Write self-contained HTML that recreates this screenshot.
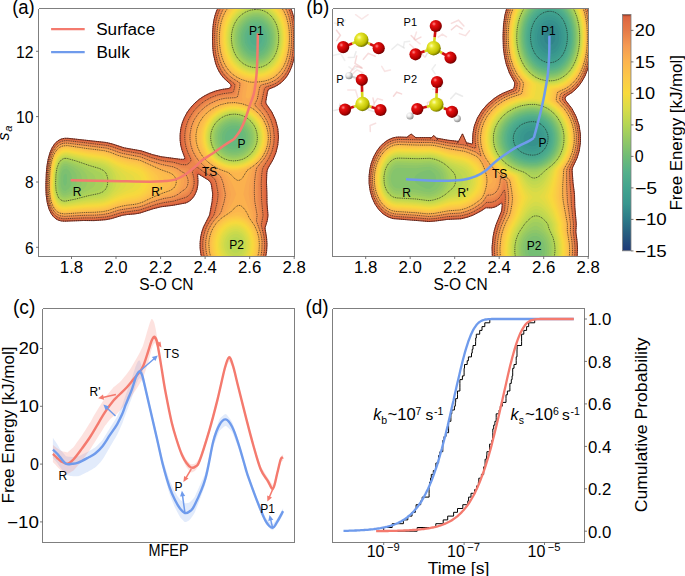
<!DOCTYPE html>
<html><head><meta charset="utf-8"><title>Free energy figure</title>
<style>html,body{margin:0;padding:0;background:#fff;width:685px;height:576px;overflow:hidden}svg{display:block}</style>
</head><body>
<svg width="685" height="576" viewBox="0 0 685 576"><rect width="100%" height="100%" fill="#fff"/><defs>
<clipPath id="clipA"><rect x="39" y="9" width="255" height="247"/></clipPath>
<clipPath id="clipB"><rect x="333" y="9" width="255" height="247"/></clipPath>
<clipPath id="clipC"><rect x="43" y="309" width="251" height="233"/></clipPath>
<clipPath id="clipD"><rect x="333" y="309" width="251" height="233"/></clipPath>
<filter id="blur1" x="-5%" y="-5%" width="110%" height="110%"><feGaussianBlur stdDeviation="0.7"/></filter>
</defs><g clip-path="url(#clipA)"><g><path d="M218.4,7 218.7,6.5 290,6.5 292.4,12.5 294.2,19.5 295.4,30.5 295.3,46.5 294.2,57 291.9,66 290.1,70.5 288,74.5 285.6,78 283,80.9 280.1,83.5 277.1,85.5 268.5,89.5 267.6,91.5 265.9,101 265.8,102.5 266.3,104 272,112.3 274,116.2 275.7,120.5 277.8,128.5 278.5,137 277.8,145 276,152.5 273.1,159.5 268.1,168 267.2,170.5 266.8,173 266.5,182 266.9,193.5 267,203 268,215.5 267.3,220.5 265,228 266.6,238 267,244.5 266.6,251.5 265.4,258.5 201.9,258.5 200.7,253.5 200.1,248 200.1,242.5 200.7,237 201.8,232 203.5,227 209.6,215 212.1,201.5 212.7,196.5 212.7,193.5 211.5,185.5 210.8,183 209.9,181.5 208,179.8 198.5,174.1 198,174.1 197.6,175 198,181.5 197.6,186.5 196.8,190 195.5,193.5 193.5,197 191.4,199.5 188.5,201.7 185.5,203 173,205.3 161,206.8 153,208.8 140.1,213 135,213.9 127.5,214.5 122.5,215.3 110.5,218.8 104.5,219.9 94,220.6 83.5,220.5 64,221.2 59.4,220.5 55.4,218.5 52.8,216 50.5,212.4 48.6,208 47.3,203 46.4,197.5 45.9,191 46.2,174.5 46.8,167.5 47.7,161.5 48.9,156 50.5,151.2 52.5,147 54.5,144 57,141.4 60,139.5 63.5,138.4 67.5,138.3 105.5,142.4 112,143.8 124.5,147.9 141,150.7 152.5,154.6 161,156.7 180.5,159.3 183.5,159.3 184.6,159 184.7,157.5 182.1,150.5 180.7,145 180.1,140 180.1,134.5 180.8,128.5 182.2,123 184.4,117.5 187.4,112 191,107.2 194.9,103 199.5,99.1 204.2,96 209.5,93.3 215.5,91 221.5,89.5 229,88.4 230,87.9 230.8,86.5 231,85.5 230.5,84.3 223.5,77.8 221,74.6 218.8,71 215.6,63.5 213.5,54.5 212.8,48.5 212.5,42 212.6,33 213,26 213.8,20.5 215,15.5 216.5,11 218.4,7Z" fill="#dc6440" fill-rule="evenodd"/><path d="M219.3,6.5 289.4,6.5 292,12.8 293.8,20 294.9,31 294.9,46.5 293.7,57 291.4,66 289.6,70.5 287.5,74.3 285,77.8 282.5,80.6 279.7,83 276.7,85 273.5,86.6 268.5,88.5 267.5,89.3 266.7,91.5 264.8,102 264.9,103.5 265.4,104.5 271,112.5 274.5,120.1 276.8,128.5 277.5,137 276.9,144.5 275.1,152 272.2,159 266.9,168 265.7,173 265.3,182.5 265.7,202.5 266.8,215.5 266.2,220 264.2,227.5 265.9,237.5 266.4,244 266.1,251.5 264.8,258.5 202.6,258.5 201.4,253.5 200.7,248 200.7,242.5 201.3,237 202.6,231.5 204.4,226.5 210.6,215 213.3,201.5 213.9,196.5 213.9,193 212.6,185 211.9,182.5 211,180.9 209,179.1 197,171.7 196.3,172 196,173 197,179 197,184 196.4,188 195.3,191.5 193.6,195 191.3,198 188.5,200.3 185.5,201.8 173,204.3 161,205.9 152.5,208.1 140,212.3 135,213.1 127.5,213.8 122.5,214.6 110.5,218.1 104.5,219.3 94,219.9 83.5,219.9 64,220.6 59.5,219.9 57.5,219.1 55.5,217.9 53,215.5 50.7,212 48.8,207.5 47.5,202.5 46.6,197 46.2,190.5 46.6,173.5 47.1,167 48.1,161 49.4,155.5 51,151 53,147 55.1,144 57.5,141.7 60.5,139.9 63.5,139 67.5,138.9 105.5,143 112,144.5 124,148.5 141,151.5 152.5,155.4 161,157.6 173,159.1 181.5,160.6 185.5,160.9 186.5,160.5 186.8,160 186.8,159 183.8,152 182.2,146.5 181.4,141.5 181.1,136 181.7,130 182.9,124.5 184.9,119 187.8,113.5 191,108.9 194.9,104.5 199.5,100.5 204,97.4 210,94.2 216,92 221.9,90.5 230,89.3 231,88.5 231.8,86.5 231.8,85 231.3,84 224.5,78 221.7,74.5 219.5,71 217.5,67 216.1,63 214,54.1 213.4,48.5 213,41 213.1,32.5 213.6,25.5 214.4,20.5 215.6,15.5 217.2,11 219.3,6.5Z" fill="#e06a42" fill-rule="evenodd"/><path d="M219.7,7 220,6.5 288.8,6.5 291.5,13 293.4,20.5 294.5,31.5 294.4,46.5 293.2,57 290.9,66 289,70.4 287,74.1 284.5,77.5 281.7,80.5 279,82.8 276,84.7 272.5,86.3 267.8,88 266.6,89 265.9,91 263.7,102.5 264.1,104.5 269.7,112.5 271.9,116.5 273.5,120.5 275.7,128.5 276.5,137 275.9,144.5 274,152 271,159 265.8,167.5 264.8,170.5 264.5,173 264,182.5 264.5,202 265.7,215.5 265.1,219.5 263.5,225 263.3,227 265.4,237.5 265.9,245 265.4,252 264.2,258.5 203.3,258.5 202,253 201.4,247.5 201.4,242 202.1,236.5 203.3,231.5 205.1,226.5 211.8,214.5 214.6,201.5 215.2,196 215.2,193 213.7,184 212.8,181.5 211.9,180 210.2,178.5 204,174.9 198,170.6 197,170.2 195.5,170.7 194.8,172 195.9,178 196.2,182 195.7,186.5 194.5,190.8 193,194 190.7,197 188.4,199 185.5,200.4 173,203.3 164.5,204.4 159.5,205.4 152.5,207.3 143.5,210.5 139.5,211.6 122.5,213.8 118.5,214.8 110.5,217.4 104.5,218.6 94,219.3 84,219.2 64,220 59.5,219.3 57.5,218.5 55.5,217.2 53,214.7 50.7,211 49,206.9 47.6,201.5 46.8,196 46.4,189.5 46.9,173.5 47.4,167 48.4,161 49.6,156 51.2,151.5 53,147.7 55.3,144.5 57.9,142 60.5,140.5 63.5,139.6 67.5,139.5 105,143.6 111.5,145.1 124,149.2 141,152.3 152.5,156.2 162,158.7 172.5,160.1 181.5,161.9 185,162.3 186.5,162.1 187.9,161 188.3,160 188.2,159 185.2,152.5 183.4,146.5 182.5,141.5 182.3,136.5 182.8,130.5 184,125 186,119.5 188.5,114.5 191.6,110 195.5,105.5 199.5,101.9 204.3,98.5 210,95.4 216.3,93 222.5,91.5 230.5,90.4 231.7,89.5 232.7,87 232.8,85 232.4,84 227.5,80.1 225,77.6 222.4,74.5 219.9,70.5 216.6,63 214.5,54 213.9,48 213.6,41 213.6,32.5 214.1,25.5 214.9,20.5 216.2,15.5 217.8,11 219.7,7Z" fill="#e27144" fill-rule="evenodd"/><path d="M220.4,7 220.7,6.5 288.2,6.5 291,13 292.8,20.5 294,32 293.9,46.5 292.5,58 290.3,66 288.5,70.2 286.4,74 283.8,77.5 281,80.4 278.5,82.4 275.5,84.3 271.6,86 267,87.5 265.7,88.5 265.1,90.5 262.6,103 263,105 268.8,113 272.4,120.5 274.6,128.5 275.4,136.5 274.9,144 273.1,151.5 270,158.6 264.5,167.5 263.6,170.5 263.1,173.5 262.7,183 263.1,201.5 264.4,215.5 264,219 262.5,224.3 262.3,226 264.6,236.5 265.3,244.5 264.9,251.5 263.5,258.5 204,258.5 202.7,253 202.1,247.5 202.1,242 202.8,236.5 204,231.5 206,226.3 208.3,222 212.3,216 213.1,214 215.9,201.5 216.6,196 216.6,193 215,184 214.3,181.5 213.2,179.5 211.5,178 204.7,174 198.5,169.5 197,168.8 196,169 194.7,170 193.9,171 193.7,172 194.9,178 195.2,182 194.7,186.5 193.5,190.5 192,193.5 190,196.1 187.5,198.1 185,199.2 173,202.3 164,203.6 158.5,204.8 152,206.6 143.5,209.7 139.5,210.8 122,213.2 110.5,216.7 104.5,217.9 94.5,218.6 84,218.6 64.5,219.4 59.5,218.7 57.5,217.9 55.5,216.5 53,213.9 50.9,210.5 49.1,206 47.9,201 47.1,195.5 46.7,189.5 47.2,173 48.7,161 49.9,156 51.5,151.6 53.5,147.7 55.5,144.9 58,142.6 60.8,141 64,140.2 67.5,140 86,142.4 95.5,143.1 105,144.3 111.5,145.8 123.5,149.8 141,153 152.5,157.1 162.5,159.7 172.5,161 181.5,163.2 184.5,163.5 187,163.1 189,161.5 189.6,160.5 189.5,159 186.3,152 184.5,146 183.7,141.5 183.5,136.5 183.9,131 185.1,125.5 187,120 189.6,115 192.7,110.5 196.2,106.5 200.5,102.6 205,99.4 211,96.2 217,94 223,92.5 231.5,91.3 232.8,90 233.5,87.5 233.8,85.5 233.5,84 225.7,77.5 223,74.3 220.5,70.4 217.2,63 215.3,55 214.5,48.7 214.1,42 214.2,33.5 214.6,26.5 215.5,20.5 216.6,16 218.2,11.5 220.4,7Z" fill="#e47747" fill-rule="evenodd"/><path d="M221.4,6.5 287.6,6.5 290.6,13.5 292.5,21.5 293.5,32.5 293.4,46.5 292,57.5 291,62.1 289.7,66 288,70 285.7,74 283.4,77 280.5,80 277.5,82.3 274.6,84 266,87 264.8,88 264.2,90 261.3,103.5 261.9,105.5 267.5,113 271,120 273.4,128 274.3,136.5 273.8,144 272,151.3 268.8,158.5 263.1,167.5 262.3,170.5 261.8,174 261.2,183.5 261.7,201.5 263.1,215.5 261.3,225 263.9,236 264.7,244.5 264.3,251.5 262.9,258.5 204.7,258.5 203.4,253 202.7,247.5 202.8,241.5 203.6,236 205,230.7 207,225.8 209,222.2 213.3,216 214.3,214 217.2,202 218,196 218,193 216.3,183.5 215.4,180.5 214.5,178.9 212.5,177.1 205,172.9 197.5,167.5 196,167.6 194.7,168.5 193.2,170 192.5,171.5 192.6,173 193.9,178 194.2,181.5 193.8,186 192.6,190 191.3,192.5 189.5,194.8 187.5,196.5 185,197.8 173.5,201.2 163.5,202.7 157,204.3 151.5,205.9 139.8,210 135.5,210.8 127.5,211.6 121.5,212.6 110.5,216 105,217.1 94.5,217.9 84,217.9 64.5,218.9 59.5,218.1 55.7,216 53,213.2 51,209.8 49.3,205.5 48.1,200.5 47.4,195 47,189 47.5,172.5 49,161 50.3,156 51.9,151.5 53.8,148 56,145 58.5,142.8 61,141.5 64,140.7 67.5,140.6 106.5,145.3 111.5,146.5 123.5,150.6 141,153.8 151.5,157.6 159.5,159.9 164.5,161 173,162.1 181.5,164.5 185,164.8 186.5,164.6 188.5,163.5 190.1,162 190.9,160.5 191,159.5 187.8,152.5 186.1,147.5 185,142 184.7,136.5 185.1,131 186.3,125.5 188.1,120.5 190.7,115.5 193.5,111.4 197,107.3 201,103.7 205.5,100.5 211,97.5 217.5,95 223.5,93.6 232.1,92.5 233.5,91.3 234.5,88 234.9,85 234.5,83.9 229,79.6 226.1,77 223.2,73.5 220.7,69.5 217.5,62 215.7,54 215,47.9 214.7,41 214.7,33 215.3,26 216.1,20.5 217.5,15 219.3,10.5 221.4,6.5Z" fill="#e77e49" fill-rule="evenodd"/><path d="M221.8,7 222.2,6.5 286.9,6.5 288.5,9.6 290,13.5 292,22.1 293,33 292.8,47 291.5,57.5 288.9,66.5 287.1,70.5 285,74 282.5,77.1 279.5,80 274,83.4 270.5,84.8 265.5,86.3 264,87.3 263.3,89 261.4,99 260,103.5 260.4,105.5 266.2,113 268.2,116.5 270,120.5 272.4,128.5 273.3,136.5 272.7,144 271,151 267.6,158.5 261.7,167.5 260.8,171 260.3,175 259.7,184 260.2,201 261.8,215 260.3,224 263.1,235 264.1,243.5 263.7,251 262.3,258.5 205.5,258.5 204.1,253 203.4,247 203.6,241 204.4,235.5 205.8,230.5 208,225.5 210.5,221.2 214.8,215.5 215.8,213.5 217.1,209 218.7,202 219.6,196 219.6,193 217.7,183 216.7,180 215.6,178 213.5,176.3 205.1,171.5 199,166.8 197.5,166 196,166 194.5,166.7 192.5,168.5 191.3,170.5 191.2,172.5 192.8,178.5 193,182.5 192.2,187.5 190.4,191.5 188.5,193.9 186,195.8 176.5,199.2 172,200.5 164.5,201.6 159,202.9 152,204.9 143.5,208.1 139.5,209.3 121.5,211.8 110,215.4 104.5,216.5 94.5,217.2 84,217.3 64.5,218.3 60,217.6 58,216.8 56,215.6 53.5,213.1 51.5,209.9 49.7,205.5 48.4,200.5 47.7,195 47.3,189 47.8,173 49.2,161.5 50.5,156.5 52,152.3 54,148.5 56,145.7 58.5,143.5 61,142.1 64,141.3 67.5,141.2 106.5,146 111.5,147.3 122,151 128,152.3 140,154.3 156,159.8 163.5,161.7 173.5,163.3 182,166.1 185.5,166.3 187.5,165.9 189.5,164.6 191.5,162.7 192.4,161 192.4,159.5 189.1,152.5 187.5,148 186.3,142.5 185.9,137 186.3,131.5 187.3,126.5 189,121.5 191.5,116.5 194.5,112.1 198,108 201.9,104.5 206,101.5 212,98.3 218.3,96 224,94.7 233,93.6 233.9,93 234.5,92.1 235.6,88 236,85 235.5,83.5 230,79.6 227,77 224,73.5 221.5,69.7 218.4,62.5 216.4,54 215.5,47.5 215.2,41 215.3,33 215.8,26.5 216.7,21 218,15.7 219.7,11 221.8,7Z" fill="#eb864c" fill-rule="evenodd"/><path d="M222.7,7 223,6.5 286.2,6.5 288,10.1 289.5,14.1 291.7,23.5 292.6,34.5 292.2,48 290.7,58.5 288,67 286,71 284,74.2 281.6,77 278.9,79.5 276,81.5 273,83.1 264.5,85.8 263,86.7 262.2,88.5 260.1,99.5 258.5,104 258.6,105 259.1,106 263,110.5 265.5,114.1 268.9,120.5 270.3,124.5 271.4,128.5 272.3,136.5 271.8,143.5 270.2,150 268.7,154 266.6,158 260.1,167.5 259.1,172 258.5,178 258.1,185 258.5,201 260.3,215 259.1,223 262.4,234.5 263.4,243 263.1,251 261.6,258.5 206.3,258.5 204.8,253 204.2,247.5 204.2,241.5 205,236 206.6,230.5 208.8,225.5 211.6,221 216.3,215 218.1,211 220.1,203 221.3,196 221.3,193 220.8,189.5 218.7,181 217.7,178.5 216.7,177 214.7,175.5 206.5,171 198.5,164.8 195,163 193.8,159 189.5,150 187.7,143 187.3,138.5 187.3,134 188,129.5 189.1,125 190.6,121 192.7,117 195.4,113 198.3,109.5 204.5,104 211.5,99.9 216.5,97.8 221.5,96.4 226,95.6 234,94.8 235.3,93.5 236,91.6 237.2,85.5 236.9,83.5 236,82.5 231.5,79.7 228.5,77.3 225.8,74.5 223.5,71.5 221.2,67.5 219.3,63 217.8,58 216.7,52.5 216,46.5 215.8,39.5 215.9,32.5 216.5,26 217.4,20.5 218.8,15.5 220.6,11 222.7,7ZM63.7,142 67.5,141.8 86.5,144.4 101.5,145.9 107,146.8 111.5,148 122.5,151.8 140.5,155.3 151.5,159.3 161,162.1 173.5,164.4 182,167.7 188,168.4 189,169.4 191.6,179 191.7,183.5 190.8,187.5 189,191 186.5,193.6 176.5,198 172,199.4 164,200.7 158,202.2 151,204.3 142.5,207.6 138.5,208.7 121.5,211.1 117.5,212.1 109,214.9 102.5,216 94.5,216.5 83.5,216.6 64.5,217.7 59.5,216.9 56.1,215 53.5,212.3 51.3,208.5 49.5,203.6 48.3,198 47.7,191.5 47.6,184.5 47.9,175 48.5,168 49.5,161.5 51,156 52.8,151.5 55,147.7 57.5,144.9 60.5,143 63.7,142Z" fill="#ef8e4e" fill-rule="evenodd"/><path d="M224,6.5 285.3,6.5 287.4,10.5 289,14.5 290.3,19.5 291.2,24.5 292.1,35.5 291.7,48 290.2,58 287.5,66.5 285.5,70.5 283.5,73.6 281,76.5 278,79.2 272.4,82.5 269,83.8 263,85.4 261.6,86.5 260.9,88.5 258.9,99 256.8,104 256.9,105 257.4,106 263.5,113.1 265.7,116.5 267.8,120.5 270.3,128 271.1,132 271.4,136 270.9,143.5 269.3,150 267.7,154 265.8,157.5 263.1,161.5 259.5,166 258.4,168 257.4,173 256.5,180.5 256.3,186 256.7,201 258.8,215 257.8,222 261.5,233.5 262.8,242 262.5,250.5 260.9,258.5 207.1,258.5 205.6,253 204.9,247 205,241 205.9,235.5 207.6,230 210,225 212.9,220.5 218,214.5 219.7,211 221.7,204 222.8,198.5 223.2,194.5 222.8,190.5 220.8,182 219.8,179 218.7,177 216.5,175 209.5,171.3 205.5,168.8 197.1,161.5 193.4,155.5 191.5,151.5 189.9,147 189,142.5 188.6,138 188.7,133.5 189.4,129 190.5,125 192.1,121 194.2,117 196.6,113.5 199.6,110 202.8,107 206,104.5 213,100.6 218,98.6 223,97.4 235,96.1 236.3,95 237,93 238.4,86 238.3,83.5 237,82.1 232,79 229,76.6 226.4,74 224,70.8 221.6,66.5 219.7,62 218.3,57 217.2,51.5 216.6,45.5 216.3,38.5 216.5,31.5 217.1,25.5 218.2,20 219.7,15 221.6,10.5 224,6.5ZM64.5,142.5 67.5,142.4 87,145.1 101.5,146.6 106.9,147.5 111.5,148.8 122.5,152.6 140.5,156.1 151.5,160.3 161,163.1 171.5,165.1 174.6,166 181.5,169.3 185.5,170.3 187,171.6 189,175.4 190.1,179 190.2,183 189.5,186.5 188,189.5 186,191.6 175.8,197 171.5,198.4 164,199.6 158.5,201.1 151.5,203.2 143,206.6 138.5,207.9 121.5,210.3 117.5,211.3 109,214.2 102.5,215.3 94.5,215.9 83.5,216 64.5,217.1 62,216.8 59.5,216.2 56.4,214.5 53.5,211.5 51.3,207.5 49.6,202.5 48.5,197 47.9,190.5 47.9,183.5 48.3,173.5 49,166.5 50.1,160.5 51.5,155.5 53.5,151 55.7,147.5 58.5,144.8 61.5,143.2 64.5,142.5Z" fill="#f39651" fill-rule="evenodd"/><path d="M224.9,6.5 284.5,6.5 286.7,10.5 288.5,15 289.8,20 290.8,25.5 291.6,36.5 291.1,49 289.4,58.5 288.1,63 286.5,67 284.6,70.5 282.5,73.6 279.9,76.5 276.9,79 274,80.8 271,82.3 262,84.8 260.5,85.7 259.6,87.5 257.4,99 254.9,104 255,105 255.6,106 260,110.5 263.3,114.5 266.8,120.5 268.3,124 269.7,128.5 270.7,136 270.3,143 268.7,149.5 266.9,154 264.6,158 256.7,168 255.6,173 254.5,182 254.3,192.5 254.7,201 257.1,215 256.5,221 260.5,232.5 261.5,237 262.1,241.5 261.9,250 261.2,254.5 260.2,258.5 207.9,258.5 206.3,252.5 205.6,246.5 205.8,240.5 206.9,234.5 208.8,229 211.5,224 214.4,220 219.4,214.5 221.2,211.5 224.2,201.5 225.3,195.5 225.2,193 223.4,184 221.7,179 220.5,176.5 218,174.2 210.5,170.4 206,167.6 202.3,164.5 198.8,161 195.9,157 193.2,152 191.3,147 190.3,142 189.9,138 190.1,133.5 190.8,129 192,124.8 193.6,121 195.8,117 198.5,113.2 201.5,109.9 204.5,107.3 208,104.8 215.2,101 219.5,99.5 224.5,98.4 229,97.8 236,97.6 237.2,97 238,95.2 239.8,86 239.9,83.5 238.6,82 233.5,79 230.1,76.5 227.1,73.5 224.8,70.5 222.4,66.5 220.5,62 219,57 217.8,51 217.1,44.5 216.9,37.5 217.1,31 217.8,25 219,19.6 220.5,14.9 222.5,10.4 224.9,6.5ZM62.4,143.5 64.5,143.1 67.5,143.1 106.5,148.1 111,149.4 118.5,152.2 122.5,153.4 140.5,156.9 151.5,161.2 161.5,164.4 173.5,166.9 178,169 182,171.9 184.4,173 185.8,174.5 187.2,177 188,179.6 188.1,182.5 187.5,185.5 186.5,187.5 184.7,189.5 182,191.2 178.6,194 175,196 171,197.3 164.5,198.4 159.5,199.7 151.5,202.3 143,205.8 138.5,207.1 121.5,209.6 117.5,210.5 109,213.4 102.5,214.6 94.5,215.2 84,215.3 64.5,216.4 60,215.8 57,214.3 54.5,212 52.2,208.5 50.5,204.5 49.3,199.5 48.5,194.1 48.2,188 48.2,181 48.7,172.5 49.4,166 50.5,160.2 52,155.2 54,150.9 56.5,147.3 59.1,145 62.4,143.5Z" fill="#f69d52" fill-rule="evenodd"/><path d="M225.9,6.5 283.6,6.5 286,10.7 287.9,15.5 289.5,21 290.4,26.5 291.1,37.5 290.5,49.2 288.7,59 285.7,67 283.5,70.9 281.2,74 278.5,76.7 275.5,79 269.5,82 260.5,84.3 259,85.1 258,87 255.8,98.5 255,100.2 252.5,104 253.2,105.5 258,109.8 261,113 263.3,116 265.5,119.5 267.4,123.5 268.7,127.5 269.7,132 270.1,136 269.6,143.5 267.7,150.5 265.6,155 263.1,159 260.2,162.5 255.8,167 254.7,168.5 253.4,174.5 252.1,183.5 251.9,194.5 252.8,203.5 255.2,214.5 254.9,220 259.5,231.5 260.7,236 261.3,240.5 261.5,245 261.3,249.5 260.7,254 259.5,258.5 208.7,258.5 207.1,252.5 206.4,246 206.7,239.5 208,233.6 210,228.4 212.8,223.5 215.9,219.5 221,214.5 223.3,211 226.5,201.5 227.7,195.5 227.8,193.5 225.8,184.5 223.9,179 222.4,176 221.1,174.5 219.5,173.3 212,169.7 207.5,167 203.7,164 200.5,160.8 197.2,156.5 194.5,151.6 192.6,146.5 191.6,141.5 191.3,137.5 191.5,133 192.4,128.5 193.6,124.5 195.4,120.5 197.8,116.5 200.5,113 203.5,109.9 206.5,107.4 210.1,105 214,103 218,101.4 222.5,100.1 227,99.3 238,99.1 239,98.6 239.5,97.6 241.6,85.5 241.7,84 241.4,83 240.5,82 235,79 231.5,76.6 228.5,73.8 225.7,70.5 223.3,66.5 221.1,61.5 219.5,56.4 218.3,50.5 217.7,44 217.5,37 217.8,30.5 218.5,25 219.7,19.5 221.4,14.5 223.5,10.2 225.9,6.5ZM62.9,144 67.5,143.7 106.5,148.9 111,150.1 122,154.1 140,157.6 151.5,162.2 159.5,164.9 164,166.2 172.5,168 175,169 177.5,170.5 179.3,172 181,174 182.9,177 183.8,179 184.1,182 183.7,184.5 182.8,186.5 180.2,190.5 178,192.6 174.9,194.5 171,196 164,197.3 159,198.8 151.5,201.3 143,204.9 139,206.1 121,208.9 117,209.9 109,212.7 102.5,213.9 94.5,214.5 84,214.6 64.5,215.8 60,215.1 57,213.6 54.5,211.2 52.4,208 50.6,203.5 49.4,198.5 48.7,193 48.5,186.5 48.6,178.5 49.1,171 49.9,164.5 51.2,159 52.7,154.5 54.7,150.5 57,147.5 60,145.1 62.9,144Z" fill="#f8a450" fill-rule="evenodd"/><path d="M226.9,6.5 282.7,6.5 285.1,10.5 287.3,15.5 288.8,21 289.9,27 290.5,38.5 289.8,50 287.9,59.5 286.3,64 284.5,67.8 282.5,71.1 280,74.2 277,77 274.1,79 268,81.8 259,83.7 257,84.5 256,86.5 253.5,98.5 252,100.6 249,103 249,103.5 249.8,104.5 255.5,108.7 259,111.9 261.7,115 263.8,118 266,122 267.6,126 268.8,130.5 269.4,135 269.5,139 269.1,143 268.2,147 266.9,151 264.6,155.5 261.5,160 259,162.8 253.9,167.5 252.6,169 250.8,176 249.1,185.5 248.7,194.5 250,203 253.1,214.5 253.2,219 258.3,230 259.6,234.5 260.5,239 260.8,244 260.7,249 260,254 258.8,258.5 209.6,258.5 207.9,252.5 207.1,246 207.5,239.5 209,233 211.1,228 214.1,223 217.5,219.1 223.2,214 225.5,211 229.3,201.5 230.9,195 230.9,193.5 228.6,184.5 226,178 224.3,175 221.3,172.5 214,169.2 209.2,166.5 205.5,163.7 202.2,160.5 198.6,156 196.1,151.5 194.2,146.5 193,141 192.8,137 193.1,132.5 194,128 195.3,124 197.3,120 199.9,116 202.9,112.5 206,109.6 209.5,107 213,105 217,103.2 221.5,101.7 226,100.8 230.5,100.4 241,100.9 242,100.7 242.4,100 241.9,96 243.8,85.5 243.9,84 243.6,83 241.7,81.5 236.5,78.9 233,76.7 229.8,74 227,70.8 224.2,66.5 222,62 220.4,57 219,51 218.3,44.5 218.1,37.5 218.4,31 219.1,25 220.4,19.5 222,15 224.2,10.5 226.9,6.5ZM63.4,144.5 67.5,144.3 106.5,149.6 110.5,150.7 118,153.7 122,154.9 140,158.5 151.5,163.3 160,166.3 172,169.4 174.5,170.5 176.7,172 178.6,174 179.9,176 180.8,178.5 181.1,181 181,183.5 180.5,186 179.3,188.5 177.7,190.5 176,192 173.5,193.5 170.5,194.6 164.5,195.9 160,197.2 151,200.4 142.5,204.1 138.1,205.5 133,206.4 127,207 121,208.1 117,209.1 108.5,212 102.5,213.2 94.5,213.8 84,213.9 64.5,215.2 60,214.5 57,212.9 54.5,210.4 52.4,207 50.7,202.5 49.6,197.5 48.9,191.5 48.8,185 49,176.5 49.6,169.5 50.4,163.5 51.7,158.5 53.3,154 55.5,150.1 57.7,147.5 60.5,145.5 63.4,144.5Z" fill="#f9aa50" fill-rule="evenodd"/><path d="M228,6.5 281.8,6.5 284,9.9 285.8,13.5 287.2,17.5 288.4,22 289.4,27.5 289.9,33.5 290,40.5 289.7,46.5 289,52 287.8,57.5 286.3,62 284.4,66.5 282,70.4 279.5,73.5 276.5,76.3 273,78.7 267,81.3 263,82.2 256,83.2 253.3,84.5 252.3,86.5 250.2,97 249.5,98 248.5,98.5 247.5,98.5 246.5,98 245.6,96.5 247.3,86 247.4,84.5 247,83.5 245.1,82 238.5,79 235,77.1 232,74.8 229,72 226,68 223.7,64 221.9,59.5 220.3,54 219.2,47.5 218.7,41 218.8,33.5 219.5,26.5 220.9,20.5 222.6,15.5 225,10.7 228,6.5ZM226.8,102 234.5,101.6 242,102.7 247.5,104.6 253,107.8 258.5,112.4 262.8,117.5 266.3,124 268.2,130.5 268.9,135.5 268.8,140.5 268,145.5 266.4,150.5 264,155.5 260.5,160.3 257.5,163.5 251.2,168.5 249.9,170 245.3,184.5 243.4,194 246.1,202.5 250.7,214.5 251.2,218 256.5,227.7 258,231.5 259.1,235.5 260,241 260.1,247 259.4,253 258,258.5 210.4,258.5 208.7,252.5 208,246.5 208.2,240.5 209.4,234.5 211.5,229.1 214,224.7 216.9,221 220,218.1 225.3,214 228.1,211 233.2,201.5 236.3,194 232.8,185 228.2,176.5 226.4,174 223.7,172 215,168.3 209.5,165 204.2,160.5 200.1,155.5 197,150 195.2,144.5 194.4,139 194.5,133 195.7,127.5 197.9,122 201,117 204.9,112.5 209.5,108.8 215,105.6 221,103.3 226.8,102ZM64.3,145 67.5,144.9 87,147.8 104.7,150 110,151.4 117.5,154.3 122,155.7 128,157.1 137,158.6 141.5,159.9 153.5,165.2 163,168.7 171,170.9 174.2,172.5 176.8,175 178.4,178 179,182 178.4,185.5 177.5,187.5 176,189.5 172.5,192 170,193 161.5,195.3 151,199.3 142.5,203.2 138,204.6 133,205.5 127,206.1 121,207.2 116.5,208.4 108.5,211.2 102.5,212.4 94.5,213 84.5,213.2 64.5,214.6 60,213.8 57,212.2 54.5,209.6 52.4,206 50.8,201.5 49.7,196 49.2,190 49.4,174.5 50,168 51,162.5 52.4,157.5 54,153.5 56,150.2 58.5,147.5 61,145.9 64.3,145Z" fill="#fbb14e" fill-rule="evenodd"/><path d="M228.6,7 229.1,6.5 280.8,6.5 282.6,9 284.6,12.5 286.2,16.5 287.6,21 288.6,26 289.2,31.5 289.5,37 289.3,43.5 288.8,49 286.8,58.5 285.4,62.5 283.6,66.5 281.5,69.8 279,72.9 276.5,75.3 273.5,77.5 268.5,80 263,81.4 253,82.3 248.5,81.8 240.5,79 235,76.1 230.2,72 226.3,67 223,60.4 220.7,52.5 219.5,44 219.4,34.5 220.2,26.5 222,19 224.9,12.5 228.6,7ZM227.6,103 235,102.6 242,103.7 248,105.8 254,109.4 259.2,114 263.3,119.5 266.4,126 268,132.5 268.4,138.5 267.7,144.5 266,150 263.3,155.5 260.5,159.5 257.1,163 254,165.6 247,170.5 242.5,177.9 241,179.5 239,180.4 237.5,180.3 235.5,179.3 230.3,174 228.2,172.5 220.5,169.7 216,167.6 211.5,164.8 207.3,161.5 203,157 200,152.5 197.5,147 196.2,141.5 195.9,135 197,128.5 199.5,122.3 203.3,116.5 208.3,111.5 214,107.7 220.5,104.7 227.6,103ZM62.5,146 65,145.6 67.5,145.6 87.5,148.6 104,150.6 109.5,152 117.5,155.2 122,156.6 128,158 137,159.6 140.5,160.5 161,169.7 169.5,172.7 172.1,174 174.5,176.3 175.9,179 176.3,182 175.7,185 173.9,188 170.5,190.4 162,193.4 151,198.1 143,202 138,203.7 133,204.6 127,205.2 121,206.4 116.5,207.6 108.3,210.5 102.5,211.7 94.5,212.3 84.5,212.5 64.5,213.9 60,213.2 57.5,211.9 55,209.5 53,206.3 51.5,202.5 50.4,198 49.6,192.5 49.5,180 50.5,167 51.6,161.5 53,156.8 55,152.5 57,149.7 59.5,147.4 62.5,146ZM238.5,205.5 240,205.5 241.5,206.1 244.5,209.1 247.8,214.5 249,217.5 254.5,225.5 257,231 258.8,237.5 259.4,244.5 258.9,251.5 257.2,258.5 211.4,258.5 210.2,255 209.3,251 208.8,243.5 209.9,236 211,232.5 212.5,229 215.6,224 219.5,219.7 222.5,217.4 230.6,212 236,206.7 238.5,205.5Z" fill="#fcb64d" fill-rule="evenodd"/><path d="M229.7,7 230.2,6.5 279.8,6.5 282.4,10 284.5,14 286,17.9 287.3,22.5 288.2,27 288.7,32.5 288.9,38 288.7,44 288.1,49.5 286.1,58.5 283,66 281,69.2 278.5,72.3 276,74.7 273,76.9 267.5,79.5 261.5,80.9 253.5,81.3 247.5,80.5 241,78.4 235.5,75.4 230.5,71.1 226.6,66 223.4,59.5 221.3,52 220.1,43.5 220,34 221,26 223,18.5 226,12.1 229.7,7ZM230.5,103.5 237,103.5 243.5,104.8 249.5,107.3 255.5,111.3 260.2,116 263.8,121.5 266.3,127.5 267.7,134 267.7,140.5 266.6,146.5 264.3,152.5 260.9,158 256.8,162.5 252,166.2 241.5,171.8 238,172.8 236,172.8 233,172.3 226.5,170.8 222,169.4 216,166.6 210.8,163 205.7,158 201.8,152.5 199.1,146.5 197.7,140 197.7,133.5 199,127.5 201.7,121.5 205.7,116 211,111.2 217,107.4 223.5,104.8 230.5,103.5ZM63.1,146.5 67.5,146.2 87,149.3 104.5,151.5 109.5,152.8 117.5,156.1 121.5,157.3 128,158.9 137,160.5 140.5,161.5 144,163 156.8,169.5 167.5,175.2 169.6,177 170.9,179 171.4,182 170.9,184.5 169.3,187 166.3,189 143.9,200.5 138,202.7 133,203.7 126.5,204.4 120.5,205.6 116,206.9 108,209.8 102,211 94.5,211.5 85,211.8 65,213.3 62.5,213.1 60,212.5 57.3,211 55,208.6 53,205.3 51.5,201.2 50.5,196.5 49.9,191 49.7,185 49.9,177 50.4,170.5 51.2,165 52.3,160 53.9,155.5 55.9,152 58,149.4 60.5,147.5 63.1,146.5ZM235.5,212.5 237.5,212.1 239.5,212.2 241.5,212.8 243.5,214 251,221.8 253.5,225.4 255.4,229 257.7,236 258.7,243.5 258.3,251 256.4,258.5 212.3,258.5 210.2,251.5 209.7,244 210,240 210.7,236.5 211.7,233 213.2,229.5 216.8,224 221.5,219.3 227.5,215.7 235.5,212.5Z" fill="#fcbc4c" fill-rule="evenodd"/><path d="M230.8,7 231.3,6.5 278.8,6.5 282.1,11 283.9,14.5 285.5,18.5 286.8,23 287.7,28 288.2,33.5 288.3,39 287.5,49.8 285.4,58.5 283.9,62.5 282,66.3 279.8,69.5 277.5,72.2 274.9,74.5 272,76.5 266.5,79 260.5,80.2 253,80.4 246.5,79.4 240.5,77.2 235,74 230.6,70 226.9,65 223.8,58.5 221.8,51 220.7,42.5 220.7,33 221.9,25 224,18 227,12 230.8,7ZM228.3,104.5 235,104.1 241.5,105 248,107.2 253.5,110.5 258.5,114.9 262.3,120 265,125.5 266.8,132 267.3,138.5 266.4,145 264.4,151 261,157 256.5,162 251.5,165.8 245.5,168.9 239,170.8 233,171.1 225.5,169.8 219,167.4 213.5,164.1 208.4,159.5 204.2,154 201.2,148 199.5,142 199.2,135.5 200.1,129.5 202.4,123.5 205.8,118 210,113.4 215.5,109.3 221.5,106.3 228.3,104.5ZM63.9,147 67.5,146.9 87.5,150.1 104.5,152.3 109.5,153.7 117,156.8 121.5,158.3 128,159.9 136.7,161.5 140.5,162.6 144.6,164.5 155,170.5 158.1,172.5 161,175 163,177.5 163.8,179.5 164,182.5 163.5,185 162.7,186.5 161,188.5 156.6,192 143.6,199.5 137.5,201.8 133,202.7 127,203.4 120.5,204.7 116,205.9 108,208.9 102,210.2 94.5,210.8 85,211 65,212.6 62.5,212.5 60,211.8 57.5,210.4 55,207.8 53,204.2 51.6,200 50.6,195 50.1,189.5 50.3,175 51.7,164 53,159.1 54.5,155.3 56.4,152 58.5,149.7 61,147.9 63.9,147ZM233.7,215 236.5,214.7 239,214.9 241.5,215.6 244.5,217.2 247.5,219.6 250,222.1 252.2,225 254,228 255.5,231.4 256.6,235 257.5,239 257.9,243 257.9,247 257.5,251 256.6,255 255.5,258.5 213.3,258.5 212,255 211.2,251.5 210.5,244.5 211.4,237.5 213.6,231 217,225.2 221.6,220.5 227,217.1 230.5,215.8 233.7,215Z" fill="#fcc04a" fill-rule="evenodd"/><path d="M232,7 232.5,6.5 277.8,6.5 280,9.2 282,12.3 283.8,16 285.3,20 286.5,24.5 287.2,29 287.7,34 287.7,40 287.4,45.5 286.8,50.5 284.5,59.1 282.9,63 281,66.5 278.8,69.5 276.5,72.1 274,74.2 271,76.1 265.5,78.5 259.5,79.6 252,79.5 245.5,78.2 240,76.1 235,72.9 230.5,68.6 227,63.5 224.1,57 222.2,49.5 221.3,41 221.5,32 222.7,24.5 225,17.5 228,11.9 232,7ZM229.4,105 236,104.8 242.5,105.8 248.5,108.1 253.9,111.5 258.5,115.8 262.3,121 265,127 266.4,133 266.7,139.5 265.6,146 263.3,152 260,157.4 255.7,162 250.5,165.8 244.5,168.6 238,170.1 231.5,170.2 225,169 219,166.7 213.5,163.2 208.6,158.5 204.7,153 202.2,147.5 200.7,141.5 200.5,135 201.6,129 203.7,123.5 207.1,118 211.5,113.3 217,109.3 223,106.5 229.4,105ZM62.6,148 65,147.5 67.5,147.6 87.5,150.9 104,153 109.3,154.5 117,157.8 121,159.1 127.5,160.8 136.5,162.5 140.5,163.8 144.1,165.5 148.8,168.5 154.3,172.5 156.8,175 158,177 158.7,179.5 158.8,183.5 158.2,186 157.2,188 155.9,189.5 150.2,194 143.2,198.5 137,200.9 127,202.3 120.5,203.7 116,205 108,208.1 102,209.3 94.5,210 85,210.3 65,212 62.5,211.8 60,211.1 57.5,209.6 55.4,207.5 53.5,204.2 52.1,200.5 51.1,196 50.5,191 50.5,178.5 51.6,166.5 52.5,162 54,157.5 55.5,154.3 57.5,151.4 60,149.2 62.6,148ZM232.8,216.5 236,216.2 238.5,216.3 241.5,217.2 244,218.4 246.5,220.1 249.1,222.5 251.5,225.5 253.3,228.5 254.8,232 255.9,235.5 257.1,243 257.1,247 256.7,251 255.8,255 254.6,258.5 214.4,258.5 212.2,252 211.5,245.5 212.1,238.5 214.1,232 217.5,226.2 219.5,223.8 222,221.5 227,218.4 232.8,216.5Z" fill="#fcc649" fill-rule="evenodd"/><path d="M233.2,7 233.8,6.5 276.6,6.5 279.5,9.8 281.8,13.5 283.5,17 284.9,21 286,25.4 286.7,30 287.1,40.5 286.1,50.5 284,58.5 282.5,62.1 280.5,65.8 278.5,68.6 276,71.4 273.5,73.5 270.5,75.5 265,77.8 259,78.8 252,78.7 245.5,77.4 240,75.1 235,71.8 230.7,67.5 227.4,62.5 224.6,56 222.7,48.5 221.9,40.5 222.2,31.5 223.6,24 225.8,17.5 229,11.8 233.2,7ZM230.5,105.5 237,105.5 243,106.6 248.9,109 254,112.3 258.5,116.7 262.1,122 264.7,128 265.9,134 266,140.5 264.8,146.5 262.5,152.3 259.1,157.5 254.8,162 249.5,165.7 243.5,168.2 237.5,169.5 231.5,169.6 225,168.4 219,166 213.7,162.5 209.1,158 205.6,153 203.1,147.5 201.7,141 201.6,134.5 202.7,128.5 205.2,122.5 208.5,117.5 213,113 218.5,109.2 224.5,106.7 230.5,105.5ZM63.3,148.5 67.5,148.2 87.5,151.6 104.5,154 109.5,155.5 116.5,158.5 121,160.1 127.5,161.9 136.5,163.7 140.4,165 144.2,167 147.7,169.5 151.1,172.5 153.5,175.5 154.5,178 154.8,180.5 154.7,184.5 154,187 152,190 148.9,193 144.5,196.3 140.5,198.5 135.5,200 126.5,201.3 119,203.1 106,207.7 99.5,208.8 85.5,209.5 65,211.3 62.5,211.1 60,210.4 57.5,208.9 55.4,206.5 53.5,203.1 52.1,199 51.2,194.5 50.8,189.5 50.9,176 52.1,165.5 53.2,161 54.6,157 56.5,153.6 58.5,151.2 60.7,149.5 63.3,148.5ZM234.5,217.5 237.5,217.5 240,218 242.5,218.9 245,220.3 247.5,222.3 249.5,224.5 253,230 255.3,236.5 256.3,244 255.7,251.5 253.7,258.5 215.5,258.5 215.2,258 213.1,251.5 212.4,244.5 213.2,238 215.5,231.5 219,226 223.5,221.7 228.5,218.9 231.5,218 234.5,217.5Z" fill="#fcca46" fill-rule="evenodd"/><path d="M234.5,7 235.1,6.5 275.5,6.5 278.7,10 281.5,14.5 283.1,18 284.5,22 285.6,26.5 286.2,31 286.5,41.5 285.4,51 283,59.1 281.5,62.5 279.5,65.9 277.5,68.6 275,71.2 272.5,73.2 269.5,75.1 264.5,77 258.5,78 251.5,77.8 245,76.3 239.5,73.9 234.8,70.5 230.6,66 227.5,61 224.9,54.5 223.2,47 222.6,39 223,30.5 224.5,23.5 226.9,17 230.3,11.5 234.5,7ZM231.9,106 238,106.2 244,107.6 250,110.3 255,114 259.2,118.5 262.5,124 264.5,129.5 265.5,135.5 265.2,142 263.7,148 261.2,153.5 257.5,158.5 253,162.7 247.5,166 242,168 236,169 229.5,168.7 223.5,167.3 218,164.7 213,161.1 208.7,156.5 205.6,151.5 203.3,145.5 202.3,139.5 202.5,133.5 203.9,127.5 206.6,121.5 210.3,116.5 215,112.2 220,109.2 226,107 231.9,106ZM64.3,149 67.5,149 87.5,152.4 104.5,154.9 109,156.2 116.5,159.6 121,161.2 127.5,163.1 136.5,165 140,166.2 143.3,168 146,170 148.9,173 150.5,175.5 151.4,178 151.7,181 151.6,184.5 150.7,187.5 149.2,190 146.5,193 143.3,195.5 139.5,197.5 135,198.9 126.5,200.2 119,202 105.3,207 99,208 85.5,208.7 65,210.6 62.5,210.4 60,209.7 57.5,208 55.3,205.5 53.5,202 52.3,198 51.5,193.5 51,188 51.4,174 52.8,164 54,159.8 55.5,156.2 57.5,153.1 59.5,151.1 62,149.6 64.3,149ZM232.4,219 235.5,218.7 238,218.8 241,219.5 243.5,220.7 246,222.4 248.2,224.5 250.2,227 252,230 254.4,236.5 255.1,240 255.4,244 254.8,251.5 254,255 252.7,258.5 216.6,258.5 214.5,253 213.5,246.5 213.8,240 215.5,234 218.4,228.5 222.4,224 227,220.9 232.4,219Z" fill="#facf44" fill-rule="evenodd"/><path d="M235.8,7 236.5,6.5 274.3,6.5 278.4,11 281.5,16.1 283.1,20 284.3,24 285.7,32.5 285.8,42.5 284.6,51.5 282.1,59.5 278.5,66 276.5,68.5 274,71 271.3,73 268.5,74.6 263.2,76.5 257.5,77.2 250.5,76.8 244.5,75.2 239,72.5 234.5,69.1 230.6,64.5 227.7,59.5 225.2,53 223.7,45.5 223.3,37 223.9,29.5 225.5,22.7 228.1,16.5 231.5,11.3 235.8,7ZM228.8,107 235,106.6 241,107.4 247,109.4 252,112.4 256.5,116.3 260.2,121 262.9,126.5 264.5,132.5 264.9,138.5 264.1,144.5 262.1,150.5 259.1,155.5 255.2,160 250.5,163.7 245,166.4 239,168 233,168.4 227,167.6 221,165.6 216,162.7 211.5,158.8 207.8,154 205,148.5 203.4,142.5 203,136.5 203.8,130.5 205.8,124.5 208.8,119.5 212.7,115 217.5,111.3 223,108.6 228.8,107ZM63,150 65,149.6 67.5,149.7 87.5,153.3 104,155.7 109,157.2 116.5,160.7 120.5,162.2 127.5,164.4 136,166.3 139.4,167.5 142.1,169 144.7,171 146.9,173.5 148.3,176 149.1,178.5 149.4,181.5 149.2,184.5 148.3,187.5 146.9,190 144.7,192.5 142,194.6 139,196.2 135,197.5 127,198.8 119,200.9 115,202.2 108.5,205.1 105,206.1 99,207.1 86,207.8 65,209.9 62.5,209.7 60,208.9 57.5,207.2 55.6,205 54,202 52.8,198.5 52,194.5 51.5,189.5 51.6,177 52.7,166.5 53.7,162 55,158.4 56.5,155.4 58.5,152.8 60.5,151.1 63,150ZM234,220 237,219.9 239.5,220.3 242,221.2 244.2,222.5 246.5,224.3 248.5,226.5 250.3,229 251.8,232 253.9,238.5 254.5,245.5 253.7,252.5 251.6,258.5 217.9,258.5 217,256.8 215.1,251 214.5,245 215.1,239 217.1,233 220.2,228 224.2,224 229,221.3 234,220Z" fill="#fad340" fill-rule="evenodd"/><path d="M237.3,7 238,6.5 272.9,6.5 277.5,11.1 279.5,14 281.3,17.5 283.9,25 285.2,33.5 285.1,43 283.8,52 281.3,59.5 279.5,63 277.5,66 273,70.7 270.5,72.5 267.5,74.1 262,75.9 256.5,76.4 250,75.8 244,74.1 239,71.5 234.5,67.8 230.9,63.5 227.9,58 225.6,51.5 224.3,44 224,36 224.8,28.5 226.5,22 229.3,16 232.9,11 237.3,7ZM229.7,107.5 235.5,107.2 241.5,108.1 247.5,110.4 252.5,113.5 256.7,117.5 260.3,122.5 262.8,128 264,133.5 264.2,139.5 263.2,145.5 261.1,151 258,156 254,160.2 249,163.8 243.5,166.3 238,167.5 232,167.7 226,166.7 220.5,164.6 215.5,161.5 211.2,157.5 207.6,152.5 205.2,147 203.9,141.5 203.7,135.5 204.7,129.5 206.8,124 210,119 214,114.7 218.5,111.4 224,108.9 229.7,107.5ZM64,150.5 67.5,150.4 88,154.2 104.5,156.8 109,158.3 116,161.7 121,163.7 127.5,165.8 135.5,167.8 138.5,168.9 141,170.3 143.1,172 144.8,174 146.2,176.5 146.9,179 147.2,182 146.8,185 146,187.5 144.8,189.5 143,191.6 140.6,193.5 138,194.8 134.5,196 127,197.4 119,199.7 115,201.1 108.5,204 104.5,205.3 99,206.2 86,206.9 65,209.1 62.5,208.9 60,208.1 57.5,206.4 55.6,204 54,200.7 52.9,197 52.1,192.5 51.7,187.5 52.1,174.5 53.5,164.5 54.5,160.9 55.9,157.5 57.5,154.9 59.5,152.7 61.5,151.3 64,150.5ZM232.7,221.5 235.5,221.2 238,221.3 240.5,222 243,223.2 245.5,225 247.5,227 250.7,232 252,235.1 252.9,238.5 253.6,245.5 252.7,252.5 250.5,258.5 219.2,258.5 218.1,256.5 216.3,251 215.6,245.5 216,240 217.7,234.5 220.5,229.5 224,225.7 228,223.1 232.7,221.5Z" fill="#f8d83e" fill-rule="evenodd"/><path d="M238.8,7 239.6,6.5 271.5,6.5 274.5,9 277,11.8 279.2,15 281.2,19 283.5,26.4 284.6,34.5 284.4,44 282.9,52.5 280.2,60 276.5,65.9 272,70.4 269.5,72.1 266.5,73.6 261,75.2 255.5,75.5 249.5,74.9 243.5,72.9 238.5,70 234.5,66.5 231,62 228.1,56.5 226,49.9 224.9,42.5 224.8,34.5 225.8,27.5 227.8,21 230.6,15.5 234.5,10.6 238.8,7ZM231.1,108 237,108 242.5,109.1 248,111.4 252.7,114.5 256.7,118.5 260.1,123.5 262.4,129 263.5,134.5 263.5,140.5 262.4,146 260.1,151.5 257,156.2 253,160.2 248,163.6 242.5,165.9 237,167 231,167 225.5,165.9 220,163.6 215.3,160.5 211.2,156.5 207.9,151.5 205.6,146 204.5,140.5 204.5,134.5 205.6,129 207.8,123.5 211,118.8 215,114.7 220,111.4 225.5,109.1 231.1,108ZM63,151.5 65,151.1 67.5,151.2 88,155.1 104,157.6 108.5,159.1 116.5,163.2 122.5,165.7 136.5,170.2 139,171.5 141,173 142.8,175 143.8,177 144.6,179.5 144.8,182 144.5,184.5 143.8,186.5 142.8,188.5 141,190.5 137,193.1 133,194.5 126.5,195.8 119,198.3 115,199.8 108.3,203 104.5,204.3 99,205.2 86,206 65,208.4 62.5,208.2 60.5,207.6 58.1,206 56.3,204 54.7,201 53.5,197.6 52.6,193.5 52.2,189 52.2,178 53.3,167.5 54.2,163.5 55.5,159.5 57,156.6 59,154 61,152.4 63,151.5ZM232.2,223 235,222.6 237.5,222.6 240,223.2 242.5,224.3 244.8,226 246.8,228 250,233 252,239.2 252.6,246 251.6,252.5 250.6,255.5 249.2,258.5 220.6,258.5 219.2,256 217.5,251.2 216.8,246 217.1,240.5 218.5,235.7 221,231 224,227.5 228,224.6 232.2,223Z" fill="#f4da3e" fill-rule="evenodd"/><path d="M240.4,7 241.3,6.5 270,6.5 273.5,9.2 276.5,12.5 279.1,16.5 281.2,21 283.2,28.5 284,36.5 283.6,45.5 281.9,53.5 279,60.5 275.5,65.8 271,70 268.5,71.6 265.5,73.1 260,74.4 254.5,74.6 248.5,73.7 243,71.7 238.5,68.9 234.3,65 231,60.4 228.4,55 226.5,48.5 225.5,41 225.7,33.5 226.8,26.5 229,20.2 232,15 235.8,10.5 240.4,7ZM228.8,109 234.5,108.5 240,109.2 245.5,110.9 250.5,113.7 255,117.5 258.5,122 261,127 262.5,132.5 263,138 262.3,143.5 260.6,149 257.8,154 254,158.5 249.5,162 244.5,164.5 239,166 233.5,166.5 228,165.8 222.5,164.1 217.5,161.3 213,157.5 209.5,153 207,148 205.5,142.5 205,137 205.6,131.5 207.4,126 210.2,121 214,116.5 218.5,113 223.5,110.5 228.8,109ZM64.2,152 67.5,151.9 88.5,156.2 101,158 105,159 108,160.1 117.5,165.2 126.5,169.2 133,171.4 137.7,174 140,176.5 141.2,179 141.5,182.5 140.8,185.5 140,187 138.5,188.8 135,191.2 133,192 126.5,193.8 118.5,196.9 108,202 104,203.3 99,204.2 86,205.1 65,207.6 62.5,207.4 60.5,206.7 58.5,205.5 56.5,203.3 55,200.5 53.7,196.5 52.9,192.5 52.5,187.5 52.8,175 54,165.9 55.1,162 56.5,158.5 58,156.1 60,153.9 62,152.7 64.2,152ZM236,224 240,224.7 244,227 247,230.2 249.4,234.5 251,239.5 251.5,244.5 251.1,250 249.6,255 247.9,258.5 222.2,258.5 219.5,253.4 218.1,247.5 218.3,241.5 219.7,236 222.6,231 226.5,227.2 231,224.8 233.5,224.2 236,224Z" fill="#ecdb40" fill-rule="evenodd"/><path d="M242.3,7 243.3,6.5 268.2,6.5 272.5,9.5 276,13.2 279,18 281.1,23 282.8,30.5 283.3,38.5 282.6,47 280.8,54.5 277.8,61 274,66.2 269.5,70 264,72.6 258.5,73.7 252.5,73.5 247,72.3 242,70.1 237.7,67 233.9,63 230.9,58.5 228.5,52.8 226.8,46 226.2,39 226.6,32 228,25.3 230.3,19.5 233.5,14.4 237.5,10.2 242.3,7ZM230.1,109.5 235.5,109.3 241,110.1 246.2,112 251,114.9 255,118.6 258.3,123 260.6,128 262,133.5 262.2,139 261.4,144.5 259.5,149.7 256.6,154.5 252.9,158.5 248.5,161.8 243.5,164.1 238,165.5 232.5,165.7 227,164.9 221.8,163 217,160.1 213,156.4 209.7,152 207.4,147 206,141.5 205.8,136 206.6,130.5 208.5,125.3 211.4,120.5 215.1,116.5 219.5,113.2 224.5,110.9 230.1,109.5ZM63.4,153 65.5,152.7 67.5,152.8 88.5,157.2 101.5,159.2 105,160.2 108,161.3 130.2,174 133,176 134.2,178 134.8,180 134.8,183 134.2,185.5 133,187.4 130.5,189 115.5,196.5 108.5,200.5 104,202.2 99,203.1 86.5,204.1 65,206.8 62.5,206.6 60.5,205.9 58.4,204.5 56.5,202.2 55,199.2 54,196 52.9,188 53.1,177 54,168 55,163.7 56.1,160.5 57.5,157.8 59.3,155.5 61.1,154 63.4,153ZM232.5,226 237,225.6 239.5,226.1 241.5,227 243.5,228.4 245.5,230.4 247,232.5 248.5,235.5 250,241 250.3,244.5 250.2,247.5 248.9,253.5 246.3,258.5 224,258.5 222.3,256 221,253.5 219.8,249.5 219.3,245 219.8,240.5 221,236.5 223,232.8 225.5,229.9 228.7,227.5 232.5,226Z" fill="#e4db44" fill-rule="evenodd"/><path d="M244.4,7 245.6,6.5 266.2,6.5 267,6.9 271.5,9.8 275.5,14 278.6,19 280.9,25 282.3,32.5 282.6,40.5 281.7,48 279.8,55 276.9,61 273,65.9 268.5,69.5 266,70.8 263,71.9 258,72.8 252,72.5 246.5,71.1 241.5,68.7 237,65.1 233.5,61 230.7,56 228.7,50.5 227.4,44 227,37 227.6,30.5 229.3,24 232,18.2 235.5,13.5 239.5,9.9 244.4,7ZM232.4,110 238,110.2 243,111.5 248,113.8 252.4,117 256,120.9 258.8,125.5 260.6,130.5 261.5,136 261.3,141.5 260,146.6 257.7,151.5 254.5,155.9 250.6,159.5 246,162.3 241,164.1 235.5,165 230,164.8 224.9,163.5 220,161.2 215.6,158 212,154.1 209.2,149.5 207.4,144.5 206.5,139 206.7,133.5 208,128.4 210.3,123.5 213.5,119.1 217.4,115.5 222,112.7 227,110.9 232.4,110ZM65.5,153.5 67.5,153.6 89,158.3 101.5,160.4 105.3,161.5 108.5,163 120.8,171.5 124.8,175.5 126,177.5 126.5,180 126.4,183.5 125.6,186 123.8,188.5 120.3,191.5 109,198.8 103.8,201 99,202 86.5,203 65,206 62.5,205.7 60.5,205 58.4,203.5 56.5,201 55.1,198 54.2,194.5 53.5,190.1 53.2,185.5 53.7,173 55.1,165 56.1,162 57.5,158.9 59,156.8 61,155 63,154 65.5,153.5ZM233.5,227.5 236,227.3 238,227.5 240,228.1 242,229.2 244,230.9 245.5,232.8 247.9,237.5 249,243 248.8,249 247.1,254.5 244.5,258.5 226.1,258.5 223.7,255.5 222,251.9 221,248 220.8,244 221.4,240 222.6,236.5 224.5,233.4 227.2,230.5 230.4,228.5 233.5,227.5Z" fill="#dcdc46" fill-rule="evenodd"/><path d="M247,7 248.5,6.5 263.6,6.5 268.5,8.8 272.6,12 276.2,16.5 278.9,21.5 280.8,27.5 281.8,34.5 281.7,42.5 280.6,49.5 278.5,56 275.5,61.5 271.5,66.1 266.6,69.5 261.5,71.3 256.5,71.9 250.5,71.3 245.5,69.7 240.8,67 236.8,63.5 233.3,59 230.8,54 228.9,48 228,41.5 228,34.5 229,28 231,22.1 233.9,17 237.5,12.8 242,9.3 247,7ZM230.1,111 235.5,110.8 240.5,111.5 245.5,113.3 250,116 253.8,119.5 257,123.8 259.2,128.5 260.5,133.5 260.7,139 260,144 258.2,149 255.5,153.5 252,157.3 247.7,160.5 243,162.7 238,164 232.5,164.2 227.5,163.5 222.5,161.7 218,159 214.2,155.5 211,151.2 208.8,146.5 207.5,141.5 207.3,136 208,131 209.8,126 212.5,121.5 216,117.7 220.3,114.5 225,112.3 230.1,111ZM64.3,154.5 67,154.4 88.5,159.4 101,161.6 105,162.8 108.4,164.5 111.9,167 115.7,170.5 118,173 119.7,175.5 120.6,178.5 120.7,182 120.4,185 119.4,187.5 116.5,191 110.6,196 106.6,198.5 102.5,200 97,200.9 86.5,201.9 65,205.1 62,204.7 60,203.8 58,202 56.6,200 55.5,197.4 54.5,193.8 53.7,185.5 54.1,174 55.3,166 57.5,160.1 59,157.8 60.5,156.3 62.5,155 64.3,154.5ZM233.1,229.5 235.5,229.1 237.5,229.3 239.5,229.9 241.5,231 243.2,232.5 244.8,234.5 246.8,239 247.7,244.5 247.1,250 246.3,252.5 245.1,255 242.2,258.5 228.8,258.5 225.5,255.1 223.2,250.5 222.6,247.5 222.4,244 223,240.5 224,237.5 225.5,234.9 227.6,232.5 230,230.8 233.1,229.5Z" fill="#d4db4a" fill-rule="evenodd"/><path d="M250.5,7 253.8,6.5 258.9,6.5 261.5,6.9 266,8.5 270.5,11.4 274.1,15 277.2,20 279.4,25.5 280.7,31.5 281.2,38.5 280.6,45.5 279.1,52 276.6,58 273.5,62.6 269.5,66.5 264.5,69.4 259.5,70.7 254,70.8 249,69.9 244,67.8 239.5,64.7 235.9,61 232.7,56 230.5,50.5 229.1,44.5 228.7,38 229.2,31.5 230.6,25.5 233.1,20 236.5,15.2 240.5,11.5 245.5,8.6 250.5,7ZM233.7,111.5 238.5,111.9 243.5,113.3 248,115.6 252,118.7 255.2,122.5 257.8,127 259.4,132 260,137 259.6,142 258.2,147 255.9,151.5 252.8,155.5 249,158.7 244.5,161.3 239.5,162.9 234.5,163.5 229.5,163.1 224.5,161.7 220,159.4 216,156.3 212.8,152.5 210.2,148 208.6,143 208,138 208.4,133 209.8,128 212.1,123.5 215.2,119.5 219,116.3 223.5,113.7 228.5,112.1 233.7,111.5ZM63.9,155.5 67,155.3 89,160.7 100.9,163 104.5,164.2 108,166 110.5,168 113.2,171 115,174 116,176.5 116.3,179.5 116.1,184.5 115.3,187.5 113.9,190 110.9,193.5 108,195.9 104.5,197.8 101,198.9 87,200.6 65,204.2 62,203.8 60,202.8 58.1,201 56.8,199 55.6,196 54.9,193 54.1,185.5 54.5,174.5 55.5,167.4 57.5,161.4 59,158.9 60.5,157.3 62,156.2 63.9,155.5ZM233.8,231.5 236,231.3 238,231.5 240,232.4 241.6,233.5 243,235 244.5,237.5 245.5,240 246,242.5 246,247.5 245.5,250 244.5,252.5 243,255 241.6,256.5 240,257.6 237.9,258.5 233.5,258.4 231.5,257.7 229.5,256.5 227.5,254.5 226.1,252.5 225,250 224.4,247.5 224.2,244.5 224.5,242 225.2,239.5 226.4,237 227.9,235 229.5,233.5 231.5,232.3 233.8,231.5Z" fill="#cada4c" fill-rule="evenodd"/><path d="M253.7,7.5 259,7.5 263.5,8.5 268,10.7 272,14 275.1,18 277.7,23 279.5,29 280.3,35 280.3,41.5 279.3,48 277.5,54 275,59 271.5,63.4 267.5,66.7 263,68.8 258,69.8 252.5,69.6 247.5,68.3 242.5,65.7 238.5,62.4 235,58 232.4,53 230.5,47 229.6,41 229.7,34.5 230.7,28.5 232.6,23 235.5,18 239.1,14 243.5,10.7 248.5,8.6 253.7,7.5ZM231,112.5 236,112.4 241,113.3 245.5,115.1 249.5,117.7 253,121 256,125.3 258,129.9 259,134.5 259.1,139.5 258.2,144.5 256.4,149 253.8,153 250.5,156.5 246.2,159.5 241.6,161.5 237,162.5 232,162.6 227,161.7 222.5,159.9 218.5,157.3 215,154 212,149.7 210,145.1 209,140.5 208.9,135.5 209.8,130.5 211.6,126 214.2,122 217.5,118.5 221.8,115.5 226.4,113.5 231,112.5ZM63.8,156.5 67,156.3 89,162.1 100.5,164.5 104,165.7 107.1,167.5 109.3,169.5 111.2,172 112.4,174.5 113.1,177.5 113.1,182.5 112.7,186 111.6,189 110,191.5 108,193.7 105.5,195.5 102.5,196.8 99.5,197.6 87.5,199.2 65,203.3 62,202.8 60,201.7 58.5,200.3 57,197.9 56,195.3 55.2,192 54.6,184.5 54.9,174.5 56,167.5 57.9,162 60.5,158.4 62,157.2 63.8,156.5ZM234.1,234 236,233.8 237.5,234 239,234.5 240.5,235.6 242,237.3 243,239 244.2,243.5 244,248 242.5,252 241.4,253.5 239.8,255 238,255.9 236.5,256.2 233,255.7 230,253.8 227.6,250.5 226.5,246.5 226.6,242.5 228.2,238.5 230.9,235.5 234.1,234Z" fill="#c2d850" fill-rule="evenodd"/><path d="M254,8.5 259,8.5 263.5,9.6 268,11.9 271.5,14.9 274.6,19 277,23.7 278.6,29 279.5,35 279.5,41.5 278.5,48 276.8,53.5 274.2,58.5 271,62.5 267,65.8 262.5,67.9 258,68.7 252.5,68.5 247.5,67.1 243,64.8 239.1,61.5 235.9,57.5 233.2,52.5 231.4,47 230.5,41 230.6,35 231.5,29 233.4,23.5 236,19 239.5,15 244,11.7 248.9,9.5 254,8.5ZM230.1,113.5 235,113.2 239.5,113.8 244,115.3 248,117.6 251.5,120.6 254.5,124.5 256.8,129 258,133.5 258.3,138.5 257.7,143 256.2,147.5 253.9,151.5 250.9,155 247,158 242.5,160.3 238,161.5 233,161.8 228.5,161.2 224,159.7 220,157.4 216.5,154.4 213.5,150.5 211.2,146 210,141.5 209.7,136.5 210.3,132 211.8,127.5 214.1,123.5 217.1,120 221,117 225.5,114.7 230.1,113.5ZM63.9,157.5 67,157.3 73.7,159 89,163.6 100.5,166.4 103.3,167.5 105.7,169 107.5,170.7 109,172.8 109.9,175 110.4,177.5 110.5,182 110.1,185.5 109.4,188 108,190.5 106.2,192.5 104,194 101.5,195.2 98.5,196 87.5,197.7 74.8,200.5 65.5,202.2 63,202 60.5,200.9 58.9,199.5 57.5,197.3 55.8,192 55.1,185 55.4,175 56.4,168 58.1,163 60.5,159.5 62,158.3 63.9,157.5ZM233.8,237.5 236.5,237.1 238.8,238 240.5,240 241.7,243 241.8,246 241,249.1 239.4,251.5 237,252.8 234.5,252.7 232.1,251.5 230.4,249.5 229.4,247 229.3,244 230,241.3 231.5,239 233.8,237.5Z" fill="#b8d752" fill-rule="evenodd"/><path d="M254.8,9.5 259.5,9.7 264,10.9 268,13.2 271.5,16.4 274.4,20.5 276.6,25 278,30.1 278.7,36 278.6,42 277.6,48 275.8,53.5 273.4,58 270.1,62 266.5,64.8 262,66.9 257.5,67.7 252.5,67.4 247.7,66 243.5,63.8 239.5,60.4 236.4,56.5 233.9,51.5 232.2,46 231.4,40 231.6,34 232.7,28.5 234.6,23.5 237.5,18.7 241,15.1 245,12.3 249.5,10.4 254.8,9.5ZM229.7,114.5 234,114.1 238.5,114.5 243,115.9 247,118.1 250.5,120.9 253.4,124.5 255.6,128.5 257,133 257.4,137.5 257,142 255.6,146.5 253.4,150.5 250.5,154.1 247,156.9 243,159.1 238.5,160.5 234,160.9 229.5,160.5 225,159.1 221,156.9 217.4,154 214.6,150.5 212.4,146.5 211,142 210.6,137.5 211,133 212.4,128.5 214.6,124.5 217.5,120.9 221.1,118 225,115.9 229.7,114.5ZM64.3,158.5 67,158.4 74.6,160.5 89,165.4 99.5,168.5 103.5,170.5 105.1,172 106.5,174 107.7,178 107.7,182 107.4,185 106.6,187.5 105.4,189.5 102.5,192 99.1,193.5 88,195.8 75.5,199.1 65,201.2 62.5,200.8 60.5,199.7 59,198.2 57.9,196.5 56.9,194 56.2,191 55.6,184 56,174.5 57,168.1 58.7,163.5 61,160.3 62.5,159.2 64.3,158.5Z" fill="#b0d456" fill-rule="evenodd"/><path d="M251.8,11 256.5,10.5 261,11.1 265,12.6 269,15.4 272,18.6 274.7,23 276.6,28 277.7,33.5 277.9,39.5 277.2,45.5 275.8,51 273.5,55.9 270.5,60 267,63.2 263,65.3 258.5,66.4 253.5,66.4 249,65.3 245,63.4 241.2,60.5 238,56.9 235.5,52.6 233.6,47.5 232.6,42.5 232.4,37 233,31.5 234.4,26.5 236.6,22 239.5,18 243,14.9 247.1,12.5 251.8,11ZM229.7,115.5 234,115.1 238.5,115.5 242.5,116.8 246.5,118.9 249.7,121.5 252.6,125 254.7,129 256,133 256.4,137.5 256,142 254.7,146 252.6,150 249.7,153.5 246.5,156.1 242.5,158.2 238.5,159.5 234,159.9 229.5,159.5 225.5,158.2 221.5,156.1 218,153.2 215.4,150 213.3,146 212,142 211.6,137.5 212,133 213.3,129 215.4,125 218,121.8 221.5,118.9 225.5,116.8 229.7,115.5ZM65.5,159.5 68.5,160 79.1,163.5 95,169.9 100.5,172.8 101.9,174 102.9,175.5 103.8,178.5 103.6,184 103,186 102.1,187.5 99.9,189.5 96.7,191 75.5,197.6 65,200 62.5,199.6 60.6,198.5 59.2,197 58,194.8 56.6,189.5 56.2,182.5 56.7,173 58,167 59.9,163 61,161.6 62.5,160.4 65.5,159.5Z" fill="#a7d15b" fill-rule="evenodd"/><path d="M252.8,12 257.5,11.7 261.5,12.4 265.2,14 268.7,16.5 271.7,20 274.1,24 275.9,29 276.8,34 277,39.5 276.4,45 275,50.3 272.8,55 270,59 266.5,62.1 262.5,64.3 258.5,65.2 254,65.2 249.5,64.2 245.5,62.3 241.8,59.5 238.8,56 236.4,52 234.5,47 233.6,42 233.4,36.5 234,31.5 235.5,26.5 237.8,22 241,18.1 244.5,15.3 248.5,13.2 252.8,12ZM230,116.5 234.5,116.1 238.5,116.6 242.5,117.9 246,119.8 249.2,122.5 252,126 253.8,129.5 255,133.5 255.4,138 254.9,142 253.6,146 251.7,149.5 249,152.7 245.5,155.5 242,157.3 238,158.5 233.5,158.9 229.5,158.4 225.5,157.1 222,155.2 218.8,152.5 216,149 214.2,145.5 213,141.5 212.6,137 213.1,133 214.4,129 216.3,125.5 219,122.3 222.5,119.5 226,117.7 230,116.5ZM64.2,161 67,160.9 78.3,165 85.1,168.5 92.6,173.5 94.7,176 95.5,179 95.3,183.5 94.8,185 93.8,186.5 91.4,188.5 86.1,191.5 80.8,194 75.5,196 65.5,198.7 63,198.4 61,197.3 59.5,195.7 58.6,194 57.3,189.5 56.8,183.5 57.1,175.5 58,169.6 59.5,165.4 61.5,162.6 64.2,161Z" fill="#9fcd5f" fill-rule="evenodd"/><path d="M254.4,13 258.5,13 262.5,14 266,15.9 269.1,18.5 271.8,22 274,26.4 275.4,31 276,36 275.9,41.5 275.1,46.5 273.5,51.3 271.3,55.5 268.4,59 265,61.7 261.5,63.3 257.5,64.1 253,63.8 249,62.7 245,60.5 241.5,57.5 238.8,54 236.5,49.5 235.2,45 234.5,40 234.6,35 235.5,30 237.2,25.5 239.5,21.6 242.5,18.3 246,15.7 250,13.9 254.4,13ZM230.8,117.5 235,117.3 239,117.9 242.5,119.1 246,121.2 249,123.9 251.3,127 253,130.5 254,134.5 254.2,138.5 253.6,142.5 252.4,146 250.3,149.5 247.6,152.5 244.5,154.8 241,156.5 237,157.5 233,157.7 229,157.1 225.5,155.9 222,153.8 219,151.1 216.7,148 215,144.5 214,140.5 213.8,136.5 214.4,132.5 215.6,129 217.7,125.5 220.4,122.5 223.5,120.2 227,118.5 230.8,117.5ZM64,162.5 66.5,162.2 70.2,163.5 75.9,166 81,169 84,171.5 86,174 87.1,176.5 87.5,179 87.3,182.5 86.7,185 85.2,187.5 83.2,189.5 79.5,192 75.5,193.9 69.8,196 65,197.3 62,196.4 60.5,195.2 59.5,193.7 58.1,189.5 57.5,184 57.8,175 59,169 61,164.8 62.5,163.3 64,162.5Z" fill="#96ca64" fill-rule="evenodd"/><path d="M252.9,14.5 257,14.2 260.5,14.7 264,16.1 267.5,18.6 270.1,21.5 272.5,25.5 274,29.7 274.9,34.5 275.1,39.5 274.5,44.5 273.1,49.5 271,53.8 268.5,57.2 265.3,60 261.5,61.9 258,62.7 254,62.6 250,61.6 246.5,59.9 243,57.2 240.3,54 238,50 236.6,46 235.7,41.5 235.6,36.5 236.2,32 237.5,27.6 239.5,23.8 242,20.5 245.5,17.5 249,15.7 252.9,14.5ZM232.9,118.5 237,118.7 240.5,119.6 244,121.3 246.9,123.5 249.5,126.5 251.3,129.5 252.5,133 253,136.5 252.8,140.5 251.9,144 250.2,147.5 248,150.4 245,153 242,154.8 238.5,156 235,156.5 231,156.3 227.5,155.4 224,153.7 221.1,151.5 218.5,148.5 216.7,145.5 215.5,142 215,138.5 215.2,134.5 216.1,131 217.8,127.5 220,124.6 223,122 226,120.2 229.5,119 232.9,118.5ZM64.7,164 66.5,163.9 69.3,165 74.1,167.5 77.6,170 79.6,172 80.8,174 81.5,176 81.8,178.5 81.6,182.5 81.1,185 80.1,187 78.5,189 75.9,191 73.3,192.5 68.7,194.5 65,195.6 63.5,195.4 62,194.6 60,192.1 58.7,188 58.3,183 58.7,175 59.8,169.5 60.9,167 62,165.6 63.4,164.5 64.7,164Z" fill="#8ec668" fill-rule="evenodd"/><path d="M252.3,16 256,15.5 259.5,15.8 263,17 266,19 269,22 271.2,25.5 272.8,29.5 273.8,34 274,39 273.5,43.9 272.2,48.5 270.5,52.3 268,55.8 265.1,58.5 262,60.3 258.5,61.2 255,61.3 251,60.5 247.5,58.9 244.5,56.8 241.5,53.5 239.5,50.2 238,46.5 237,42 236.7,37.5 237.1,33.5 238.1,29.5 240,25.4 242.5,21.9 245.5,19.2 249,17.1 252.3,16ZM231.5,120 235,119.9 238.5,120.4 241.5,121.5 244.5,123.3 247,125.5 249.2,128.5 250.6,131.5 251.5,135 251.6,138.5 251.1,142 250,145 248.2,148 246,150.5 243,152.7 240,154.1 236.5,155 233,155.1 229.5,154.6 226.5,153.5 223.5,151.7 221,149.5 218.8,146.5 217.4,143.5 216.5,140 216.4,136.5 216.9,133 218,130 219.8,127 222,124.5 225,122.3 228,120.9 231.5,120ZM64.8,166 66.5,165.9 67,166.1 71,168.5 73.5,170.5 74.8,172 76,174 76.6,176 76.8,178 76.4,184 75.6,186 74.7,187.5 71.5,190.5 65.5,193.6 63,193.1 61,191 59.7,187.5 59.3,183 59.5,176 60.5,171.1 61.4,169 62.4,167.5 63.5,166.5 64.8,166Z" fill="#85c46c" fill-rule="evenodd"/><path d="M255.3,17 258.5,17.1 262,18.1 265,19.9 267.5,22.2 269.8,25.5 271.4,29 272.5,33 272.9,37 272.7,41.5 272,45.5 270.5,49.5 268.6,53 266,56 263.5,57.9 260.5,59.3 257,59.9 253.5,59.6 249.9,58.5 246.5,56.5 243.7,54 241.5,51 239.6,47 238.5,43 238,39 238.2,35 239,31 240.5,27.2 242.6,24 245.4,21 248.4,19 252,17.6 255.3,17ZM231.9,121.5 235,121.4 238.5,122 241.5,123.2 244,124.8 246.3,127 248,129.5 249.3,132.5 250,135.5 250.1,139 249.5,142 248.3,145 246.7,147.5 244.5,149.8 242,151.5 239,152.8 236,153.5 232.5,153.6 229.5,153 226.5,151.8 224,150.2 221.7,148 220,145.5 218.7,142.5 218,139.5 217.9,136 218.5,133 219.7,130 221.3,127.5 223.5,125.2 226,123.5 229,122.2 231.9,121.5ZM64.2,169 66.5,168.6 69.2,171 71.2,174 71.9,177.5 71.7,182.5 70.9,185.5 68.8,188.5 65.5,190.9 63.5,190.4 62.1,189 61.1,186.5 60.6,183.5 60.7,177.5 61.3,173.5 62.5,170.7 64.2,169Z" fill="#7dc070" fill-rule="evenodd"/><path d="M252.6,19 256,18.5 259,18.8 262,19.8 264.7,21.5 267.2,24 269.1,27 270.6,30.5 271.5,34.5 271.7,38.5 271.2,43 270.2,47 268.5,50.5 266.5,53.4 264,55.7 261,57.4 258,58.2 254.5,58.1 251.5,57.4 248.5,56 246,54.1 243.6,51.5 241.8,48.5 240.4,45 239.6,41.5 239.4,37.5 239.7,34 240.6,30.5 242.3,27 244,24.5 246.6,22 249.5,20.2 252.6,19ZM230.9,123.5 233.5,123.2 236.5,123.4 239,124.1 241.9,125.5 244,127.2 245.9,129.5 247.2,132 248,134.5 248.3,137.5 248.1,140 247.4,142.5 246,145.4 244.3,147.5 242,149.4 239.5,150.7 237,151.5 234,151.8 231.5,151.6 229,150.9 226.1,149.5 224,147.8 222.1,145.5 220.8,143 220,140.5 219.7,137.5 219.9,135 220.6,132.5 222,129.6 223.7,127.5 226,125.6 228.5,124.3 230.9,123.5ZM65,174 66,173.7 66.5,174.4 67,177.5 66.7,183 66.1,185 65.5,185.7 64.5,185.4 63.8,184.5 63.1,181.5 63.5,176.4 64,175.1 65,174Z" fill="#74be74" fill-rule="evenodd"/><path d="M253.7,20.5 256.5,20.2 259.5,20.6 262,21.6 264.5,23.4 266.5,25.6 268.3,28.5 269.6,32 270.2,35.5 270.3,39 269.9,43 268.8,46.5 267.4,49.5 265.5,52.1 263,54.4 260.5,55.7 257.5,56.4 254.5,56.3 251.5,55.5 249,54.3 246.5,52.3 244.5,50 242.8,47 241.7,44 241,40.5 240.9,37 241.3,33.5 242.3,30.5 243.8,27.5 245.8,25 248,23 250.6,21.5 253.7,20.5ZM232.3,125.5 234.5,125.4 237,125.8 239.5,126.7 241.5,128 243.1,129.5 244.5,131.5 245.5,133.7 246,136 246.1,138.5 245.6,141 244.8,143 243.5,145 242,146.6 240,148 237.8,149 235.5,149.5 233,149.6 230.5,149.1 228.5,148.3 226.5,147 224.9,145.5 223.5,143.5 222.5,141.3 222,139 221.9,136.5 222.4,134 223.2,132 224.5,130 226,128.4 228,127 230,126.1 232.3,125.5Z" fill="#6cba78" fill-rule="evenodd"/><path d="M253.4,22.5 256,22.1 258.5,22.3 261,23.2 263.1,24.5 265.1,26.5 266.7,29 268,32 268.7,35 268.9,38.5 268.5,42 267.7,45 266.5,47.8 265,50.1 263,52.1 260.5,53.6 258,54.4 255.5,54.5 253,54 250.5,52.9 248,51.2 246,49 244.5,46.5 243.5,44 242.8,41 242.5,37.5 242.9,34.5 243.7,31.5 245,29 246.5,26.9 248.5,24.9 251,23.4 253.4,22.5ZM233.2,128.5 236.5,128.8 239.7,130.5 242,133.3 243,136.5 242.7,140 241,143.2 238.2,145.5 235,146.5 231.5,146.2 228.3,144.5 226,141.7 225,138.5 225.3,135 227,131.8 229.8,129.5 233.2,128.5Z" fill="#66b87e" fill-rule="evenodd"/><path d="M254.4,24.5 256.5,24.3 258.5,24.5 260.5,25.3 262.5,26.6 264.2,28.5 265.5,30.6 266.5,33.1 267.1,36 267.2,38.5 266.9,41.5 266,44.5 265,46.7 263.5,48.8 261.7,50.5 259.5,51.7 257.5,52.2 255,52.1 253,51.6 251,50.7 249,49.2 247.5,47.5 246,45 245,42.5 244.6,40 244.5,37 244.8,34.5 245.6,32 246.7,30 248.2,28 250,26.4 252,25.3 254.4,24.5Z" fill="#5eb482" fill-rule="evenodd"/><path d="M255.4,27 257.5,27 259,27.4 260.5,28.2 262,29.5 264,32.5 265.1,37 264.7,41.5 263,45.6 260.5,48.2 259,49 257,49.5 253.5,49 251.7,48 250,46.6 247.7,43 246.8,39 247.1,35 247.8,33 248.9,31 250.3,29.5 252,28.2 255.4,27Z" fill="#58b288" fill-rule="evenodd"/><path d="M254.2,31 256.5,30.5 259,31.2 261,33.2 262.1,36 262.3,39 261.5,42 259.7,44.5 257.5,45.7 255,45.6 253,44.6 251.1,42.5 250.1,40 250,37 250.7,34.5 252,32.5 254.2,31Z" fill="#52ae8a" fill-rule="evenodd"/></g><path d="M218.7,6.5 216.5,11 215,15.5 213.8,20.5 213.1,25.5 212.6,32.5 212.5,41.5 212.8,48 213.4,54 215.5,63 217,67.2 218.8,71 221,74.6 223.5,77.8 230.5,84.3 231,85.5 230.8,86.5 230,87.9 229,88.4 221.5,89.5 215.5,91 209.5,93.3 204.2,96 199.5,99.1 194.9,103 191,107.2 187.4,112 184.4,117.5 182.2,123 180.8,128.5 180.1,134.5 180.1,140 180.7,145 182.1,150.5 184.7,157.5 184.6,159 183.5,159.3 180.5,159.3 161,156.7 152.5,154.6 141.5,150.9 124,147.8 112.5,144 106.3,142.5 68,138.3 64.5,138.3 61,139.1 57.5,141 54.5,144 52,147.9 50,152.5 48.3,158.5 47,165.5 46.3,173 45.8,185.5 46.1,194.5 47.2,202.5 49,209.1 51.5,214.2 53,216.2 55,218.2 57,219.5 59,220.4 61.5,221 64.5,221.2 83.5,220.5 94,220.6 106,219.7 111.5,218.6 122.5,215.3 127.5,214.5 135,213.9 140.1,213 153,208.8 161,206.8 173,205.3 186,202.9 189,201.4 191.5,199.4 193.8,196.5 195.5,193.5 197,189.5 197.8,185 198,181 197.6,174.5 198,174.1 199,174.3 208,179.8 210,181.6 211,183.5 211.6,186 212.7,194 212.1,201.5 209.6,215 203.5,227 201.8,232 200.7,237 200.1,242.5 200.1,248 200.7,253.5 201.9,258.5M265.4,258.5 266.6,251.5 267,244.5 266.6,238 265,228 267.3,220.5 268,215.5 267,203 266.9,193.5 266.5,182 266.8,173 267.2,170.5 268.1,168 273.1,159.5 276,152.5 277.8,145 278.5,137 277.8,128.5 275.5,120 271.8,112 266.3,104 265.9,103 265.8,101.5 267.4,92.5 268.1,90 269.1,89 274.5,86.8 278,84.9 281.3,82.5 284.4,79.5 287.1,76 289.5,71.8 291.5,67.2 293.1,62 294.5,55.5 295.2,48.5 295.5,40 295.3,29.5 294.7,23 293.7,17 292.1,11.5 290,6.5" fill="none" stroke="#a33c26" stroke-width="1"/><path d="M255,9.5 250,10.3 245.5,12.1 241.1,15 237.5,18.7 234.6,23.5 232.7,28.5 231.6,34 231.4,40 232.2,46 233.9,51.5 236.4,56.5 239.5,60.4 243.5,63.8 247.7,66 252.5,67.4 257.5,67.7 262,66.9 266.5,64.8 270.1,62 273.4,58 275.8,53.5 277.6,48 278.6,42 278.7,36 278,30.1 276.6,25 274.4,20.5 271.5,16.4 268,13.2 264,10.9 259.5,9.7 255,9.5M230,114.5 225.5,115.7 221.5,117.7 217.9,120.5 214.9,124 212.6,128 211.1,132.5 210.6,137 211,141.5 212.2,146 214.2,150 217,153.6 220.5,156.6 224.5,158.9 229,160.4 233.5,160.9 238,160.5 242.5,159.3 246.5,157.3 250.1,154.5 253.1,151 255.4,147 256.9,142.5 257.4,138 257,133.5 255.8,129 253.8,125 251,121.4 247.5,118.4 243.5,116.1 239,114.6 234.5,114.1 230,114.5M64.5,158.4 63,158.9 61.5,159.8 60,161.4 58.9,163 57,168 56,174.2 55.6,183.5 56.1,190.5 57.7,196 59,198.2 60.5,199.7 62.5,200.8 65,201.2 75.5,199.1 88,195.8 99.1,193.5 102.5,192 105.4,189.5 106.6,187.5 107.4,185 107.7,182 107.7,178 106.5,174 105.1,172 103.5,170.5 99.5,168.5 89,165.4 76.2,161 67,158.4 64.5,158.4M236,245 236,245M229.1,6.5 225.7,11 223.2,16 221.3,21.5 220,28 219.3,35.5 219.5,43.8 220.4,51 222,57.5 224,62.8 226.5,67.3 229.5,71.3 232.9,74.5 237,77.3 241.5,79.5 248.5,81.8 252.5,82.3 260,81.8 264.5,81.1 269,79.8 273.5,77.5 277.4,74.5 280.6,71 283.5,66.6 285.8,61.5 287.7,55 289,47.5 289.5,39 289.2,30.5 288.1,23.5 286.4,17 284,11.4 280.8,6.5M228,102.9 220.5,104.7 214,107.7 208.3,111.5 203.3,116.5 199.5,122.3 197,128.5 195.9,135 196.2,141.5 197.5,147 200,152.5 203,157 207.3,161.5 211.5,164.8 216,167.6 220.5,169.7 228.2,172.5 230.3,174 235.5,179.3 237.5,180.3 239,180.4 241,179.5 242.5,177.9 247,170.5 254,165.6 257.1,163 260.5,159.5 263.3,155.5 266,150 267.7,144.5 268.4,138.5 268,132.5 266.4,126 263.3,119.5 259.2,114 254,109.4 248,105.8 242,103.7 235,102.6 228,102.9M63,145.9 60,147.1 57.5,149.1 55.3,152 53.5,155.5 52,159.8 50.8,165 50,171 49.6,177.5 49.4,185.5 49.6,191.5 50.2,197 51.3,202 53,206.3 55,209.5 57.5,211.9 60,213.2 64.5,213.9 84.5,212.5 94.5,212.3 102.5,211.7 108.3,210.5 116.5,207.6 121,206.4 127,205.2 133,204.6 138,203.7 143,202 151,198.1 162,193.4 170.5,190.4 173.9,188 175.7,185 176.3,182 175.9,179 174.5,176.3 172.1,174 169.5,172.7 161,169.7 140.5,160.5 137,159.6 128,158 121.5,156.4 117.5,155.2 110,152.2 104.5,150.7 87.5,148.6 67.5,145.6 63,145.9M257.2,258.5 258.9,252 259.4,245 258.9,238 257.2,231.5 254.5,225.5 249,217.5 247.8,214.5 245,209.8 242,206.5 240.5,205.6 239,205.4 237.5,205.8 236,206.7 230.6,212 222.5,217.4 219.8,219.5 216,223.5 212.8,228.5 211.2,232 210,235.6 209.2,239.5 208.8,243.5 209.3,251 210.2,255 211.4,258.5M224.9,6.5 222.5,10.4 220.5,14.9 219,19.6 217.8,25 217.1,31 216.9,37 217.1,44 217.7,50.5 218.7,56 220.3,61.5 222.4,66.5 224.8,70.5 227.1,73.5 230.1,76.5 233.5,79 238.6,82 239.9,83.5 239.8,86.5 237.9,95.5 237.2,97 236,97.6 225.5,98.2 221,99.1 217,100.3 210.1,103.5 204.2,107.5 198.7,113 194.3,119.5 192.7,123 191.3,127 190,134.5 190,140 190.9,145.5 192.7,151 195.3,156 198.8,161 204.5,166.4 209.8,170 218,174.2 220.1,176 221.5,178.5 223.2,183.5 225.2,193 225.3,195.5 224.2,201.5 221.2,211.5 219.4,214.5 214.4,220 211.5,224 208.8,229 206.9,234.5 205.8,240.5 205.6,246.5 206.3,252.5 207.9,258.5M62.5,143.5 59.5,144.8 56.5,147.3 54,150.9 52.1,155 50.5,160.2 49.4,166 48.7,172.5 48.2,181 48.2,188 48.5,194.1 49.3,199.5 50.5,204.5 52.2,208.5 54.5,212 57,214.3 60,215.8 64.5,216.4 84,215.3 94.5,215.2 102.5,214.6 109,213.4 117.5,210.5 121.5,209.6 138.5,207.1 143,205.8 151.5,202.3 159.5,199.7 164.5,198.4 171,197.3 175,196 178.6,194 182,191.2 184.7,189.5 186.5,187.5 187.5,185.5 188.1,182.5 188,179.6 187.2,177 185.8,174.5 184.4,173 182,171.9 178,169 173.5,166.9 161.5,164.4 151.5,161.2 140.5,156.9 122.5,153.4 118.5,152.2 111,149.4 106.5,148.1 67.5,143.1 65,143.1 62.5,143.5M260.2,258.5 261.2,254.5 261.9,250 262.1,241.5 261.5,237 260.5,232.5 256.5,221 257.1,215 254.7,201 254.3,192.5 254.5,182 255.6,173 256.7,168 264.6,158 266.9,154 268.7,149.5 270.3,143 270.7,136 269.7,128.5 268.3,124 266.8,120.5 263.3,114.5 260,110.5 255.6,106 255,105 254.9,104 257.4,99 259.5,88 260.2,86 262,84.8 268,83.3 272,81.8 275.5,80 279,77.3 282,74.2 284.6,70.5 286.9,66 288.7,61 290.3,54.5 291.3,47 291.6,38.5 291.3,30 290.4,23 289,16.8 287,11.2 284.5,6.5M221.4,6.5 219.3,10.5 217.5,15 216.1,20.5 215.3,26 214.7,33 214.7,41 215,47.9 215.7,54 217.5,62 220.7,69.5 223.2,73.5 226.1,77 229,79.6 234.5,83.9 234.9,85 234.5,88 233.5,91.3 232.1,92.5 223.5,93.6 217.5,95 211,97.5 205.5,100.5 201,103.7 197,107.3 193.5,111.4 190.7,115.5 188.1,120.5 186.3,125.5 185.2,130.5 184.7,136 185,142 186.1,147.5 187.8,152.5 191,159.5 190.8,161 189.5,162.6 187.5,164.2 186,164.8 181.5,164.5 173,162.1 164.5,161 159.5,159.9 151.5,157.6 141,153.8 123,150.5 112,146.7 107,145.4 67.5,140.6 65,140.7 61.5,141.3 58.3,143 55.5,145.6 53,149.4 50.9,154 49.3,159.5 48.2,166 47.4,173.5 47,189 47.4,195 48,200 49.2,205 50.6,209 52.5,212.5 55,215.4 57,216.9 59,217.9 63.5,218.8 84.5,217.9 94.5,217.9 106.5,216.9 110.5,216 121.5,212.6 139,210.2 156.5,204.4 163.5,202.7 173.5,201.2 186,197.4 188.5,195.8 190.6,193.5 192.3,190.5 193.5,187 194.1,184 194.1,180.5 193.7,177 192.5,172.5 192.6,171 193.6,169.5 195.5,167.9 197,167.4 198,167.7 205,172.9 212.5,177.1 214.5,178.9 215.4,180.5 216.3,183.5 218,193 218,196 217.2,202 214.3,214 213.3,216 209,222.2 207,225.8 205,230.7 203.6,236 202.8,241.5 202.7,247.5 203.4,253 204.7,258.5M262.9,258.5 264.3,251.5 264.7,244.5 263.9,236 261.3,225 263.1,215.5 261.7,201.5 261.2,183.5 261.8,174 262.3,170.5 263.1,167.5 268.8,158.5 272,151.3 273.8,144 274.3,136.5 273.4,128 271,120 267.5,113 261.9,105.5 261.3,103.5 264.2,90 264.8,88 266,87 272,85.1 275.5,83.5 278.6,81.5 281.6,79 284.6,75.5 287.2,71.5 289.3,67 291,62.1 292.4,55.5 293.3,48 293.6,39.5 293.4,30 292.7,23 291.4,16.5 289.7,11 287.6,6.5M218.7,6.5 216.5,11 215,15.5 213.8,20.5 213.1,25.5 212.6,32.5 212.5,41.5 212.8,48 213.4,54 215.5,63 217,67.2 218.8,71 221,74.6 223.5,77.8 230.5,84.3 231,85.5 230.8,86.5 230,87.9 229,88.4 221.5,89.5 215.5,91 209.5,93.3 204.2,96 199.5,99.1 194.9,103 191,107.2 187.4,112 184.4,117.5 182.2,123 180.8,128.5 180.1,134.5 180.1,140 180.7,145 182.1,150.5 184.7,157.5 184.6,159 183.5,159.3 180.5,159.3 161,156.7 152.5,154.6 141.5,150.9 124,147.8 112.5,144 106.3,142.5 68,138.3 64.5,138.3 61,139.1 57.5,141 54.5,144 52,147.9 50,152.5 48.3,158.5 47,165.5 46.3,173 45.8,185.5 46.1,194.5 47.2,202.5 49,209.1 51.5,214.2 53,216.2 55,218.2 57,219.5 59,220.4 61.5,221 64.5,221.2 83.5,220.5 94,220.6 106,219.7 111.5,218.6 122.5,215.3 127.5,214.5 135,213.9 140.1,213 153,208.8 161,206.8 173,205.3 186,202.9 189,201.4 191.5,199.4 193.8,196.5 195.5,193.5 197,189.5 197.8,185 198,181 197.6,174.5 198,174.1 199,174.3 208,179.8 210,181.6 211,183.5 211.6,186 212.7,194 212.1,201.5 209.6,215 203.5,227 201.8,232 200.7,237 200.1,242.5 200.1,248 200.7,253.5 201.9,258.5M265.4,258.5 266.6,251.5 267,244.5 266.6,238 265,228 267.3,220.5 268,215.5 267,203 266.9,193.5 266.5,182 266.8,173 267.2,170.5 268.1,168 273.1,159.5 276,152.5 277.8,145 278.5,137 277.8,128.5 275.5,120 271.8,112 266.3,104 265.9,103 265.8,101.5 267.4,92.5 268.1,90 269.1,89 274.5,86.8 278,84.9 281.3,82.5 284.4,79.5 287.1,76 289.5,71.8 291.5,67.2 293.1,62 294.5,55.5 295.2,48.5 295.5,40 295.3,29.5 294.7,23 293.7,17 292.1,11.5 290,6.5" fill="none" stroke="#1a1a1a" stroke-width="0.65" stroke-dasharray="1.1 0.75"/></g><g clip-path="url(#clipB)"><g><path d="M507.2,6.5 588.2,6.5 588.6,8 590.5,16.3 590.5,57.7 589.1,64.5 587.5,69.7 585.5,74.8 583.2,79.5 580.6,83.5 577.5,87.5 574.4,90.5 571.3,93 566,96.3 565.1,98.5 565.7,100.5 571.9,108.5 576.1,116.5 579,125 580.4,134 580.5,142.5 579.2,151 577.1,158 572.6,167.5 572.1,170 573,182.5 574.5,194.5 574.8,206.5 576.3,224 575.9,232 577.1,241.5 577.5,248 577.1,258.5 492.4,258.5 492,247.5 493.1,236.5 494.3,230.5 496,224.7 501.6,211 502.2,205.5 502,203.5 501.5,203 497,206 494,207.4 491,208 486.5,207.8 485.5,208 481.5,210.7 474,214.7 469.5,216.5 464.5,218 460.5,218.9 448.5,219.3 434,221.2 427,221.4 414.5,220.1 394.5,218.8 391,218.1 387.5,216.7 384.7,215 382.1,213 377.5,208 373.7,201.5 370.9,194 369.5,187 369,179.5 369.4,172 370.9,164.5 373.4,157.5 376.5,151.5 380.5,146.1 385,142 388,140 391,138.6 394,137.6 397,137.1 419,137.6 430.5,137.5 437,138.2 448.5,140.2 463,141.9 472,143.9 472.5,143.6 472.7,143 472.6,137 473.1,132 474.6,125 477.9,117 482.3,110 488.5,103.1 495.5,97.5 502.5,93.4 512.5,89.3 513.6,88.5 514.6,85 514.6,82.5 509.9,74 506.9,66.5 504.6,57.5 503.3,47.5 503,35 503.5,24.5 504.9,15 507.2,6.5Z" fill="#dc6440" fill-rule="evenodd"/><path d="M507.7,6.5 587.8,6.5 588.5,8.9 590.5,18.6 590.5,55.4 588.5,65 587,70 585,75 582.7,79.5 580.1,83.5 577,87.3 573.7,90.5 570.5,92.9 565.5,96 564.8,97 564.5,98.5 565,100.5 571.3,108.5 575.6,116.5 578.5,125.1 579.5,130 580,134.5 579.9,143 578.5,151.5 576.5,158 572,167.5 571.5,170 572.3,183 573.7,194.5 574,206 575.6,224 575.2,232 576.5,241.5 576.9,248 576.5,258.5 493,258.5 492.6,247.5 493.6,237 494.8,231 496.5,225.2 502.3,211 503,204.5 502.9,202 502.5,200.6 501.5,200.9 498.5,203.6 495.4,205.5 491.5,206.6 486,206.6 481.5,209.8 474.8,213.5 470.5,215.4 465.6,217 461,218.1 448,218.7 435,220.5 428,220.8 414.5,219.5 395,218.3 391.5,217.6 388,216.3 385,214.5 382.5,212.6 377.8,207.5 374,201 371.2,193.5 369.9,186.5 369.4,179 369.9,171.5 371.4,164.5 373.9,157.5 377,151.6 381,146.3 385.5,142.3 391,139.2 394,138.2 397,137.7 419,138.2 430.5,138.1 437,138.8 448.5,140.9 463,142.6 472,144.9 473,144.8 473.4,143.5 473.2,138.5 473.4,134 474.8,126.5 477.8,118.5 480,114.5 482.5,110.8 488.5,103.9 495.8,98 503.5,93.5 513,89.7 514.1,89 514.9,87 515.3,83 510.4,74 507.4,66.5 505.1,57.5 503.8,47.5 503.4,35.5 503.9,24.5 505.4,15 507.7,6.5Z" fill="#e06a42" fill-rule="evenodd"/><path d="M508,7 508.2,6.5 587.4,6.5 588.1,9 589.5,15 590.5,21.5 590.5,52.5 589.5,59 588.1,65 586.5,70.2 584.5,75 582.5,79 579.9,83 577,86.6 573.5,90 570,92.6 565,95.6 564.3,96.5 563.9,98.5 564.3,100.5 570.7,108.5 573,112.4 575,116.5 578,125.2 579,130 579.5,134.5 579.4,143 578,151.5 576,158 571.4,167.5 570.9,170 571.6,183 572.8,195 573.2,206 574.9,224 574.6,232 576.2,245.5 576.3,252 575.9,258.5 493.7,258.5 493.2,248 494.1,238 495.4,231.5 497,225.7 499,220.5 502.3,213 503.1,210.5 503.6,206.5 503.8,201.5 503.6,198.5 503,197.6 498.6,202 495.5,204 491.5,205.3 486,205.4 482,208.6 476,212 471.5,214.2 467,215.9 460.5,217.5 448,218 435,219.8 428.5,220.2 414.5,218.9 395,217.7 391.5,217 388,215.6 385.2,214 382.6,212 378,206.9 374.3,200.5 371.6,193 370.1,185 369.9,177 370.8,169 372.8,161.5 375.8,154.5 380,148.3 384.8,143.5 390,140.3 394,138.8 398,138.3 418.5,138.8 431,138.8 437,139.5 448.5,141.6 462.5,143.2 467,144.2 472.5,145.8 473.5,145.9 474,145.6 473.9,135.5 475.2,127.5 478,119.5 480.1,115.5 482.7,111.5 488.2,105 495,99.3 499.2,96.5 503.5,94.2 514,89.9 514.9,89 515.3,88 515.9,84.5 515.9,83 511,74.3 508,67 505.5,57.6 504.3,48.5 503.8,37 504.3,25.5 505.5,16.4 508,7Z" fill="#e27144" fill-rule="evenodd"/><path d="M508.4,7 508.6,6.5 587,6.5 588,10 589.5,17.2 590.5,25.4 590.5,48.6 589.4,57.5 587.6,65.5 586,70.3 584.1,75 582,79 579.3,83 576.5,86.5 573,89.8 570,92 564.2,95.5 563.6,96.5 563.2,98.5 563.6,100.5 570,108.5 572.5,112.5 574.5,116.5 576.2,121 577.5,125.3 578.5,130 579,134.5 578.9,143 577.5,151.5 575,159.1 570.6,168 570.2,170.5 570.8,183.5 572,195 572.3,205.5 574.2,224 573.9,232 575.6,245.5 575.7,252 575.2,258.5 494.3,258.5 493.9,248 494.7,238 495.9,232 497.6,226 499.5,220.9 502.9,213.5 503.8,210.5 504.3,206 504.6,200.5 504.5,197 504,194.5 503.5,194.3 499.5,199.4 496,202.3 492,203.8 487,203.8 486,204.1 481,208.3 473.6,212.5 468,214.8 460.5,216.7 448,217.3 435.5,219.1 429,219.6 414.5,218.3 395,217.1 391.5,216.4 388.5,215.2 385.5,213.5 383,211.6 378.5,206.8 374.8,200.5 372,192.9 370.6,185 370.3,177 371.2,169 373.2,161.5 376.4,154.5 380.5,148.5 385,144 387.5,142.3 390.5,140.7 394.5,139.3 398.5,138.8 418.5,139.4 431,139.4 437,140.1 448.5,142.2 463.5,144.1 473.5,146.9 474.5,146.9 474.9,146.5 474.5,136.5 474.9,132 475.7,128 478.5,119.9 480.5,116 483.1,112 488.6,105.5 495.5,99.6 499.5,97 504.1,94.5 514.5,90.3 515.5,89.5 515.8,88.5 516.6,84.5 516.5,83 511.5,74.2 508.4,67 506.1,58.5 504.7,48.5 504.2,37 504.7,25.5 506.1,15.5 508.4,7Z" fill="#e47747" fill-rule="evenodd"/><path d="M508.9,7 509.1,6.5 586.5,6.5 587.5,9.8 589,16.7 590,24.2 590.5,32 590.5,41.3 589.5,54 587.3,65 585.5,70.5 583.8,74.5 581.5,78.9 579.1,82.5 576,86.3 572.5,89.6 569.1,92 563.7,95 562.9,96.5 562.5,99 563.2,101 567.2,105.5 570.1,109.5 573.9,116.5 575.7,121 577,125.4 577.9,130 578.5,134.5 578.4,143 577,151.5 574.5,159 570,168 569.5,170.5 570,183 571,195 571.4,204.5 573.5,224 573.3,232 574.9,245.5 575,252 574.6,258.5 494.9,258.5 494.5,252.5 494.5,246.5 495,240.8 495.9,235 498.5,225.5 503.6,213.5 504.7,209 505.4,197.5 505,192.3 504.5,190.2 504,190.2 500,197 498.1,199 496.2,200.5 494,201.7 492,202.3 486.5,202.5 481,207.4 474,211.5 469.5,213.5 460.5,216 448,216.6 435.5,218.5 429.5,219 414.5,217.7 395,216.4 391.5,215.7 388.5,214.6 385.7,213 383.1,211 378.6,206 375,199.9 372.4,192.5 371,185 370.7,177 371.7,169 373.7,161.5 376.9,154.5 381,148.6 385.9,144 391,141.1 394.5,139.9 398.5,139.5 418.5,140 431,140 437,140.7 448.5,142.9 463.5,144.8 468,145.9 473,147.7 475.5,148 475.8,147 475.2,141.5 475.1,137 476.1,129 477.4,124.5 478.9,120.5 483.1,113 485.8,109.5 488.9,106 495.5,100.3 499.7,97.5 504.3,95 515,90.8 516,90 516.5,88.5 517.2,84.5 517.2,83 512,74.2 509,67.2 506.5,58 505.1,48.5 504.6,37 505.1,25.5 506.5,16 508.9,7Z" fill="#e77e49" fill-rule="evenodd"/><path d="M509.4,7 509.6,6.5 586.1,6.5 587.2,10.5 588.6,16.5 589.5,23.5 590,30.5 590.2,39 589.9,46 589.2,53 588.2,59.5 586.7,65.5 585,70.6 583,75.2 578.6,82.5 575.5,86.1 572,89.3 568.5,91.7 563.2,94.5 562.3,96 561.8,99 562.5,101 566.5,105.5 569.5,109.6 573.4,116.5 575.2,121 576.5,125.5 577.9,134.5 577.9,143 576.5,151.5 574.3,158 569.3,168 568.8,170.5 569.2,184 570.5,203.5 572.8,224 572.6,232 574.3,245.5 574.4,252 574,258.5 495.6,258.5 495.1,252.5 495.2,246.5 495.7,240.5 496.6,235 497.9,229.5 499.5,224.6 504.6,213 505.6,208 506.2,197 505.5,188.3 505,185.4 504.5,184.3 504,185 502.6,189.5 501,193 499.1,196 497,198.1 495,199.5 492.5,200.5 486.5,201 481.5,206.2 472,211.7 467,213.6 460.5,215.3 448,216 436,217.8 431,218.3 427,218.3 415,217.1 395,215.8 392,215.2 389,214.2 386,212.5 383.5,210.6 379,205.7 375.4,199.5 372.7,192 371.4,184.5 371.2,176.5 372.2,168.5 374.4,161 377.5,154.4 381.5,148.8 386.2,144.5 391.5,141.5 395,140.5 398.5,140.1 418,140.6 432,140.7 437.5,141.4 448.5,143.6 463.5,145.6 476.5,149.3 476.8,148.5 475.9,142.5 475.7,138 476.6,130 477.7,125.5 479.2,121.5 481.1,117.5 483.5,113.5 486.1,110 489.3,106.5 496,100.7 500.5,97.7 505,95.3 516,91 516.8,90 517.1,89 517.9,85 517.8,83 512.5,74.1 509.4,67 507,58 505.5,48.1 505,36.5 505.5,25.5 507,15.8 509.4,7Z" fill="#eb864c" fill-rule="evenodd"/><path d="M510,7 510.2,6.5 585.6,6.5 587,11.5 588.4,18 589.2,24.5 589.7,31.5 589.8,39.5 589.5,46.5 588.8,53.5 587.7,59.5 586.2,65.5 582.8,74.5 580.6,78.5 578.3,82 575,85.8 571.5,88.9 568,91.3 562.5,94.2 561.7,95.5 561.1,99 561.7,101 568.1,108.5 570.7,112.5 572.8,116.5 574.6,121 576,125.5 577.4,134.5 577.4,143 575.9,151.5 573.1,159.5 568.7,168 568.1,171 568.4,185 569.5,203 572.1,224 571.9,231.5 573.7,245.5 573.8,252 573.3,258.5 496.2,258.5 495.8,253 495.8,247 496.3,241 497.1,235.5 498.5,230 500,225.2 505.3,213 506.6,206 507,197.5 506.5,189.5 505.5,182.6 505,181.6 504,181 503.5,181 503.1,181.5 502,187 500.6,191 499,193.7 497,196 495,197.6 493,198.6 490.5,199.1 487.5,199.1 486.5,199.5 481.7,205 473,210.3 467.5,212.7 460.5,214.6 448,215.3 432.5,217.6 427.5,217.7 415,216.5 395.5,215.3 392.5,214.7 389.5,213.7 386.5,212.1 384,210.3 379.5,205.5 377.5,202.5 375.7,199 373,191.5 371.8,184 371.6,176.5 372.6,169 374.7,161.5 377.7,155 381.6,149.5 386.4,145 391.5,142.1 395,141.1 398.5,140.7 418,141.3 432,141.3 437.5,142.1 448.5,144.3 464,146.4 468.5,147.6 477,150.8 477.5,150.9 477.8,150.5 476.4,140.5 476.5,136 477,131.5 477.9,127 479.5,122.5 481.3,118.5 483.6,114.5 486.1,111 489.1,107.5 496,101.4 500.3,98.5 505,96 509.5,94 516.5,91.5 517.4,90.5 517.9,89 518.6,84.5 518.5,83 513.1,74 510,67 507.5,58.3 506,48.5 505.5,37 506,25.5 507.5,15.7 510,7Z" fill="#ef8e4e" fill-rule="evenodd"/><path d="M510.7,6.5 585.1,6.5 586.8,12.5 588.1,18.5 588.9,25.5 589.4,32.5 589.4,40.5 588.4,53.5 587.3,59.5 585.7,65.5 582.5,74 580.3,78 577.9,81.5 574.5,85.5 571.1,88.5 568,90.6 561.7,94 560.9,95.5 560.3,99 560.9,101 567.5,108.6 570.1,112.5 572.2,116.5 574,121 575.4,125.5 576.4,130 576.9,134.5 576.8,143 575.4,151.5 572.6,159.5 568,168 567.3,171 567.5,185.5 568.6,202.5 571.3,224 571.2,231.5 573,245.5 573.1,252 572.7,258.5 496.9,258.5 496.5,253 496.5,247 496.9,241.5 497.7,236 499,230.6 500.6,225.5 506.1,213 506.9,209.5 507.5,204 507.8,197 506.5,183.5 505.6,181 503.5,179.7 502.5,179.5 501.9,180 501.1,185 500.1,188.5 498.5,191.7 496.5,194.2 494.5,195.8 492.5,196.7 487,197.4 482,203.8 473,209.5 467.5,211.9 460.5,213.8 448,214.6 432.5,217 427.5,217.1 415,215.9 395.5,214.6 392.5,214.1 389.5,213.1 386.6,211.5 384,209.6 379.5,204.6 376,198.5 373.4,191 372.2,183.5 372.1,176 373.1,168.5 375.4,161 378.5,154.6 382.5,149.3 387.4,145 392.5,142.4 395.5,141.6 399,141.3 418.5,141.9 430.5,141.8 434,142.2 448,144.9 465,147.4 475,150.8 479,152.8 479.1,152 477.8,146.5 477.2,142 477,137.5 477.4,133 478.2,128.5 479.6,124 481.5,119.5 483.7,115.5 486.5,111.5 489.5,108 496.2,102 500.7,99 505.5,96.4 510,94.4 517,92 518,91 518.5,89.5 519.3,85 519.2,83 518.6,81.5 513.7,74 510.5,66.9 507.9,58 506.4,48 505.9,36 506.5,25 508,15.5 510.7,6.5Z" fill="#f39651" fill-rule="evenodd"/><path d="M511.3,6.5 584.6,6.5 586.5,13 587.7,19 588.5,25.5 589,32.5 589,40.5 588.7,47 587.9,53.5 586.8,59.5 585.3,65.5 581.9,74 577.5,81.2 574.2,85 570.5,88.2 567,90.5 561.1,93.5 560.3,95 559.6,99 560.1,101 566.8,108.5 569.4,112.5 571.6,116.5 573.5,121 574.9,125.5 575.8,130 576.4,134.5 576.3,143 574.8,151.5 572,159.4 567.1,168.5 566.6,171.5 566.7,186.5 567.5,201.5 570.6,224 570.4,231.5 571.8,240 572.3,245.5 572.5,252 572,258.5 497.6,258.5 497.1,253 497.1,247.5 497.5,242 498.3,236.5 499.6,231 501.2,226 507,212.5 508,207 508.7,199.5 508.2,191.5 506.9,182 506.5,181 505.6,180 502,178.2 501,178 500.4,178.5 499.9,183 499.1,186.5 497.8,189.5 496,192.1 494.4,193.5 492.5,194.5 490.5,195 488,195.1 487,195.5 483.5,201 482,202.7 473.3,208.5 467.7,211 460.5,213.1 448.5,213.8 433,216.3 428,216.5 415,215.2 395.5,214 392.5,213.5 389.7,212.5 387,211.1 384.5,209.2 380,204.4 378,201.4 376.3,198 373.7,190.5 372.6,183 372.6,175.5 373.7,168 375.9,161 379,154.8 383,149.5 387.7,145.5 390.3,144 393,142.9 396,142.1 399,141.9 418.5,142.5 430.5,142.5 435.5,143 448,145.6 462,147.6 466.5,148.6 476,152.1 481,156 478.2,145 477.8,140.5 477.8,136 478.4,131 479.5,126.3 481.3,121.5 483.5,117.1 486,113.3 489,109.5 492.4,106 496,102.9 500.5,99.8 505.5,97 510.5,94.8 517.5,92.5 518.7,91.5 519.3,89.5 520,85 520,83 519.3,81.5 514.3,74 511,66.8 508.4,58 506.8,48 506.3,36 506.9,25 508.5,15.5 511.3,6.5Z" fill="#f69d52" fill-rule="evenodd"/><path d="M511.8,6.5 584.1,6.5 586.3,14 587.5,20.4 588.3,27 588.6,41.5 588.2,48 587.4,54.5 586.2,60.5 584.6,66 581.3,74 576.9,81 573.5,84.9 570,87.8 566.5,90.1 560.5,93 559.6,94.5 558.8,99 559.3,101 566.1,108.5 568.8,112.5 571,116.5 572.9,121 574.3,125.5 575.3,130 575.8,134.5 575.8,143 574.3,151.5 571.4,159.5 566.4,168.5 565.8,171.5 565.7,186.5 566.2,197 566.8,204.5 569.8,224 569.7,231 571.6,244 571.8,251.5 571.3,258.5 498.3,258.5 497.8,253 497.8,247.5 498.2,242 499,236.7 500.2,231.5 501.8,226.5 506.8,215.5 507.8,212.5 509,206 509.6,198.5 508.8,189.5 507.4,181 506,179.5 500,176.4 499,176.1 498.4,176.5 498.4,181 498,184 497,187 495.4,189.5 494,190.9 492.5,191.9 487.5,192.9 486.5,194.1 483.7,199.5 482,201.7 480.5,202.9 473.5,207.5 468,210.1 460.5,212.3 448.5,213.1 433.5,215.6 428,215.8 415,214.6 395.5,213.4 392.5,212.8 390,212 387,210.4 384.5,208.5 382,206.1 380,203.5 376.5,197.3 374.1,190 373,182.5 373.1,174.5 374.4,167 376.8,160 380.1,154 384.5,148.8 389.5,145.1 392,143.9 395,143 399,142.6 418.5,143.2 431,143.1 437.5,144 449,146.5 465,149 475,152.6 477.5,154 481.2,158 486.5,166.2 487.5,166.8 487.8,166.5 487.5,165.3 483.7,159 481.6,154.5 479.9,149.5 478.8,144.5 478.4,139 478.7,133.5 479.7,128 481.5,122.7 483.5,118.5 486,114.4 489,110.5 492.5,106.8 498,102.2 503.9,98.5 510,95.7 518.9,92.5 519.7,91 520.8,85.5 520.9,83.5 520.4,82 515,74.1 511.3,66 508.9,58 507.4,49 506.8,37.5 507.3,25.5 509,15.5 511.8,6.5Z" fill="#f8a450" fill-rule="evenodd"/><path d="M512.4,6.5 583.6,6.5 585.9,14.5 587.1,20.5 587.8,27 588.2,34 588.2,41.5 587,54 585.8,60 584.3,65.5 581,73.5 579,77 576.5,80.6 573,84.5 569.5,87.5 566,89.7 560.8,92 559.5,92.9 558.7,94.5 558,99 558.4,101 565.5,108.7 568.1,112.5 570.5,116.8 572.3,121 573.7,125.5 574.7,130 575.3,134.5 575.2,143 573.7,151.5 570.8,159.5 565.7,168.5 565,172 564.7,187 565.1,197 565.8,204.5 569,224 568.9,231 570.8,243.5 571.1,251 570.6,258.5 499,258.5 498.5,253 498.5,247.5 499.7,237 500.9,231.5 502.5,226.7 507.6,215.5 508.7,212.5 510,204.5 510.5,197 509.4,187.5 508,180.5 506.4,179 495.5,172.9 495,172.7 494.6,173 495.9,177 496.2,180.5 495.9,183 495,185.4 494,187 492.5,188.4 491,189.1 488.5,189.5 487.5,190.2 484,197.6 482,200.5 480.5,201.9 475.5,205.3 471,207.9 466,210 460,211.6 449,212.3 436,214.6 429.5,215.2 415,213.9 396,212.8 393,212.3 390,211.3 387,209.6 384,207.3 381.5,204.6 379.3,201.5 377.4,198 375.7,194 374.5,189.6 373.4,182 373.6,174.5 375,166.5 377.5,159.6 381.1,153.5 385.5,148.6 390.5,145.2 393,144.2 396,143.4 399,143.2 418.5,143.8 431.5,143.8 437.5,144.7 448.5,147.2 462,149.1 465.8,150 475,153.5 477.5,155 479.5,156.9 481.4,159.5 486.5,168.6 487.5,169.9 489,170.6 491.5,170.7 492.2,170.5 484.1,158 481.8,153 480.2,148 479.3,142.5 479.1,136.5 479.8,130.5 481.3,125 483.2,120.5 485.7,116 488.6,112 492.1,108 497.5,103.4 504,99.2 510.5,96.1 519.5,93 520.4,91.5 521.6,85 521.7,83.5 521.2,82 515.9,74.5 512,66.4 509.4,58 507.9,49 507.2,37.5 507.8,25.5 509.5,15.5 512.4,6.5Z" fill="#f9aa50" fill-rule="evenodd"/><path d="M512.8,7 513,6.5 583.1,6.5 585.6,15 586.7,21 587.5,27.5 587.8,34.5 587.7,42 587.3,48.5 586.5,54.5 585.3,60 583.8,65.5 580.4,73.5 576,80.3 572.7,84 569,87.1 565.5,89.2 560,91.6 558.7,92.5 558,94 557.1,99 557.6,101 565,109 567.8,113 570,117 571.7,121 573.2,125.5 574.2,130 574.7,134.5 574.7,143 573.1,151.5 570.1,159.5 564.9,168.5 564.4,170 564.2,172.5 563.7,187.5 564,197 564.8,204.5 568.2,224 568.1,231 570.1,243 570.4,251 569.9,258.5 499.7,258.5 499.2,253 499.2,247 499.7,241.5 500.6,236 501.9,231 503.5,226.2 509,214 510.7,206 511.5,197.5 510.4,188.5 509.1,181.5 508.2,179.5 499.5,174.2 494.5,170.4 489.9,165.5 485.5,159.2 482.7,153.5 480.9,148 480,142.5 479.8,136.5 480.8,129.5 483,122.5 486.5,116 491.5,109.6 496.4,105 502.1,101 510,97 520,93.6 520.7,93 521.3,91.5 522.5,85 522.5,83 521.7,81.5 516.3,74 512.6,66.5 509.8,57.5 508.2,47.5 507.7,36 508.3,25.5 510,15.7 512.8,7ZM396.5,144 432.5,144.6 438,145.5 449,148 463,150.1 469,151.9 476.5,155.3 478.5,156.9 480,158.6 483.3,164 488,174.5 489,175.5 491,176.4 492,177.6 492.6,180 492.2,182 491.1,183.5 489,184.5 488,185.6 484,196 482.9,198 481.4,200 472,206.5 468,208.4 464,209.8 460,210.8 449,211.5 436,213.9 429.5,214.6 415,213.3 395.5,212.1 391,211 387,208.9 383.5,206 380.2,202 377.7,197.5 375.8,192.5 374.5,187 373.8,181 374,175 374.9,169 376.4,163.5 378.6,158.5 381.3,154 384.8,150 388.5,147 392.5,145 396.5,144Z" fill="#fbb14e" fill-rule="evenodd"/><path d="M513.4,7 513.6,6.5 582.5,6.5 585.3,16 586.4,22 587.1,28.5 587.3,42.5 586.8,49 585.9,55 584.7,60.5 583.1,66 581,71 578.9,75 576.3,79 573.3,82.5 570.5,85.1 567,87.7 557.9,92 557.2,93.5 556.2,99 556.6,101 564,108.6 566.8,112.5 569.1,116.5 571,120.7 572.5,125.2 573.5,129.5 574.2,134.5 574.3,139 574.1,143.5 572.4,152 569.5,159.5 564.5,168 563.7,170 562.7,186 562.7,195 563.2,201 567.4,224 567.3,231 569.4,244 569.7,251.5 569.2,258.5 500.4,258.5 499.9,248.5 500.8,239 501.9,233.5 503.5,228.4 505.5,223.4 509.4,215.5 510.6,211.5 511.9,204.5 512.5,198.5 511.7,191 510,181.5 509.2,179.5 508,178.4 500,173.7 495,169.8 490,164.5 485.9,158.5 483.4,153.5 481.6,148 480.7,142.5 480.5,136.5 481.5,129.5 483.8,122.5 487.3,116 492,110 497,105.4 503,101.2 510.5,97.5 520.5,94.2 521.5,93.5 522.1,92 523.4,85 523.3,83 522.6,81.5 517,74.1 513.4,67 510.4,58 508.6,47.5 508.1,36.5 508.8,25.5 510.5,15.8 513.4,7ZM398.5,144.5 418.5,145.1 430.5,145.1 434.5,145.5 448.5,148.7 464.5,151.3 469.4,153 476.5,156.3 479.5,159.1 482.5,164 485.2,170.5 486.8,177 487,181.5 486.2,187 484.5,193 482.5,197.3 480.5,199.6 473.8,204.5 470,206.6 465.5,208.5 460,210 448.5,210.8 434,213.5 428,213.9 415.5,212.7 395.5,211.4 391.5,210.5 387.5,208.5 384,205.7 381,202.2 378.5,198 376.4,193 375.1,188 374.4,182.5 374.3,176.5 375,171 376.3,165.5 378.2,160.5 380.6,156 383.5,152.2 387,148.8 390.5,146.6 394.5,145 398.5,144.5Z" fill="#fcb64d" fill-rule="evenodd"/><path d="M514,7 514.2,6.5 582,6.5 583.7,11.5 585,16.6 586.1,22.5 586.7,29 586.9,43 586.4,49 585.5,55 584.3,60.5 582.5,66 580.5,71 578,75.5 575.5,79.1 572.5,82.5 569.5,85.2 566,87.5 563,89 558,91 557,91.7 556.2,93.5 555.3,99 555.7,101 563.5,108.9 566.1,112.5 568.5,116.6 570.5,121 572,125.5 573,130 573.6,134.5 573.8,139 573.5,143.5 572.8,148 571.6,152.5 568.9,159.5 563.7,168 562.7,170.5 561.6,188 561.5,195 562,200.5 566.5,224 566.5,231 568.7,243.5 569,251 568.4,258.5 501.2,258.5 500.6,248.5 501.6,238.5 502.9,233 504.5,228 506.3,223.5 510.1,216 511.4,212 512.8,204.5 513.6,198.5 512.8,192 510.8,181.5 509.8,179 508.6,178 501,173.6 495.7,169.5 490.5,164 486.5,158.2 484,153 482.2,147.5 481.3,142 481.2,136.5 482.2,129.5 484.5,122.5 488.1,116 492.9,110 498,105.4 504,101.3 511.5,97.7 521.5,94.6 522.5,93.7 523,92.5 524.3,85.5 524.3,83 523.5,81.5 517.7,74 514,67 511,58 509.1,47.5 508.6,36.5 509.2,25.5 511,15.9 514,7ZM395.4,145.5 399,145.2 418.5,145.8 430.5,145.7 434,146.1 448.5,149.4 464.5,152.2 469,153.7 476,157.1 479,159.6 481.5,163.5 484.1,169.5 485.6,175.5 486,180.5 485.7,185.5 484.3,191.5 482.5,195.8 480.5,198.3 474.5,203 470.4,205.5 466,207.4 460,209.2 448.5,210.1 434.5,212.8 428.5,213.2 415.5,212 395.5,210.7 392,210 388.5,208.4 385,205.8 382,202.6 379.5,198.8 377.5,194.5 376,189.7 375.1,184.5 374.7,179.5 375,174 376,168.5 377.5,163.5 379.5,159 381.9,155 384.9,151.5 388,148.8 391.5,146.8 395.4,145.5Z" fill="#fcbc4c" fill-rule="evenodd"/><path d="M514.8,6.5 581.4,6.5 583.3,12 584.7,17.5 585.7,23.5 586.3,29.5 586.6,36.5 586.4,43.5 585.9,49.5 584.9,55.5 583.6,61 582,66 580,70.7 577.7,75 575,78.8 572,82.1 569,84.8 565.5,87.1 562,88.8 557.2,90.5 556,91.3 555.3,93 554.3,99 554.7,101 562.5,108.7 565.4,112.5 567.8,116.5 569.7,120.5 571.3,125 572.3,129.5 573,134.5 573.2,139 572.9,143.5 572.2,148 571,152.5 568.2,159.5 562.9,168 561.9,170.5 560.3,189.5 560.3,197 560.7,200.5 565.6,224 565.6,230.5 567.9,243 568.2,251 567.7,258.5 501.9,258.5 501.5,253.5 501.4,248 502.5,238 503.7,233 505.3,228 510.8,216.5 512.2,212.5 513.8,205 514.6,199 514.7,197 514.2,194 511.5,181 510.5,178.6 509.1,177.5 501.5,173.1 496.2,169 491,163.6 487,157.7 484.5,152.5 483,147.5 482,142 481.9,136.5 482.9,129.5 485.3,122.5 488.9,116 493.9,110 499,105.5 505,101.5 512.5,98 522.4,95 523.5,94 523.9,93 525.3,85.5 525.2,83 524.4,81.5 518.5,74.2 514.5,66.7 511.4,57.5 509.6,47 509.1,35.5 509.8,25 511.6,15.5 514.8,6.5ZM396.5,146 399,145.8 419.5,146.5 430.5,146.4 434.5,146.9 449,150.3 464.5,153.1 469,154.7 476,158.2 479,160.9 481.3,164.5 483.4,169.5 484.8,175 485.2,180 484.9,185.5 483.7,191 482,195 480,197.5 474,202.3 470,204.8 466,206.5 460,208.3 449,209.2 434.5,212.1 428.5,212.6 415.5,211.3 396,210.1 392.5,209.4 389,207.9 385.6,205.5 382.7,202.5 380,198.5 378,194.3 376.5,189.5 375.5,184.1 375.2,179 375.6,173.5 376.6,168 378.2,163 380.4,158.5 383,154.5 386,151.2 389.5,148.6 393,146.9 396.5,146Z" fill="#fcc04a" fill-rule="evenodd"/><path d="M515.5,6.5 580.9,6.5 583,12.5 584.4,18.5 585.4,24.5 586,30.5 585.9,44 584.4,55.5 583.1,61 581.5,66 579.5,70.5 577,75 574.1,79 571,82.2 568,84.7 564.5,86.9 561,88.5 556.3,90 555,90.9 554.2,93 553.2,99 553.7,101 561.6,108.5 564.5,112.2 567.1,116.5 569,120.5 570.6,125 571.8,129.5 572.4,134.5 572.6,139 572.3,143.5 571.6,148 570.4,152.5 567.5,159.6 561.8,168.5 561,170.5 559,191 558.9,197 559.3,200 564.7,224 564.8,230.5 567,242.5 567.5,250.5 566.9,258.5 502.7,258.5 502.2,253 502.2,247.5 502.7,242 503.5,237 504.8,232 506.4,227.5 511.5,217 512.7,214 515.1,203.5 515.9,197 512.5,181.5 511.5,178.5 510,177.2 502,172.7 496.6,168.5 491.4,163 487.4,157 485.1,152 483.6,147 482.8,142 482.6,136.5 483.7,129.5 486.1,122.5 489.8,116 494.5,110.3 499.5,105.9 505.5,102 513.1,98.5 523.3,95.5 524.5,94.5 524.9,93.5 526.3,85.5 526.3,83 525.3,81.5 519.5,74.5 515.2,67 513.4,62.5 511.9,57.5 510.1,47 509.6,35.5 510.3,25 512.3,15 515.5,6.5ZM394.9,147 399,146.5 418.5,147.2 430.5,147.1 433,147.4 438.5,148.4 449,151.1 463,153.6 467,154.8 470.7,156.5 476,159.4 478.5,161.6 481,165.5 483,170.5 484.3,176.5 484.5,182.5 483.7,188.5 482,193.2 480,196 474.2,201 470.4,203.5 466.2,205.5 460,207.4 449,208.4 435,211.3 428.5,211.9 415.5,210.6 396,209.4 392.5,208.7 389.5,207.5 386.5,205.5 383.4,202.5 380.9,199 378.6,194.5 377.1,190 376.1,185 375.7,180 375.9,175 376.6,170 378,165 379.9,160.5 382.2,156.5 385,153.1 388,150.4 391.5,148.2 394.9,147Z" fill="#fcc649" fill-rule="evenodd"/><path d="M515.9,7 516.1,6.5 580.3,6.5 582.4,12.5 584.1,19 585,24.8 585.5,31 585.5,44.5 584.8,50.5 583.9,56 582.4,61.5 580.7,66.5 578.5,71.3 576,75.4 573.3,79 570.3,82 567.2,84.5 564,86.4 560.5,88 555.4,89.5 553.9,90.5 553.2,92.5 552.1,99 552.5,101 558,105.7 561,108.8 563.9,112.5 566.4,116.5 568.4,120.5 570,125 571.1,129.5 571.8,134.5 572,139 571.7,143.5 571,148 569.8,152.5 566.9,159.5 561,168.5 560,171 557.8,189 557.4,195 557.5,197 558.3,202 563.8,224 563.9,230.5 565.8,239.5 566.5,245.5 566.6,252 566.1,258.5 503.5,258.5 503,253 503,247.5 503.5,242 504.3,237 507.1,228 512.3,217.5 513.6,214 516.4,203 517.1,197 513.2,180.5 512.2,178 511,177 502.9,172.5 497.5,168.4 492.3,163 488.3,157 485.9,152 484.3,147 483.5,142 483.4,136.5 484.4,129.5 486.9,122.5 490.5,116.2 495.3,110.5 500.5,106 506,102.5 514,98.9 524.3,96 525.5,95 526,93.5 527.5,85.5 527.3,83 526.3,81.5 520.2,74.5 516,67.3 514,62.5 512.6,58 511.5,53 510.6,47.5 510.1,36.5 510.7,25.5 512.6,16 514,11.5 515.9,7ZM395.9,147.5 399,147.2 418.5,147.9 430.5,147.8 433,148.1 438.5,149.1 449.5,152.1 463,154.5 466.5,155.6 470,157.2 476,160.7 478,162.5 480.1,165.5 482.1,170 483.4,175.5 483.8,181.5 483.1,187.5 481.5,192.2 479.5,195 474,200 470.3,202.5 466,204.6 460,206.5 449,207.5 435,210.6 428.5,211.2 415.5,209.9 396,208.7 393,208.2 390,207 386.9,205 383.8,202 381,198 379,194 377.5,189.5 376.6,184.5 376.2,179.5 376.4,174.5 377.3,169.5 378.6,165 380.5,160.5 383,156.4 385.9,153 389,150.4 392.5,148.5 395.9,147.5Z" fill="#fcca46" fill-rule="evenodd"/><path d="M516.8,6.5 579.7,6.5 582.1,13 583.8,20 584.7,26 585.1,32 585,45 584.3,51 583.3,56.5 581.8,62 580,66.8 577.7,71.5 575.2,75.5 572.5,78.9 569.4,82 566.5,84.2 563,86.2 559.5,87.6 554.4,89 552.7,90 552,92 550.8,99 551.3,101 559.9,108.5 562.8,112 565.5,116.1 567.7,120.5 569.4,125 570.5,129.5 571.2,134.5 571.4,139.5 571.1,144 570.3,148.5 569,153 565.9,160 560.1,168.5 559.1,171 556.4,189.5 555.9,195.5 556.9,202 562.8,224 562.9,230 565,239.5 565.7,245.5 565.8,252 565.3,258.5 504.4,258.5 503.8,253 503.8,247.5 504.3,242 505.3,236.5 508,228 513.1,218 514.5,214.5 517.6,203 518.4,197 514,180 513,177.6 511.6,176.5 503.5,172 498.5,168.3 493.3,163 489.1,157 486.7,152 485.1,147 484.3,142 484.1,136.5 485.2,129.5 487.7,122.5 491.5,116.1 496.3,110.5 501.5,106.1 507.3,102.5 515,99.2 525.3,96.5 526.6,95.5 527.2,94 528.6,86 528.7,83.5 527.8,82 523.5,77.6 521,74.5 516.8,67.5 514.8,63 513.2,58 512,53 511.1,47.5 510.6,36 511.3,25 513.5,15 516.8,6.5ZM397.7,148 419,148.6 430.5,148.5 433,148.8 438.5,149.9 449.5,153 463,155.5 469,157.8 477,163 479.1,165.5 481,169.5 482.5,174.8 483,180.5 482.5,186.4 481,190.9 479.2,193.5 473.6,199 470,201.6 466,203.6 459.5,205.7 449,206.7 435,209.9 428.5,210.4 416,209.2 396,208 393,207.4 390,206.2 387,204.2 384,201.3 381.5,197.7 379.4,193.5 378,189 377,184 376.7,179 377.1,173.5 378,168.5 379.7,163.5 382,159 384.4,155.5 387.4,152.5 390.5,150.3 394,148.7 397.7,148Z" fill="#facf44" fill-rule="evenodd"/><path d="M517.4,6.5 579.1,6.5 581.5,13 583.4,20.5 584.3,26.5 584.7,32.5 584.5,45.5 583.7,51.5 582.6,57 581,62.5 579.3,67 577.1,71.5 574.5,75.5 571.5,79.1 568.4,82 565,84.3 561.8,86 558,87.4 553,88.5 551.5,89.4 550.7,91.5 549.5,98.5 549.5,100 550.1,101 556,105.7 559,108.5 562,112 564.7,116 566.8,120 568.6,124.5 569.8,129 570.6,134 570.7,142 569.3,150 567.6,155 565.5,159.4 563,163.5 559.3,168.5 558.2,170.5 554.9,190 554.2,195.5 554.2,197 555.2,201.5 559,213.6 561.8,224 562,230 564,239 564.9,245.5 565,252 564.4,258.5 505.2,258.5 504.7,253 504.6,247.5 505.1,242 506.2,236.5 509,228 514.1,218 515.6,214.5 519,202.5 519.9,197 514.9,179.5 514,177.5 512.3,176 504,171.5 499.2,168 494,162.8 489.9,157 487.5,152 485.9,147 485,142 484.9,136.5 486,129.5 488.5,122.5 492.1,116.5 497,110.8 502.2,106.5 508,102.9 516,99.6 526.5,97 527.9,96 528.5,94.5 530,86 530,83.5 529,82 524.8,78 522,74.8 519.5,71.2 517.5,67.6 515.4,63 513.8,58 512.5,53 511.7,47.5 511.1,36 511.9,25 514,15.2 515.5,10.9 517.4,6.5ZM395.8,149 399,148.7 417.5,149.4 429.5,149.2 432.5,149.5 438.5,150.6 449.5,153.9 462.5,156.4 468,158.4 471.6,160.5 476.5,164.3 478.5,166.6 480.2,170 481.6,174.5 482.2,180 481.8,185 480.4,189.5 479,191.8 475.8,195.5 471.5,199.4 466.5,202.3 459.5,204.7 450,205.6 436.5,208.8 429.5,209.7 415.5,208.4 396,207.2 393.5,206.8 391,205.9 388,204.1 385,201.4 382.5,198.2 380.5,194.5 378.8,190 377.8,185.5 377.3,180.5 377.4,175.5 378.1,170.5 379.4,166 381.3,161.5 383.5,157.7 386,154.7 389.1,152 392.5,150 395.8,149Z" fill="#fad340" fill-rule="evenodd"/><path d="M517.9,7 518.1,6.5 578.5,6.5 581.1,13.5 583,21.2 583.8,27 584.3,33 584.3,40 583.9,46 583.1,52 582,57.4 580.5,62.5 578.5,67.4 576.1,72 573.5,75.8 570.5,79.2 567.3,82 564,84.1 560.5,85.8 557,86.9 551.5,88 550,88.8 549.1,91 547.9,98.5 548,100 548.6,101 554.5,105.3 557.6,108 560.8,111.5 563.7,115.5 566.1,120 567.9,124.5 569.2,129 570,134 570.2,138 570,142.5 568.5,150.5 566.9,155 564.7,159.5 562.5,163.1 558.3,168.5 557.2,170.5 553.1,190.5 552.3,196 553.5,201.5 557.5,212.9 560.7,224 561,230 563.1,239 564,245.1 564.2,252 563.6,258.5 506.1,258.5 505.5,253 505.5,247.5 506,242 507.1,236.5 509.8,228.5 515,218.5 516.5,215 520.5,202.5 521.4,198.5 521.5,197 515.8,179 514.8,177 513,175.6 505,171.4 500,167.7 495,162.8 490.8,157 488.3,152 486.7,147 485.8,142 485.7,136.5 486.8,129.5 489.3,122.5 493,116.5 498,110.9 503.4,106.5 509.4,103 517.5,99.8 528,97.5 529.4,96.5 530,95 531.6,86.5 531.6,84 530.7,82.5 526,78.2 523,75 518.5,68.2 516.5,64 514.7,59 513.3,54 512.3,48.5 511.6,37.5 512.3,26 514.4,16 516,11.2 517.9,7ZM397.8,149.5 418.5,150.1 430.5,150 433,150.3 438.7,151.5 449.5,154.8 462.5,157.5 467,159.1 471.1,161.5 475.8,165.5 477.5,167.5 479.2,170.5 480.6,175 481.1,180 480.7,184.5 479.5,188.4 476.4,193 473.5,196.3 470,199.1 466,201.3 459.5,203.7 449.5,204.7 435.5,208.3 430,208.9 427.5,208.9 416,207.7 396,206.5 393.5,206 391,205.1 388,203.2 385,200.4 382.5,197 380.5,193 379,188.6 378.1,184 377.8,179 378.1,174 379,169.2 380.5,164.6 382.5,160.4 385,156.8 388,153.7 391,151.6 394.5,150.1 397.8,149.5Z" fill="#f8d83e" fill-rule="evenodd"/><path d="M518.8,6.5 577.8,6.5 580.7,14 582.6,22 583.5,28 583.8,34 583.8,40.5 583.4,46.5 582.6,52 581.4,57.5 579.9,62.5 577.8,67.5 575.4,72 572.5,76 569.5,79.3 566,82.1 562.5,84.2 559,85.6 555.5,86.5 550,87.4 548.4,88 547.4,90 546,98 546,99.5 546.5,100.5 553.5,105.4 556.5,107.9 560,111.5 562.9,115.5 565.4,120 567.3,124.5 568.5,129 569.3,134 569.6,138 569.4,142.5 568.7,147 567.7,151 566,155.5 563.7,160 561.4,163.5 557.4,168.5 556.2,170.5 550.2,196 551.3,200.5 556,212.5 559.6,224 559.9,229.5 562.1,238.5 563.1,245 563.3,252 562.7,258.5 507,258.5 506.4,253 506.4,247 507,241.5 508.1,236 510.8,228.5 517.5,215.5 522.2,202 523.3,198 523.3,197 516,177 514.5,175.5 508,172.3 503.5,169.5 499.7,166.5 496.2,163 492.6,158.5 490.1,154 488.2,149.5 486.9,144.5 486.5,140.5 486.5,136 487,132 488,128 489.5,124 491.3,120.5 493.6,117 496.4,113.5 502,108.4 509,104 513.5,101.9 518,100.4 529.7,98 531.3,97 531.9,95.5 533.5,86.5 533.3,84 532.1,82.5 524.8,76 522,72.6 519.7,69 517.4,64.5 515.5,59.7 514,54.5 512.9,49 512.3,43.5 512.1,37.5 512.3,31.5 512.8,26 513.7,21 515,15.9 516.7,11 518.8,6.5ZM396.1,150.5 399,150.3 417.5,150.9 429,150.8 432.2,151 438,152.1 449,155.7 462,158.6 466,159.9 469.7,162 472.8,164.5 476,168 478,171.2 479.4,175.5 479.8,179.5 479.5,183.5 478.5,187 476,191.5 473.1,195 469.6,198 466,200.1 459.5,202.5 449.5,203.7 436,207.4 431.5,208 428,208.1 416,206.9 396,205.7 391.5,204.5 388.5,202.7 385.5,200 383.2,197 381.4,193.5 379.9,189.5 378.8,185 378.4,180.5 378.5,175.5 379.2,171 380.5,166.2 382.3,162 384.5,158.5 387,155.5 390,153.1 393,151.4 396.1,150.5Z" fill="#f4da3e" fill-rule="evenodd"/><path d="M519.3,7 519.6,6.5 577.2,6.5 580.3,14.5 582.3,23 583.1,29 583.4,35 583.3,41.5 582.7,48 581.8,53.5 580.5,59 578.8,64 576.7,68.5 574,73 571.3,76.5 568,79.7 564.5,82.2 561,84.1 557.5,85.3 554,86 548,86.7 545.7,87.5 544.7,89.5 543.3,97.5 543.4,99 544.5,100.5 551,104.5 554.5,107 558.2,110.5 561.4,114.5 564,118.6 566.2,123.5 567.7,128.5 568.6,133.5 568.9,138 568.7,142.5 568,147 566.8,151.5 565.1,156 563,160 560.5,163.6 556,169 554.9,171 552.2,182 547.8,196 547.8,197 548.7,199.5 554.5,212.5 558.5,224 558.8,229.5 561.2,238.5 562.2,245 562.4,252 561.8,258.5 507.9,258.5 507.3,253 507.3,247 508,241 509.3,235.5 511.9,228.5 518.5,216 524.2,201.5 525.4,198 525.4,197 516.9,176.5 515.2,175 508.5,171.7 504.1,169 500.2,166 496.7,162.5 493.6,158.5 490.9,154 488.9,149 487.7,144 487.2,140 487.3,135.5 487.9,131.5 489,127.5 490.6,123.5 492.5,120 495,116.4 497.9,113 503.8,108 510.6,104 515.4,102 520,100.6 532,98.5 533.9,97.5 534.7,95.5 536.2,87.5 536,85 534.8,83.5 529,79 526.2,76.5 523.5,73.4 521,69.9 518.5,65.5 516.5,60.7 514.9,55.5 513.7,50 513,44.5 512.6,38.5 512.7,32.5 513.3,26.5 514.1,21.5 515.5,16.2 517.2,11.5 519.3,7ZM395.3,151.5 398.5,151.1 418,151.7 429,151.6 432,151.8 438,153 449,156.7 457.5,158.9 461.5,159.7 465.5,161.1 469,163 472.5,166 475.1,169.5 477,173 478,177 478.2,181 477.6,184.5 476.1,188.5 474,192 471.4,195 468.2,197.5 464.5,199.5 459.5,201.3 449.5,202.6 438.5,205.9 434.5,206.8 429.5,207.4 427.5,207.3 416,206.1 396,204.9 391.5,203.6 388.5,201.8 386,199.5 383.7,196.5 381.8,193 380.5,189.5 379.4,185 379,180.5 379,176 379.7,171.5 380.7,167.5 382.3,163.5 384.2,160 386.5,157.1 389.3,154.5 392,152.7 395.3,151.5Z" fill="#ecdb40" fill-rule="evenodd"/><path d="M520.3,6.5 576.5,6.5 578.5,11 580.2,16 581.5,21.4 582.4,27 582.8,33 582.9,39.5 582.5,45.5 581.8,51 580.6,56.5 579.1,61.5 577.3,66 575.2,70 572.5,74 569.9,77 567,79.6 563.5,82 559,84.1 554,85.3 544,85.7 540.5,85.3 534,81.7 528.5,77.7 524,73 520.5,67.8 517.4,61.5 515.1,54 513.7,46 513.2,37.5 513.6,28.5 515,20.5 517.3,13 520.3,6.5ZM532.7,99.5 537.5,99.2 540,99.7 549.5,104.4 555.5,108.8 559.9,113.5 563.4,119 566,124.8 567.6,131 568.2,136 568.2,141.5 567.4,147 566,152 564.1,156.5 561.9,160.5 559.3,164 555,169 553.8,171 550.2,183 544.7,196.5 546.2,200 552.5,211.6 557.3,224 557.7,229.5 560.1,238 561.2,244.5 561.5,251.5 560.8,258.5 508.9,258.5 508.2,252.5 508.3,246.5 509.1,240.5 510.4,235 513,228.5 519.3,217 523,208.5 527.3,199.5 528.2,197 522.5,186.4 517.8,176 516,174.5 509.6,171.5 505.4,169 501.4,166 497.8,162.5 494.5,158.5 491.8,154 489.7,149 488.5,144.1 488.1,140 488.1,135.5 488.7,131.5 489.8,127.5 491.5,123.5 493.5,119.8 496,116.3 499,113 502.4,110 505.8,107.5 510,105.1 514,103.3 522.5,100.8 532.7,99.5ZM397.2,152 419,152.6 430,152.4 432.5,152.7 438.4,154 449,157.8 457.5,160.2 461.5,161 465,162.3 468,164 471,166.5 473.4,169.5 475.2,173 476.2,176.5 476.5,180.5 476,184.5 474.8,188 473,191.1 470.5,194 467.5,196.4 464,198.3 459,200.2 456.5,200.3 450,201.4 439,204.9 434.5,205.9 429.5,206.6 427.5,206.5 416,205.2 396,204 393.5,203.5 391.5,202.7 388.5,200.8 386,198.4 383.9,195.5 382,191.8 380.6,187.5 379.8,183.5 379.5,179 379.8,174.5 380.6,170 381.9,166 383.5,162.5 385.8,159 388.1,156.5 391,154.2 394,152.7 397.2,152Z" fill="#e4db44" fill-rule="evenodd"/><path d="M520.8,7 521.1,6.5 575.8,6.5 577.9,11 579.5,15.6 580.9,21 581.8,26.5 582.3,32.5 582.4,39 582.1,45 581.3,50.5 580.3,55.5 578.8,60.5 577,65.1 574.7,69.5 572.4,73 569.5,76.4 566.5,79.1 563,81.5 558,83.7 552.5,84.7 545.5,84.7 540,83.6 534,80.8 529,77.1 524.5,72.5 520.8,67 517.7,60.5 515.5,53.2 514.2,45.5 513.7,37 514.2,28.5 515.5,20.8 517.7,13.5 520.8,7ZM530.2,100.5 536.5,100.5 542,101.7 548.5,104.6 554,108.4 558.6,113 562.4,118.5 565.2,124.5 566.9,131 567.6,136.5 567.4,142.5 566.3,148.5 564.5,154 562.6,158 560.4,161.5 552.8,170.5 549.5,180.2 547.2,185.5 543.5,191.6 539.4,197 544,201.9 549,208.7 552.5,215.4 556,224 556.4,229 559.1,238 560.2,244.5 560.5,251.5 559.8,258.5 509.9,258.5 509.2,252 509.4,245.5 510.3,239.5 512,233.5 514,229 519.7,219 525.5,207.3 528.5,202.6 532.8,197 530,194.1 525.5,188.2 522.5,183.1 519.5,176.5 518.5,175.2 516.8,174 509.3,170.5 504.5,167.5 499.3,163 495.1,158 492,152.5 489.9,146.5 488.9,140.5 489.1,134 490.7,127.5 493.4,121.5 497.5,115.8 502.5,110.9 508.5,106.8 515.5,103.5 522.5,101.5 530.2,100.5ZM396.4,153 399,152.8 419,153.5 430,153.3 432.5,153.6 438.5,154.9 449.5,159.2 464,163.5 467,165.1 469.8,167.5 471.9,170 473.5,173 474.5,176.5 474.9,180 474.6,183.5 473.5,187 471.9,190 469.5,192.8 466.9,195 463.3,197 459,198.8 455,199.1 449.5,200.3 439,203.9 434.5,205.1 429.5,205.7 427.5,205.6 416,204.3 396,203.1 392,202 389,200.2 386.7,198 384.5,195.1 382.8,192 381.5,188.4 380.5,184 380.2,180 380.3,175.5 380.9,171.5 382,167.5 383.5,164 385.6,160.5 388,157.6 390.5,155.5 393.5,153.8 396.4,153Z" fill="#dcdc46" fill-rule="evenodd"/><path d="M521.9,6.5 575.1,6.5 577.3,11 579,15.9 580.3,21 581.3,26.5 581.8,32.5 581.9,39 581.5,45 580.8,50.5 579.6,56 578,61 576.2,65.5 574,69.5 571.6,73 568.9,76 566,78.6 562.5,80.9 557.5,83 552,84 545.5,83.9 539.5,82.5 534,79.8 529,76.2 524.6,71.5 521,66 518,59.4 515.8,52 514.6,44 514.3,35.5 515,27 516.4,19.5 518.8,12.5 521.9,6.5ZM527.3,101.5 535,101.2 541,102.3 547.5,104.9 553.5,108.9 558.5,114 562.5,120.1 565.3,127 566.7,134.5 566.9,140.5 566.2,146 564.7,151.5 562.3,157 558.5,162.8 551.5,170.5 547.2,181 544,186.4 542,188.8 540,190.5 538,191.6 536,192.2 534,192.1 532,191.3 528,188 525,184.1 520.6,176 519.4,174.5 517.7,173.5 511,170.5 507.4,168.5 503,165.3 499,161.5 495.4,157 492.7,152 490.9,147 489.8,141.5 489.9,134.5 491.6,127.5 494.7,121 499.3,115 504.9,110 511.5,106 519,103.1 527.3,101.5ZM396,154 398.5,153.7 418.5,154.4 430,154.2 432.5,154.5 439,156.1 450,160.7 463,164.9 466,166.5 468.5,168.6 470.5,171.1 472,174 472.8,177 473.1,180.5 472.7,183.5 471.8,186.5 470.1,189.5 468,191.9 465.3,194 462,195.8 459,197.1 456.5,197.3 450,198.8 439.5,202.8 434,204.2 428,204.7 416,203.4 396,202.2 392.5,201.2 390,199.8 387.5,197.7 385.3,195 383.5,191.7 382.1,188 381.2,184 380.8,180 380.9,176 381.5,172 382.5,168.2 384,164.6 385.8,161.5 388,158.7 390.5,156.5 393.1,155 396,154ZM534.4,202 536.5,201.8 539,202.4 541.5,203.8 544.5,206.4 547,209.4 549,212.4 553.5,221.2 554.7,224 555.2,229 557.9,237.5 559,243 559.5,251 558.8,258.5 510.9,258.5 510.2,252 510.4,245 511.6,238.5 513.5,232.7 515.8,228 527,208.5 530.5,204.4 532.5,202.9 534.4,202Z" fill="#d4db4a" fill-rule="evenodd"/><path d="M522.4,7 522.7,6.5 574.4,6.5 574.7,7 576.8,11.5 578.4,16 579.8,21 580.7,26.5 581.3,32.5 581.4,38.5 581,44.5 580.3,50 579.3,55 577.8,60 576,64.4 573.8,68.5 571.5,72 568.5,75.4 565.5,78.1 562,80.3 557,82.4 551.5,83.3 545,83 539,81.4 534,78.9 529,75.2 524.7,70.5 521.2,65 518.3,58.5 516.4,51.5 515.2,44 514.9,35.5 515.5,27.5 517,20 519.3,13 522.4,7ZM530.5,102 537,102.2 543.5,103.9 549.5,106.9 555,111.2 559.5,116.5 562.9,122.5 565.2,129.5 566.2,136.5 566,142.5 565,148 563.2,153.5 560.7,158.5 557,163.5 549.8,171 546,179.2 543,183.8 541,185.8 539,187.2 537,188 535,188.3 532,187.7 528.5,185.2 526,182.3 521.9,175.5 520.4,174 512,170.2 508,168 503.5,164.7 499.6,161 496,156.3 493.1,151 491.4,145.5 490.6,140 491,133 491.8,129.5 493.1,126 496.7,119.5 501.5,113.9 507.5,109.2 514.5,105.5 522.5,103 530.5,102ZM395.9,155 398.5,154.7 418,155.4 430.5,155.1 435.5,156.1 440.5,157.7 450,162.2 462,166.6 464.5,168 466.5,169.6 469.1,173 470.6,177 470.9,181.5 469.9,185.5 468.2,188.5 465.9,191 463.2,193 459,195.2 456.5,195.5 451,197 440,201.5 434,203.2 429.5,203.9 428,203.8 416,202.4 396.5,201.3 393,200.4 390.5,199.1 388,197 386,194.5 384.2,191.5 383,188.4 382,184.5 381.5,180.5 381.6,176.5 382,173 383,169 384.4,165.5 386.1,162.5 388,159.9 390.5,157.6 393,156 395.9,155ZM534,206 536.5,205.7 539,206.2 541.5,207.5 544,209.5 546.5,212.3 548.5,215.1 553,223.6 553.8,229 556.8,237.5 558.1,244 558.5,251.5 557.7,258.5 512,258.5 511.3,252 511.5,245.5 512.6,239 514.5,233.2 517,228.3 527,212 530.5,208 534,206Z" fill="#cada4c" fill-rule="evenodd"/><path d="M523.2,7 523.5,6.5 573.7,6.5 574.5,8 576.5,12.3 578.1,17 579.4,22 580.3,27.5 580.8,33.5 580.8,39.5 580.5,45 579.7,50.5 578.5,55.7 577,60.4 575,65 573,68.6 570.5,72.1 567.9,75 565,77.5 561.5,79.7 556.5,81.7 551,82.5 545,82.2 539,80.5 534,78 529,74.1 524.9,69.5 521.5,64.1 518.7,57.5 516.8,50.5 515.7,43 515.5,34.5 516.2,27 517.8,19.5 520,13 523.2,7ZM527.5,103 534.5,102.8 541,103.9 547,106.3 552.5,110 557.5,115 561.3,121 564,127.5 565.3,134.5 565.5,140.5 564.7,146.5 563,152.1 560.4,157.5 556,163.5 548.3,171 544.5,177.7 542,181.1 539,183.6 535.5,184.8 533,184.7 530.5,183.5 527.5,180.9 523.2,175 521.6,173.5 513.5,170 509.6,168 505.5,165.3 501.7,162 497.8,157.5 494.8,152.5 492.7,147 491.6,141.5 491.7,134.5 493.2,128 496.3,121.5 500.6,116 506,111.2 512.5,107.3 519.8,104.5 527.5,103ZM396.1,156 398.5,155.7 419,156.4 430.5,156.2 435,157 439.5,158.5 450.5,164.2 455.5,166.2 457.5,167.5 461,169 464.5,171.5 466.5,174.1 467.8,177.5 468.1,181 467.3,184.5 466,186.9 464.2,189 458.5,193.1 456.5,193.3 452,194.8 440.5,200.2 434,202.2 430,202.8 428,202.8 416,201.4 396.5,200.2 393.4,199.5 391,198.3 388.8,196.5 386.7,194 385,191.2 383.7,188 382.8,184.5 382.3,181 382.3,177 382.7,173.5 383.5,169.9 384.8,166.5 386.5,163.3 388.5,160.7 391,158.4 393.5,156.9 396.1,156ZM533.8,209.5 536,209.1 538.5,209.5 541,210.6 543,212 545.5,214.5 547.5,217.1 551.6,224 552.2,228.5 555.5,237.3 556.9,243.5 557.4,251 556.6,258.5 513.2,258.5 512.4,252.5 512.5,246 513.5,240 515.5,234 517.4,230 521.1,224 527,215.4 530.5,211.5 533.8,209.5Z" fill="#c2d850" fill-rule="evenodd"/><path d="M524.4,6.5 572.9,6.5 574.5,9.4 576.5,14 577.9,18.5 579.1,23.5 579.8,28.5 580.2,34 580.2,40 579.8,45.5 579,51 577.8,56 576.3,60.5 574.5,64.6 572.3,68.5 569.7,72 567,74.9 564,77.3 561,79.1 556,81 550.5,81.7 544.5,81.3 538.6,79.5 533.5,76.8 529,73.1 525,68.4 521.7,63 519.1,56.5 517.2,49.5 516.3,42 516.2,33.5 517,26 518.6,19 521,12.5 524.4,6.5ZM525.8,104 533.5,103.5 539.5,104.3 545.7,106.5 551.3,110 556.5,115 560.2,120.5 563,127 564.6,134 564.8,140.5 563.9,146.5 562.1,152.5 559.2,158 557,161.2 554.5,164 546.6,171 541,178.4 538,180.6 535,181.5 533,181.3 530.5,180.3 528.5,178.7 524.8,174.5 523,173 514.5,169.6 511,167.8 506.5,165 503,162.1 499,157.6 496,152.9 493.7,147.5 492.6,142 492.5,135.5 493.8,129 496.5,123 500.5,117.3 505.6,112.5 511.8,108.5 518.5,105.7 525.8,104ZM396.7,157 418.5,157.5 430.5,157.2 435,158.1 439,159.5 443.1,161.5 451,166.6 455.5,169.1 460.3,173.5 462.1,176 463,178.5 463.1,181.5 462.5,184 460.7,187 458,189.9 456.5,190.1 452.5,192.1 440.5,198.9 434,201.1 430,201.7 428,201.7 416,200.2 396.5,199.1 393.5,198.4 391,197 389,195.3 387.1,193 385.5,190.2 384.4,187.5 383.5,184 383,180 383.1,176.5 383.6,173 384.5,169.5 386,166 387.5,163.4 389.5,161 391.9,159 394.5,157.6 396.7,157ZM535.6,212.5 537.5,212.6 539.5,213.2 543,215.4 546.5,219.1 549.8,224 550.7,228.5 554.2,237 555.7,243.5 556.2,251 555.4,258.5 514.4,258.5 513.5,252 513.7,245.5 515,239 517,233.6 522.8,224 528,217.3 530,215.2 532,213.7 534,212.8 535.6,212.5Z" fill="#b8d752" fill-rule="evenodd"/><path d="M524.9,7 525.3,6.5 572.1,6.5 574,10 576,14.5 577.5,19 578.6,24 579.3,29 579.7,40 579.3,45.5 578.5,50.5 576,59.5 574,64 572,67.6 569.5,71.1 566.8,74 563.8,76.5 560.5,78.5 555.5,80.3 550,80.9 544,80.3 538.5,78.6 533.5,75.8 529,72 525.3,67.5 522,62 519.4,55.5 517.7,48.5 516.8,41 516.8,33 517.6,26 519.3,19 521.8,12.5 524.9,7ZM528.4,104.5 535,104.4 541,105.5 547,108.1 552.5,112 557,116.9 560.4,122.5 562.9,129 564,135.5 563.9,142 562.8,148 560.6,154 557.7,159 553,164.4 544.6,171 540,175.6 537.5,177.3 534.5,178.1 533,178 531,177.3 526.1,173.5 524,172.2 516.5,169.5 512,167.4 508,165 504.2,162 500,157.5 496.8,152.5 494.5,147 493.4,141 493.5,134.5 495.1,128 498.1,122 502.4,116.5 507.7,112 514,108.4 521,105.8 528.4,104.5ZM395.5,158.5 398.5,158.1 418,158.7 430,158.3 435,159.3 439,160.8 443.1,163 447.1,166 451.9,170.5 454.3,173.5 455.2,175.5 455.7,178 455.6,182 454.8,185 453.6,187 451.8,189 444.7,195 439,198.3 433,200.1 429.5,200.6 428,200.6 416,199 396.5,197.9 393.5,197.1 391.5,196 389.5,194.3 387.6,192 386.2,189.5 385,186.5 384.3,183.5 383.9,177 385,170.8 386,168 387.5,165.1 389,163 391,161 393.2,159.5 395.5,158.5ZM534.2,216 537.5,215.9 541,217.2 544.5,220 547.8,224 548.9,228.5 553,237.5 554.4,243 554.9,247 555,251 554.1,258.5 515.7,258.5 514.8,252.5 514.9,246.5 515.8,241 517.6,235.5 520,230.9 525.5,223.1 530.5,218 532.5,216.7 534.2,216Z" fill="#b0d456" fill-rule="evenodd"/><path d="M525.9,7 526.2,6.5 571.2,6.5 573.8,11 575.5,15 577,19.7 578.1,24.5 578.8,29.5 579.1,35 579.1,40.5 578.6,46 577.8,51 576.5,56 575,60.3 573,64.5 571,67.9 568.6,71 566,73.7 563,76.1 560,77.8 555,79.5 550,80.1 544,79.4 538.5,77.7 533.8,75 529.5,71.3 525.5,66.5 522.5,61.3 520,55 518.3,48 517.4,40.5 517.5,32.5 518.5,25 520.2,18.5 522.6,12.5 525.9,7ZM526.8,105.5 533.5,105.1 539.5,106 545.5,108.2 550.7,111.5 555.3,116 559.1,121.5 561.8,128 563.1,134.5 563.2,141 562.3,147 560.2,153 557,158.6 553.3,163 549,166.6 538.5,173.5 536.5,174.4 534.5,174.8 531.5,174.4 526,171.8 515.5,168.2 510.5,165.6 506,162.4 501.6,158 498.1,153 495.7,147.5 494.4,141.5 494.4,135 495.8,129 498.5,123.1 502.3,118 507.1,113.5 513,109.8 519.5,107.1 526.8,105.5ZM396.9,159.5 418,160.1 430.5,159.6 435.5,160.8 439.5,162.5 443,164.7 446.2,167.5 448.6,170.5 450.2,173.5 451.1,177 451.2,180.5 450.7,184 449.6,187 446.3,191.5 441.5,195.4 436,198 430,199.4 426.5,199.2 415.5,197.7 396.5,196.6 393,195.5 391,194.1 389.4,192.5 387.9,190.5 386.5,187.7 385,181.8 385,175.5 386.5,169.5 389,164.8 390.5,163 392.5,161.3 394.5,160.2 396.9,159.5ZM534.9,219 537.5,219.1 540,219.9 542.5,221.4 545,223.7 546.6,228 550.7,235.5 552.5,240.5 553.6,246.5 553.7,252.5 552.7,258.5 517,258.5 516.2,253 516.2,247 517.2,241 519,235.8 521.4,231.5 527,224 531,220.6 533,219.5 534.9,219Z" fill="#a7d15b" fill-rule="evenodd"/><path d="M526.8,7 527.2,6.5 570.4,6.5 573.5,12 575.2,16 576.6,20.5 577.6,25.5 578.3,30.5 578.5,41 577.2,51 574.5,59.7 572.5,64 570.5,67.3 568,70.5 565.5,73.1 562.5,75.4 559.5,77.1 554.5,78.7 549.5,79.2 544,78.6 538.5,76.7 533.9,74 529.5,70.2 525.8,65.5 522.7,60 520.4,54 518.8,47 518.1,39.5 518.2,32 519.2,25 521,18.2 523.5,12.4 526.8,7ZM530.7,106 536.5,106.2 542.5,107.8 547.9,110.5 552.5,114.2 556.5,118.9 559.5,124.1 561.5,130 562.5,136.5 562.3,142.5 561,148.7 558.6,154.5 555.3,159.5 551.5,163.6 546.5,167.2 539.5,170.8 536.5,171.9 534,172.3 530,171.7 517.5,168.1 511.5,165.2 506.5,161.7 501.9,157 498.5,151.8 496.2,146 495.2,140 495.6,133.5 497.3,127.5 500.5,121.7 505,116.5 510.5,112.2 516.8,109 523.5,106.9 530.7,106ZM396.9,161 417.5,161.5 430,161 434.5,162 438.5,163.6 441.5,165.5 444.2,168 446.2,170.5 447.6,173.5 448.5,177 448.6,181 448,184.5 446.8,187.5 443.8,191.5 440,194.5 435.5,196.7 430,198 426.5,197.8 415.5,196.2 396.5,195.1 393.5,194.1 391.5,192.8 390,191.2 387.5,187 386,181.5 386,176 387.3,170.5 389.6,166 391.3,164 393,162.6 395,161.6 396.9,161ZM534.6,222 536.5,221.9 538.5,222.3 542,224 543.7,227.5 547.5,232.9 549.5,236.5 551.3,241.5 552.2,247 552.2,253 551.3,258.5 518.5,258.5 517.6,253 517.5,247.5 518.4,242 520,237.3 523.1,232 530.1,224 532.5,222.6 534.6,222Z" fill="#9fcd5f" fill-rule="evenodd"/><path d="M527.9,7 528.3,6.5 569.4,6.5 571.5,9.7 573.4,13.5 575,17.6 576.3,22 577.8,31.5 577.8,41.5 576.5,51 573.8,59.5 572,63.4 570,66.7 567.5,69.9 565,72.4 562,74.7 559,76.4 554,77.9 549,78.3 543.5,77.5 538.5,75.7 534,73 529.5,69 526,64.4 523.1,59 520.9,53 519.3,46 518.7,38.5 519,31 520.1,24 522,17.6 524.6,12 527.9,7ZM528.7,107 535,106.9 540.5,108 546,110.4 551,113.9 555,118.2 558.3,123.5 560.5,129.2 561.6,135.5 561.6,141.5 560.5,147.6 558.2,153.5 555,158.6 550.9,163 546,166.5 539.5,169.5 534.5,170.6 529.5,170.3 519.9,168 513.9,165.5 508.4,162 503.6,157.5 500,152.5 497.5,147 496.3,141 496.4,135 497.8,129 500.5,123.4 504.5,118.3 509.5,114 515.5,110.5 522,108.2 528.7,107ZM395.9,163 398.5,162.6 417.5,163.3 430,162.5 433.5,163.4 436.5,164.5 439.5,166.2 442,168.4 444,170.9 445.4,173.5 446.2,176.5 446.4,180 446,183.5 444.9,186.5 442.6,190 439.2,193 435.2,195 430,196.4 426,196.2 415,194.4 397,193.4 394,192.5 391,190.1 388.7,186.5 387.4,182 387.2,177 388,172.3 390,167.9 392.5,165 395.9,163ZM534.2,226 535.5,225.8 537,226 540.5,228.2 545,232.6 548.1,237.5 549.9,242.5 550.7,247.5 550.7,253 549.6,258.5 520.2,258.5 519.2,253.5 519,248.5 519.7,243.5 521.3,238.5 523.4,234.5 526,231.4 530,228.2 534.2,226Z" fill="#96ca64" fill-rule="evenodd"/><path d="M528.9,7 529.4,6.5 568.5,6.5 571,10.3 573.1,14.5 574.6,18.5 575.8,23 577.2,32 577.2,42 575.7,51.5 573,59.7 571.1,63.5 569,66.8 566.5,69.8 564,72.2 561.5,74 558.5,75.6 554,77 549,77.4 543.5,76.6 538.5,74.7 534,71.9 529.8,68 526.4,63.5 523.5,58 521.4,52 519.9,45 519.4,38 519.7,30.5 521,23.5 522.9,17.5 525.5,12 528.9,7ZM527.7,108 533.5,107.7 539,108.5 544.4,110.5 549.2,113.5 553.5,117.7 556.8,122.5 559.3,128 560.6,134 560.9,140 560,146.2 558,152 555,157.2 551,161.7 546.5,165.2 541,167.8 535.5,169.2 529.5,169.1 522,167.7 515.5,165.3 510,162 505.3,158 501.4,153 498.8,147.5 497.4,142 497.3,136 498.5,130.1 501,124.5 504.5,119.7 509,115.5 514.5,112 521,109.4 527.7,108ZM426.1,164.5 430.5,164.4 436,166.5 440.1,169.5 441.7,171.5 443,173.8 443.8,176.5 444.1,179 444,181.5 443.4,184 442.3,186.5 441,188.5 437.5,191.6 435,193 432.2,194 430,194.6 428,194.5 415,192.3 396.5,191.1 393.5,189.8 391,187.1 389.9,185 389,182 388.6,179 388.9,175.5 389.6,172.5 391,169.5 392.5,167.5 394.3,166 396,165.2 398,164.8 416,165.4 426.1,164.5ZM532.7,230 534.5,229.7 536.5,229.8 540,231.1 543.5,234 546.3,238 548.1,242.5 549.1,248 548.9,253.5 547.8,258.5 522,258.5 521,254 520.7,249.5 521.1,245 522.4,240.5 524.1,237 526.5,233.9 529.5,231.4 532.7,230Z" fill="#8ec668" fill-rule="evenodd"/><path d="M530.1,7 530.5,6.5 567.4,6.5 570.5,11 573,16.2 575.5,24.5 576.6,33.5 576.4,43 574.9,52 572,60.1 570,63.8 568,66.8 565.5,69.6 563,71.8 560.5,73.5 557.5,75 553,76.2 548,76.4 543,75.5 538,73.4 533.5,70.4 529.6,66.5 526.4,62 523.7,56.5 521.6,50 520.5,43.5 520.1,36.5 520.6,29.5 521.9,23 523.9,17 526.7,11.5 530.1,7ZM527.1,109 533.5,108.6 538.5,109.3 543.5,111.1 548.4,114 552.5,117.8 555.9,122.5 558.4,128 559.7,133.5 560.1,139.5 559.3,145.5 557.5,151 554.8,156 551,160.5 546.7,164 541.5,166.6 536.5,168 530.5,168.2 523.5,167.1 517.1,165 511.5,161.9 506.7,158 503,153.5 500.1,148 498.6,142.5 498.3,136.5 499.3,131 501.6,125.5 505,120.6 509.3,116.5 514.6,113 520.5,110.5 527.1,109ZM425,167 430,166.7 434,168.3 436,169.5 438,171.3 439.3,173 440.3,175 440.9,177 441.2,179.5 440.9,182 440.3,184 439.3,186 438,187.7 436,189.4 434,190.7 430.5,192.1 429,192.3 425,191.7 414.5,189.2 397,188.2 395.5,187.7 394,186.7 392,184 391.3,182 390.8,179.5 391.2,175 392.9,171 394,169.7 395.6,168.5 398,167.8 416,168.3 425,167ZM532.5,233 536,232.7 539.5,233.9 542.5,236.3 545,240 546.5,244 547.2,249 546.9,254 545.7,258.5 524.2,258.5 523.1,255 522.6,251 522.8,247 523.6,243 525.1,239.5 527.2,236.5 529.5,234.5 532.5,233Z" fill="#85c46c" fill-rule="evenodd"/><path d="M531.3,7 531.8,6.5 566.3,6.5 569.9,11.5 572.7,17.5 575,25.7 576,34.5 575.7,44 574,52.5 571.2,60 567.5,66 565,68.9 562.5,71.1 560,72.8 557,74.2 552.5,75.3 547.5,75.3 542.5,74.3 537.5,72 533.3,69 529.6,65 526.5,60.4 524,55 522.2,49 521.1,42.5 520.9,35.5 521.5,28.5 523,22 525,16.6 527.8,11.5 531.3,7ZM526.7,110 533,109.6 538,110.1 543,111.8 547.5,114.5 551.5,118.1 554.8,122.5 557.3,127.5 558.8,133 559.2,139 558.6,144.5 557,150 554.5,154.8 551,159.3 547,162.7 542,165.4 537,166.9 531,167.2 524.5,166.4 518.4,164.5 512.7,161.5 508,157.8 504.2,153.5 501.4,148.5 499.7,143 499.3,137.5 500.1,132 502.3,126.5 505.5,121.6 509.7,117.5 514.8,114 520.5,111.5 526.7,110ZM425.7,170.5 429.5,170.1 430.8,170.5 434.2,173.5 435.1,175 435.9,177 436.1,180.5 435.1,184 433.1,186.5 430,188.8 426,188.4 421.1,186.5 416.7,183.5 415.3,182 414.6,180.5 414.6,177.5 415.3,176 416.2,175 418.3,173.5 421,172 425.7,170.5ZM533.5,236 536.5,236 539,237 541.5,239.2 543.5,242.5 544.7,246.5 545,250.5 544.5,254.5 543,258.5 526.9,258.5 526.2,257 525.3,254 524.9,250.5 525.1,247 526,243.5 527.5,240.5 529.1,238.5 531,237 533.5,236Z" fill="#7dc070" fill-rule="evenodd"/><path d="M532.6,7 533.1,6.5 565.1,6.5 569.2,12 572.5,19 574.5,27 575.3,35.5 575,44 573.3,52.5 570.5,59.6 568.6,63 566.5,65.9 564.1,68.5 561.7,70.5 559,72.2 556.5,73.3 552,74.3 547,74.3 542,73.1 537.7,71 533.5,67.9 530,64.1 527,59.5 524.5,54 522.8,48 521.8,41.5 521.7,34.5 522.4,28 523.8,22 526,16.4 529,11.3 532.6,7ZM526.7,111 532.5,110.5 537.3,111 542,112.4 546.6,115 550.6,118.5 554,122.9 556.5,128 557.8,133 558.3,138.5 557.8,144 556.4,149 553.9,154 550.5,158.4 546.5,161.9 542,164.4 537,165.9 531.5,166.3 525,165.5 519,163.7 513.8,161 509,157.3 505.2,153 502.5,148.2 500.9,143 500.4,137.5 501.2,132.5 503,127.5 506.2,122.5 510.1,118.5 515.1,115 520.7,112.5 526.7,111ZM535,240 536.5,240.2 538,240.9 539.5,242.3 540.5,243.7 541.5,246 541.9,248 541.9,252.5 540.7,256 538.7,258.5 531.2,258.5 529.6,256.5 528.4,254 527.9,251 528.1,247.5 529,244.5 530.5,242.2 532.5,240.6 535,240Z" fill="#74be74" fill-rule="evenodd"/><path d="M534,7 534.6,6.5 563.8,6.5 566.5,9.5 568.5,12.5 570.5,16.3 572,20.1 573.9,28 574.6,36 574.2,44.5 572.5,52.5 569.6,59.5 566,65.1 561.4,69.5 559,71.1 556,72.4 551.5,73.3 546.5,73.1 542,71.9 537.5,69.7 533.5,66.5 530,62.5 527,57.6 524.9,52.5 523.3,46.5 522.5,40 522.5,33.5 523.4,27 525,21 527.5,15.5 530.5,10.8 534,7ZM526.8,112 532.5,111.5 537,112 541.5,113.3 546,115.8 549.8,119 553,123.1 555.5,128 556.9,133 557.4,138 557,143.5 555.5,148.7 553.1,153.5 550,157.6 546,161 541.5,163.5 537,164.9 531.5,165.3 525.5,164.6 520,163 514.5,160.2 510,156.8 506.2,152.5 503.6,148 502,143 501.6,137.5 502.3,132.5 504.3,127.5 507.2,123 511,119.1 515.5,116 521,113.5 526.8,112Z" fill="#6cba78" fill-rule="evenodd"/><path d="M535.6,7 536.2,6.5 562.3,6.5 565.5,9.8 568,13.3 570.1,17.5 571.8,22 573.4,29.5 573.9,37.5 573.3,45.5 571.5,53 568.5,59.8 564.9,65 560.4,69 557.8,70.5 555,71.6 550.5,72.3 546,71.9 541.5,70.6 537,68.1 533.4,65 530,60.9 527.2,56 525.2,50.5 523.8,44.5 523.3,38.5 523.5,32 524.5,26 526.4,20 528.8,15 532,10.5 535.6,7ZM527.2,113 532.5,112.6 537,113 541.5,114.4 545.5,116.7 549.3,120 552.4,124 554.6,128.5 556,133.5 556.4,138.5 556,143.5 554.5,148.5 552.3,153 549.1,157 545.5,160.1 541.2,162.5 536.5,163.9 531.5,164.2 525.5,163.5 520,161.8 515,159.2 510.8,156 507.3,152 504.7,147.5 503.2,142.5 502.8,137.5 503.6,132.5 505.5,127.7 508.3,123.5 512,119.7 516.5,116.7 521.5,114.4 527.2,113Z" fill="#66b87e" fill-rule="evenodd"/><path d="M537.3,7 538.1,6.5 560.7,6.5 564,9.5 567,13.5 569.5,18.2 571.5,24 572.8,31.5 573.1,39 572.3,46.5 570.4,53.5 567.6,59.5 564,64.5 559.5,68.3 557,69.6 554.5,70.5 550,71.1 545.5,70.7 541,69.1 537,66.8 533.4,63.5 530,59.1 527.5,54.3 525.7,49 524.5,43 524.1,36.5 524.6,30.5 525.8,24.5 527.8,19 530.5,14.2 533.5,10.4 537.3,7ZM527.9,114 533,113.7 537.5,114.2 541.5,115.6 545.5,118 549,121.2 551.8,125 553.9,129.5 555.1,134 555.4,139 554.8,144 553.4,148.5 551,153 548,156.7 544.5,159.5 540.5,161.6 536,162.9 530.5,163.1 525,162.2 519.8,160.5 515.2,158 511.4,155 508,151 505.6,146.5 504.4,142 504.1,137 504.9,132.5 506.7,128 509.5,123.9 513,120.4 517.5,117.4 522.5,115.3 527.9,114Z" fill="#5eb482" fill-rule="evenodd"/><path d="M539.4,7 540.3,6.5 558.6,6.5 563,10 566.5,14.5 569.3,20 571.1,26 572.2,33.5 572.2,41 571.1,48 569.1,54.5 566.2,60 562.5,64.5 558,67.9 553.5,69.6 549,69.9 544.5,69.2 540.5,67.6 536.5,64.9 533,61.4 530,57.1 527.6,52 526,46.5 525.2,40.5 525.1,34.5 525.8,28.5 527.3,23 529.5,17.8 532.3,13.5 535.5,9.9 539.4,7ZM529,115 533.5,114.8 537.9,115.5 542,117.1 545.5,119.4 548.7,122.5 551.4,126.5 553.1,130.5 554.2,135 554.3,140 553.6,144.5 552.1,149 549.7,153 546.6,156.5 543.2,159 539,161 535,161.9 530,161.9 524.7,161 520,159.3 515.5,156.8 511.7,153.5 508.6,149.5 506.6,145.5 505.5,141 505.5,136.5 506.4,132 508.2,128 511,124 514.9,120.5 519,118 524,116 529,115Z" fill="#58b288" fill-rule="evenodd"/><path d="M542.1,7 543.3,6.5 556,6.5 560,8.8 563.8,12.5 567,17.4 569.3,23 570.8,29 571.4,35.5 571.2,42.5 569.9,49 567.8,55 564.9,60 561,64.4 557,67 552.5,68.5 548.5,68.6 544,67.7 540,65.9 536,62.9 532.5,59 530,54.8 528,50 526.5,44 526,38 526.3,32 527.3,26.5 529,21.3 531.5,16.5 534.5,12.6 538,9.4 542.1,7ZM532,116 536,116.3 540,117.5 543.7,119.5 547,122.3 549.5,125.5 551.6,129.5 552.8,133.5 553.3,138 552.9,142.5 551.9,146.5 550,150.5 547.5,153.9 544.5,156.7 541,158.9 537,160.3 533,160.8 528,160.4 523,159.2 518.5,157.2 514.6,154.5 511.5,151.3 509,147.5 507.4,143.5 506.8,139 507.1,134.5 508.4,130.5 510.7,126.5 513.8,123 517.5,120.2 522,118 527,116.5 532,116Z" fill="#52ae8a" fill-rule="evenodd"/><path d="M546.5,7 551,6.7 555,7.5 559,9.6 562.5,12.7 565.5,16.8 568,22 569.6,27.5 570.4,33.5 570.5,40 569.7,46 568,51.9 565.6,57 562.5,61.3 559,64.4 555,66.5 551,67.3 546.5,67 542.5,65.8 538.5,63.4 534.8,60 531.9,56 529.5,51 528,46 527.1,40 527.1,34 528,28 529.5,23 531.9,18 535,13.8 538.5,10.6 542.5,8.2 546.5,7ZM528.9,117.5 533.5,117.3 537,117.8 540.5,119.1 543.7,121 546.5,123.6 549,127 550.9,131 551.9,135 552.1,139.5 551.5,143.5 550.2,147.5 548.3,151 545.8,154 542.7,156.5 539,158.4 535.5,159.3 531.1,159.5 526.5,158.9 522,157.4 518,155.3 514.4,152.5 511.5,149 509.6,145.5 508.5,141.5 508.2,137.5 509,133 510.5,129.4 513,125.8 516,122.9 520,120.3 524.4,118.5 528.9,117.5Z" fill="#4dac8c" fill-rule="evenodd"/><path d="M546.2,8.5 550.5,8.1 554.5,8.8 558,10.5 561.6,13.5 564.6,17.5 567,22.4 568.5,27.5 569.5,33.5 569.5,39.5 568.8,45.5 567.2,51 565,55.8 562,60 558.7,63 555,65 551,65.9 547,65.7 543,64.5 539,62.1 535.6,59 532.7,55 530.5,50.5 529,45.5 528.2,40.5 528.1,35 528.8,29.5 530.2,24.5 532.4,19.5 535.2,15.5 538.5,12.2 542,10 546.2,8.5ZM528,119 532,118.6 535.5,118.9 539,119.9 542.1,121.5 545,123.9 547.5,126.9 549.4,130.5 550.4,134 550.9,138 550.6,142 549.7,145.5 548,149.1 545.9,152 543,154.7 539.5,156.7 536,157.9 532,158.2 527.5,157.7 523.3,156.5 519.5,154.6 516,152 513.3,149 511.3,145.5 510.1,142 509.8,138 510.2,134.5 511.4,131 513.5,127.5 516.3,124.5 519.8,122 524,120.1 528,119Z" fill="#49a88c" fill-rule="evenodd"/><path d="M546.4,10 550.5,9.6 554,10.2 557.7,12 561,14.8 563.8,18.5 566,22.9 567.6,28 568.4,33.5 568.5,39 567.9,44.5 566.5,49.7 564.4,54.5 561.6,58.5 558.5,61.4 555,63.4 551,64.4 547,64.1 543.3,63 539.8,61 536.5,58 533.9,54.5 531.6,50 530.1,45 529.3,40 529.3,34.5 530,29.5 531.4,24.5 533.3,20.5 536,16.6 539,13.6 542.5,11.4 546.4,10ZM527.9,120.5 531.5,120.1 535,120.2 538,121 541.1,122.5 544,124.8 546.2,127.5 547.9,130.5 549,134 549.5,137.5 549.4,141 548.5,144.7 547,148.1 544.9,151 542.2,153.5 539,155.4 536,156.4 532.5,156.8 528,156.3 524,155.2 520.6,153.5 517.5,151.3 514.9,148.5 513.1,145.5 511.8,142 511.4,138.5 511.8,135 513,131.5 514.8,128.5 517.5,125.5 520.5,123.3 524,121.6 527.9,120.5Z" fill="#44a68e" fill-rule="evenodd"/><path d="M547.2,11.5 551,11.3 554.3,12 557.5,13.7 560.5,16.3 563,19.7 565.1,24 566.5,28.5 567.3,34 567.4,39.5 566.7,44.5 565.5,49 563.5,53.5 561,57.1 558,60 554.5,61.9 551,62.7 547,62.5 543.5,61.3 540,59.2 537.1,56.5 534.6,53 532.7,49 531.3,44.5 530.6,39.5 530.6,34.5 531.3,29.5 532.7,25 534.6,21 537,17.7 540,14.8 543.5,12.7 547.2,11.5ZM528.5,122 532,121.6 535,121.8 538,122.7 540.5,124 543,126 545.1,128.5 546.7,131.5 547.7,134.5 548.1,137.5 547.9,141 547,144.5 545.6,147.5 543.5,150.3 541,152.5 538.5,153.9 535.5,154.9 532.5,155.2 528.5,154.8 525,153.8 521.5,152.2 518.6,150 516.3,147.5 514.6,144.5 513.6,141.5 513.2,138 513.6,135 514.7,132 516.5,129.1 518.9,126.5 521.7,124.5 525,123 528.5,122Z" fill="#41a28e" fill-rule="evenodd"/><path d="M546.4,13.5 550,13 553.5,13.6 556.5,15 559.5,17.5 562,20.8 563.9,24.5 565.3,29 566.1,33.5 566.2,38.5 565.6,43.5 564.5,48 562.5,52.4 560,56 557.5,58.3 554.5,60 551,60.9 547.5,60.7 544.5,59.9 541.2,58 538.4,55.5 536,52.4 534,48.5 532.7,44.5 532,40 531.9,35.5 532.4,31 533.5,26.9 535.2,23 537.5,19.5 540,16.9 543,14.8 546.4,13.5ZM530.1,123.5 533,123.3 535.5,123.7 538,124.5 540.5,126 542.7,128 544.4,130.5 545.6,133 546.3,136 546.5,139 546.1,142 545.1,145 543.7,147.5 542,149.5 539.5,151.5 537,152.7 534.5,153.3 531.5,153.4 528,152.9 525,151.9 522,150.3 519.5,148.3 517.6,146 516.3,143.5 515.4,140.5 515.3,137.5 515.8,134.5 516.9,132 518.6,129.5 521,127.2 523.6,125.5 527,124.1 530.1,123.5Z" fill="#3e9f8e" fill-rule="evenodd"/><path d="M546.6,15.5 550,15 553,15.5 556,16.9 558.5,18.9 560.6,21.5 562.5,25 563.9,29 564.7,33.5 564.9,38 564.4,42.5 563.3,47 561.5,51 559.5,54 556.9,56.5 554,58.2 551,58.9 548,58.8 545,58 542,56.3 539.5,54.1 537.4,51.5 535.5,47.9 534.2,44 533.5,40 533.4,35.5 533.9,31.5 535,27.5 536.5,24.1 538.5,21.1 541,18.5 543.5,16.8 546.6,15.5ZM529.9,125.5 532.5,125.3 535,125.6 537.5,126.4 539.3,127.5 541,129 542.6,131 543.8,133.5 544.5,136 544.7,138.5 544.5,141 543.7,143.5 542.5,146 540.8,148 539,149.5 537,150.6 534.5,151.3 531.5,151.5 528.5,151 526,150.2 523.5,148.9 521.2,147 519.5,145 518.4,143 517.7,140.5 517.5,138 517.9,135.5 518.8,133 520.1,131 522.1,129 524.5,127.3 527,126.2 529.9,125.5Z" fill="#3c9b8e" fill-rule="evenodd"/><path d="M548,17.5 551,17.4 553.5,18 556,19.4 558.2,21.5 560,24 561.7,27.5 562.7,31 563.3,35 563.3,39 562.7,43 561.5,47 560,50 558,52.8 555.5,55 553,56.2 550.5,56.7 547.5,56.4 545,55.6 542.4,54 540,51.6 538,48.7 536.5,45.5 535.6,42 535.1,38.5 535.2,34.5 535.8,31 536.9,27.5 538.4,24.5 540.3,22 542.5,20 545,18.4 548,17.5ZM529.2,128 533.5,127.6 535.5,128.1 537.5,129 539,130.1 540.5,131.8 542.2,135.5 542.5,137.5 542.5,140 541.1,144 538.5,147.1 537,148.1 535,148.9 533,149.2 530.5,149 528.2,148.5 526,147.6 524,146.2 522.5,144.7 521.3,143 520.5,141 520.2,139 520.2,137 520.8,135 521.8,133 523,131.5 525,129.8 527,128.8 529.2,128Z" fill="#39988e" fill-rule="evenodd"/><path d="M547,20.5 549.5,20 551.5,20.2 554,21.1 556,22.5 558,24.8 559.5,27.4 560.6,30.5 561.3,34 561.5,37.5 561.2,41 560.3,44.5 559,47.5 557.5,49.9 555.5,51.9 553.5,53.2 551,53.9 548.5,53.9 546,53.1 544,52 542,50.3 540.2,48 538.9,45.5 537.8,42.5 537.3,39.5 537.1,36.5 537.5,33 538.3,30 539.3,27.5 540.9,25 542.7,23 544.7,21.5 547,20.5ZM529.6,131 533,130.6 535.5,131.2 537.9,133 539.3,135.5 539.8,138.5 539.3,141.5 537.5,144.2 535,145.8 532,146.2 528.5,145.4 525.7,143.5 524,140.9 523.6,138 524.4,135 526.5,132.6 529.6,131Z" fill="#36928d" fill-rule="evenodd"/><path d="M547.3,24 549,23.6 551,23.6 553,24.3 554.8,25.5 556.1,27 557.5,29.3 558.5,32 559,34.5 558.9,40 558.3,42.5 557.4,45 556,47.2 554.5,48.7 553,49.7 551,50.4 549.5,50.5 547.5,50.1 545.5,49.1 544,47.9 541.5,44.5 540.5,42 539.9,39.5 539.9,34.5 541.3,30 542.5,27.8 544,26.1 547.3,24ZM531.5,136 533.5,136 534.8,137.5 534.7,139.5 533.5,140.8 531.5,140.8 529.9,139.5 529.6,138.5 529.8,137.5 530.5,136.6 531.5,136Z" fill="#348c8c" fill-rule="evenodd"/><path d="M548.1,29.5 550.5,29.1 552.5,30 554.2,32 555.2,35 555.3,38.5 554.4,41.5 552.5,44 550.5,44.9 548.5,44.7 546.5,43.4 545,41.4 544.1,38.5 544.1,35.5 544.8,33 546.1,31 548.1,29.5Z" fill="#30848a" fill-rule="evenodd"/></g><path d="M507.2,6.5 504.8,15.5 503.5,25 503,36.5 503.4,48.5 504.5,56.5 506.2,64 509.4,73 514.6,82.5 514.7,84 514.2,87 513.6,88.5 513,89.1 502.5,93.4 498,95.9 494,98.6 487.5,104.1 482,110.5 477.4,118 474.3,126 472.9,133.5 472.5,143.6 471.5,143.9 463,141.9 448,140.2 437,138.2 431,137.6 418.5,137.6 398.5,137 395.5,137.3 392.5,138 388,140 383.7,143 380,146.7 376.5,151.5 373.6,157 371.3,163 369.8,169.5 369.1,176 369.1,183.5 370.2,191 372.2,198 375,204.1 378.7,209.5 383,213.8 388,216.9 393,218.6 429,221.5 435.5,221 447.5,219.4 461,218.8 468,217 473,215.2 481.5,210.7 485.5,208 486.5,207.8 491.5,207.9 495,207 497.5,205.7 501.5,203 502,203.5 502.2,205.5 501.6,211 496,224.7 494.3,230.5 493.1,236.5 492,247.5 492.4,258.5M590.5,16.3 588.2,6.5M577.1,258.5 577.5,248 577.1,241.5 575.9,232 576.3,224 574.8,206.5 574.5,194.5 573,182.5 572.1,170 572.6,167.5 577.1,158 579.2,151 580.5,142.5 580.4,134 579,125 576.1,116.5 571.9,108.5 565.7,100.5 565.1,98.5 565.5,97 566.4,96 572,92.5 576,89 579.1,85.5 582,81.4 585,76 587.2,70.5 589.1,64.5 590.5,57.7" fill="none" stroke="#a33c26" stroke-width="1"/><path d="M547.5,11.4 543.9,12.5 540.4,14.5 537.1,17.5 534.6,21 532.7,25 531.3,29.5 530.6,34.5 530.6,39.5 531.3,44.5 532.7,49 534.6,53 537.1,56.5 540,59.2 543.5,61.3 547,62.5 551,62.7 554.5,61.9 558,60 560.7,57.5 563.2,54 565.1,50 566.6,45 567.3,40 567.4,34.5 566.7,29.5 565.5,25 563.5,20.5 561,16.9 558,14 554.5,12.1 551,11.3 547.5,11.4M528.5,122 525,123 521.7,124.5 518.9,126.5 516.5,129.1 514.7,132 513.6,135 513.2,138 513.6,141.5 514.6,144.5 516.3,147.5 518.6,150 521.5,152.2 525,153.8 528.5,154.8 532.5,155.2 535.5,154.9 538.5,153.9 541,152.5 543.5,150.3 545.6,147.5 547,144.5 547.9,141 548.1,137.5 547.7,134.5 546.7,131.5 545.1,128.5 543,126 540.5,124 538,122.7 535,121.8 532,121.6 528.5,122M525.3,6.5 522.3,11.5 519.9,17 518.2,23 517.1,29.5 516.7,36.5 517,43.5 518,50 519.6,56 521.8,61.5 524.5,66.3 527.6,70.5 531.5,74.3 535.5,77.1 540,79.2 545,80.5 550,80.9 554.5,80.5 558.5,79.3 562.5,77.3 566.5,74.3 570,70.5 572.7,66.5 575.2,61.5 577.2,56 578.6,50 579.5,43.5 579.7,36.5 579.4,29.5 578.4,23 576.9,17 574.8,11.5 572.1,6.5M528.5,104.5 521,105.8 514,108.4 507.7,112 502.4,116.5 498.1,122 495.1,128 493.5,134.5 493.4,141 494.5,147 496.8,152.5 500,157.5 504.2,162 508,165 512,167.4 516.5,169.5 524,172.2 526.1,173.5 531,177.3 533,178 534.5,178.1 537.5,177.3 540,175.6 544.6,171 553,164.4 557.7,159 560.6,154 562.8,148 563.9,142 564,135.5 562.9,129 560.4,122.5 557,116.9 552.5,112 547.5,108.4 541.5,105.7 535.5,104.4 528.5,104.5M395.5,158.5 393.2,159.5 391,161 389,163 387.5,165.1 386,168 385,170.8 383.9,177 384.3,183.5 385,186.5 386.2,189.5 387.6,192 389.5,194.3 391.5,196 393.5,197.1 396.5,197.9 416,199 428,200.6 429.5,200.6 433,200.1 439,198.3 444.7,195 451.8,189 453.6,187 454.8,185 455.6,182 455.7,178 455.2,175.5 454.3,173.5 451.9,170.5 447.1,166 443.1,163 439,160.8 435,159.3 430,158.3 418,158.7 398.5,158.1 395.5,158.5M554.1,258.5 555,251 554.9,247 554.4,243 553,237.5 548.9,228.5 547.8,224 545,220.6 542,217.9 539,216.3 536,215.8 534,216.1 532,216.9 528,220.3 524.7,224 520,230.9 518,234.5 516,240 514.9,246 514.8,252.5 515.7,258.5M513.6,6.5 510.6,15.5 508.8,25 508.1,35.5 508.6,47 510.3,57.5 513.2,66.5 517,74 522.6,81.5 523.3,83 523.4,85 522.1,92 521.5,93.5 520.5,94.2 510.5,97.5 503,101.2 497,105.4 492,110 487.3,116 483.8,122.5 481.5,129.5 480.5,136.5 480.7,142.5 481.6,148 483.4,153.5 485.9,158.5 490,164.5 495,169.8 500,173.7 508,178.4 509.2,179.5 510,181.5 511.7,191 512.5,198.5 511.9,204.5 510.6,211.5 509.4,215.5 505.5,223.4 503.5,228.4 501.9,233.5 500.8,239 499.9,248.5 500.4,258.5M398.5,144.5 394.5,145 390.5,146.6 387,148.8 383.5,152.2 380.6,156 378.2,160.5 376.3,165.5 375,171 374.3,176.5 374.4,182.5 375.1,188 376.4,193 378.5,198 381,202.2 384,205.7 387.5,208.5 391.5,210.5 395.5,211.4 415.5,212.7 428,213.9 434,213.5 448.5,210.8 460,210 465.5,208.5 470,206.6 473.8,204.5 480.5,199.6 482.5,197.3 484.5,193 486.2,187 487,181.5 486.8,177 485.2,170.5 482.5,164 479.5,159.1 476.5,156.3 469.4,153 464.5,151.3 448.5,148.7 434.5,145.5 430.5,145.1 418.5,145.1 398.5,144.5M569.2,258.5 569.7,251.5 569.4,244 567.3,231 567.4,224 563.2,201 562.7,195 562.7,186 563.7,170 564.5,168 569.5,159.5 572.4,152 574.1,143.5 574.3,139 574.2,134.5 573.5,129.5 572.5,125.2 571,120.7 569.1,116.5 566.8,112.5 564,108.6 556.6,101 556.2,99 557.2,93.5 557.9,92 564.6,89 568.5,86.7 572.5,83.3 576,79.4 578.5,75.8 580.8,71.5 582.7,67 584.3,62 585.9,55.5 586.9,48.5 587.4,41 587.3,32.5 586.9,25.5 585.9,18.5 584.5,12.5 582.5,6.5M511.3,6.5 508.5,15.5 506.9,25 506.3,36 506.8,48 508.4,58 511,66.8 514.3,74 519.3,81.5 520,83 520,85 519.3,89.5 518.7,91.5 517.5,92.5 510.5,94.8 505.5,97 500.5,99.8 496,102.9 492.4,106 489,109.5 486,113.3 483.5,117.1 481.3,121.5 479.5,126.3 478.4,131 477.8,136 477.8,140.5 478.2,145 481,156 476,152.1 466.5,148.6 462,147.6 448,145.6 436,143.1 430.5,142.5 418.5,142.5 399,141.9 395.5,142.2 391,143.6 387,146 383,149.5 379.8,153.5 377,158.5 374.8,164 373.3,170 372.5,176.5 372.5,182 373,187 374.1,192 375.6,196.5 377.5,200.5 380,204.5 383,207.9 386,210.4 390,212.6 394.5,213.9 415,215.2 429,216.5 435.5,216 448.5,213.8 460.5,213.1 466.5,211.4 471.3,209.5 475,207.5 481.7,203 483.5,201 487,195.5 488,195.1 490.5,195 492.5,194.5 494.4,193.5 496,192.1 497.8,189.5 499.1,186.5 499.9,183.5 500.5,178.3 501,178 502,178.2 505.5,180 506.5,181 506.9,182 508.1,190 508.7,197.5 508.3,204.5 506.9,213 501.2,226 499.6,231 498.4,236 497.6,241.5 497.1,247 497.1,253 497.6,258.5M572,258.5 572.5,252 572.3,245.5 571.8,240 570.4,231.5 570.6,224 567.5,201.5 566.7,186.5 566.6,171.5 567.1,168.5 572,159.4 574.8,151.5 576.3,143 576.4,134.5 575.8,130 574.9,125.5 573.5,121 571.6,116.5 569.4,112.5 566.8,108.5 560.1,101 559.6,99 560.3,95 561.1,93.5 567,90.5 570.8,88 574.5,84.7 578,80.5 580.5,76.6 582.6,72.5 584.5,67.8 586,63 587.5,56.2 588.5,49 589,41.5 589,33 588.5,25.5 587.7,19 586.4,12.5 584.6,6.5M509.1,6.5 506.6,15.5 505.2,25 504.6,36 505.1,48 506.5,58 509,67.2 512,74.2 517.2,83 517.2,84.5 516.5,88.5 516,90 515,90.8 504.3,95 499.7,97.5 495.5,100.3 488.9,106 485.8,109.5 483.1,113 478.9,120.5 477.4,124.5 476.1,129 475.1,137 475.2,141.5 475.8,147 475.5,148 473,147.7 468,145.9 463.5,144.8 448.5,142.9 437.5,140.8 432.5,140.1 399,139.4 394,140.1 389.5,141.8 385.5,144.3 381.5,148.1 378.1,152.5 375.4,157.5 373,163.5 371.6,169.5 370.8,176 370.9,183.5 371.9,190.5 374,197.5 376.9,203.5 380.6,208.5 385,212.5 390,215.2 395,216.4 414.5,217.7 429,219 435.5,218.5 448,216.6 461,215.9 468.1,214 474,211.5 481.6,207 486.5,202.5 492,202.3 495.5,200.9 497.5,199.5 499.5,197.5 501.5,194.7 504,190.2 504.5,190.2 505,192.3 505.4,197.5 504.7,209 503.6,213.5 498.5,225.5 495.9,235 495,240.8 494.5,246.5 494.5,252.5 494.9,258.5M590.5,32.7 590.1,25.5 589.4,19 588.2,12.5 586.5,6.5M574.6,258.5 575,252 574.9,245.5 573.3,232 573.5,224 571.4,204.5 571,195 570,183 569.5,170.5 570,168 574.5,159 577,151.5 578.4,143 578.5,134.5 577,125.5 574.1,117 572,112.7 569.5,108.6 562.9,100.5 562.5,98.5 563,96.2 563.7,95 571.3,90.5 576.5,85.8 580.2,81 583.5,75.2 586.5,67.7 588.5,60 589.9,51 590.5,41.3M507.2,6.5 504.8,15.5 503.5,25 503,36.5 503.4,48.5 504.5,56.5 506.2,64 509.4,73 514.6,82.5 514.7,84 514.2,87 513.6,88.5 513,89.1 502.5,93.4 498,95.9 494,98.6 487.5,104.1 482,110.5 477.4,118 474.3,126 472.9,133.5 472.5,143.6 471.5,143.9 463,141.9 448,140.2 437,138.2 431,137.6 418.5,137.6 398.5,137 395.5,137.3 392.5,138 388,140 383.7,143 380,146.7 376.5,151.5 373.6,157 371.3,163 369.8,169.5 369.1,176 369.1,183.5 370.2,191 372.2,198 375,204.1 378.7,209.5 383,213.8 388,216.9 393,218.6 429,221.5 435.5,221 447.5,219.4 461,218.8 468,217 473,215.2 481.5,210.7 485.5,208 486.5,207.8 491.5,207.9 495,207 497.5,205.7 501.5,203 502,203.5 502.2,205.5 501.6,211 496,224.7 494.3,230.5 493.1,236.5 492,247.5 492.4,258.5M590.5,16.3 588.2,6.5M577.1,258.5 577.5,248 577.1,241.5 575.9,232 576.3,224 574.8,206.5 574.5,194.5 573,182.5 572.1,170 572.6,167.5 577.1,158 579.2,151 580.5,142.5 580.4,134 579,125 576.1,116.5 571.9,108.5 565.7,100.5 565.1,98.5 565.5,97 566.4,96 572,92.5 576,89 579.1,85.5 582,81.4 585,76 587.2,70.5 589.1,64.5 590.5,57.7" fill="none" stroke="#1a1a1a" stroke-width="0.65" stroke-dasharray="1.1 0.75"/></g><path d="M406.5,137.6 L411.1,134 L416.5,138.2Z" fill="#e2704a" stroke="none"/><path d="M406.5,137.6 L411.1,134 L416.5,138.2" fill="none" stroke="#a33c26" stroke-width="1"/><path d="M406.5,137.6 L411.1,134 L416.5,138.2" fill="none" stroke="#1a1a1a" stroke-width="0.65" stroke-dasharray="1.1 0.75"/><path d="M430.5,138.6 L433.9,135.4 L438,140.2Z" fill="#e2704a" stroke="none"/><path d="M430.5,138.6 L433.9,135.4 L438,140.2" fill="none" stroke="#a33c26" stroke-width="1"/><path d="M430.5,138.6 L433.9,135.4 L438,140.2" fill="none" stroke="#1a1a1a" stroke-width="0.65" stroke-dasharray="1.1 0.75"/><path d="M457.5,143.2 L462.5,133.8 L467.2,144.6Z" fill="#e2704a" stroke="none"/><path d="M457.5,143.2 L462.5,133.8 L467.2,144.6" fill="none" stroke="#a33c26" stroke-width="1"/><path d="M457.5,143.2 L462.5,133.8 L467.2,144.6" fill="none" stroke="#1a1a1a" stroke-width="0.65" stroke-dasharray="1.1 0.75"/><defs><linearGradient id="cbg" x1="0" y1="0" x2="0" y2="1"><stop offset="0.0000" stop-color="#d86040"/><stop offset="0.0333" stop-color="#e16e43"/><stop offset="0.0667" stop-color="#e57a48"/><stop offset="0.1000" stop-color="#ed8a4d"/><stop offset="0.1333" stop-color="#f59a52"/><stop offset="0.1667" stop-color="#f8a750"/><stop offset="0.2000" stop-color="#fcb44e"/><stop offset="0.2333" stop-color="#fcbe4b"/><stop offset="0.2667" stop-color="#fcc848"/><stop offset="0.3000" stop-color="#fad142"/><stop offset="0.3333" stop-color="#f8da3c"/><stop offset="0.3667" stop-color="#e8db42"/><stop offset="0.4000" stop-color="#d8dc48"/><stop offset="0.4333" stop-color="#c6d94e"/><stop offset="0.4667" stop-color="#b4d654"/><stop offset="0.5000" stop-color="#a3cf5d"/><stop offset="0.5333" stop-color="#92c866"/><stop offset="0.5667" stop-color="#81c26e"/><stop offset="0.6000" stop-color="#70bc76"/><stop offset="0.6333" stop-color="#62b680"/><stop offset="0.6667" stop-color="#54b08a"/><stop offset="0.7000" stop-color="#4baa8c"/><stop offset="0.7333" stop-color="#42a48e"/><stop offset="0.7667" stop-color="#3d9d8e"/><stop offset="0.8000" stop-color="#38968e"/><stop offset="0.8333" stop-color="#32888b"/><stop offset="0.8667" stop-color="#2c7a88"/><stop offset="0.9000" stop-color="#296a83"/><stop offset="0.9333" stop-color="#265a7e"/><stop offset="0.9667" stop-color="#224a7b"/><stop offset="1.0000" stop-color="#1f3a78"/></linearGradient></defs><rect x="622.5" y="14.4" width="8.5" height="236.4" fill="url(#cbg)"/><rect x="622.5" y="14.4" width="8.5" height="1.8" fill="#a84830"/><rect x="622.5" y="14.4" width="8.5" height="236.4" fill="none" stroke="#7f7f7f" stroke-width="0.8"/><g font-family="Liberation Sans, sans-serif" font-size="12" fill="#000"><path d="M70.7,180.3C77.2,180.4 96.8,180.8 110,181C123.2,181.2 140.8,181.7 150,181.7C159.2,181.7 160.8,181.3 165,181C169.2,180.7 171.7,180.7 175,179.6C178.3,178.5 181.7,176.8 185,174.7C188.3,172.6 192.1,169.4 195,167C197.9,164.6 199.5,162.2 202.4,160C205.3,157.8 208.5,156.2 212.2,153.8C215.8,151.4 220.7,147.7 224.3,145.3C227.9,142.9 232.4,140.2 234,139.2M234,139.2C235,137.8 238.3,133.9 240.1,130.7C241.9,127.5 243.4,124 245,119.8C246.6,115.5 248.4,109.7 249.9,105.2C251.4,100.7 252.9,97.9 254,93C255.1,88.1 255.8,82.1 256.4,76C257,69.9 257.1,63.6 257.4,56.5C257.6,49.4 257.8,37.2 257.9,33.4" fill="none" stroke="#f47a6e" stroke-width="2.5" stroke-linejoin="round"/><path d="M406,179.3C411.7,179.6 430.5,180.7 440,180.8C449.5,180.9 457.1,180.5 463.1,179.7C469.2,178.9 472.6,177.5 476.3,176C480,174.5 482.6,172.8 485.5,170.7C488.4,168.6 490.5,165.9 493.4,163.5C496.2,161.1 498.9,158.9 502.6,156.3C506.3,153.7 511.3,150.2 515.7,147.7C520.1,145.2 525.8,142.8 528.8,141.2C531.8,139.6 533,138.5 533.8,138M533.8,138C534.4,135.8 536.2,129.3 537.4,124.6C538.6,119.9 539.9,115.3 541.1,110C542.3,104.7 543.6,99.1 544.7,93C545.8,86.9 547.2,79.6 547.9,73.5C548.6,67.4 548.9,62.8 549.1,56.5C549.4,50.2 549.4,39.2 549.4,35.8" fill="none" stroke="#6f9bec" stroke-width="2.5" stroke-linejoin="round"/><text x="72.8" y="196.4">R</text><text x="151.3" y="196.4">R'</text><text x="202" y="176.4">TS</text><text x="237.5" y="147.6">P</text><text x="249" y="34.9">P1</text><text x="229.2" y="249.2">P2</text><text x="402.3" y="196.6">R</text><text x="457.6" y="196.6">R'</text><text x="492" y="178.4">TS</text><text x="538.5" y="146.9">P</text><text x="541" y="34.6">P1</text><text x="526.8" y="249.9">P2</text></g><line x1="51.1" y1="29.2" x2="84.7" y2="29.2" stroke="#f47a6e" stroke-width="2.3"/><line x1="51.1" y1="52.2" x2="84.7" y2="52.2" stroke="#6f9bec" stroke-width="2.3"/><g font-family="Liberation Sans, sans-serif" font-size="16" fill="#000"><text x="96.2" y="34.8" textLength="59" lengthAdjust="spacingAndGlyphs">Surface</text><text x="96.4" y="58.1" textLength="33.3" lengthAdjust="spacingAndGlyphs">Bulk</text></g><defs>
<radialGradient id="gO" cx="0.35" cy="0.33" r="0.7"><stop offset="0" stop-color="#ff8a8a"/><stop offset="0.25" stop-color="#e81010"/><stop offset="0.75" stop-color="#b00000"/><stop offset="1" stop-color="#6a0000"/></radialGradient>
<radialGradient id="gS" cx="0.35" cy="0.33" r="0.7"><stop offset="0" stop-color="#ffffb0"/><stop offset="0.25" stop-color="#e8e830"/><stop offset="0.75" stop-color="#c0c000"/><stop offset="1" stop-color="#707000"/></radialGradient>
<radialGradient id="gH" cx="0.35" cy="0.33" r="0.7"><stop offset="0" stop-color="#ffffff"/><stop offset="0.4" stop-color="#e8e8e8"/><stop offset="1" stop-color="#8a8a8a"/></radialGradient>
</defs><g stroke-width="1.5" stroke-linecap="round" fill="none"><path d="M348.9,66.9 L353,69.9 L357.2,67" stroke="#c8c8c8" opacity="0.28"/><path d="M463.9,25.9 L458.5,20.2 L451.4,23.4" stroke="#e9a3a3" opacity="0.37"/><path d="M381.7,66.3 L384.7,71.3 L390.4,70.1" stroke="#e9a3a3" opacity="0.28"/><path d="M432.6,89.2 L440,89.8 L443,82.9" stroke="#c8c8c8" opacity="0.36"/><path d="M459.4,33.6 L465.5,35.7 L469.5,30.7" stroke="#e9a3a3" opacity="0.32"/><path d="M416.5,32.1 L414.1,39.3 L420.1,43.9" stroke="#e9a3a3" opacity="0.28"/><path d="M404.3,48 L397.7,44.1 L391.9,49.2" stroke="#c8c8c8" opacity="0.34"/><path d="M357.8,97.5 L355.5,90.1 L347.8,89.9" stroke="#e9a3a3" opacity="0.29"/><path d="M336.7,40.6 L340.4,35.3 L336.5,30.2" stroke="#e9a3a3" opacity="0.43"/><path d="M433.5,51.9 L428.1,51.4 L425.7,56.3" stroke="#c8c8c8" opacity="0.45"/><path d="M401.5,93.9 L396.7,92.2 L393.5,96.2" stroke="#e9a3a3" opacity="0.42"/><path d="M411.4,52.6 L413.6,47.8 L409.8,44.2" stroke="#e9a3a3" opacity="0.28"/><path d="M334,110.5 L339.2,109.3 L339.9,104" stroke="#c8c8c8" opacity="0.40"/><path d="M355.6,14.7 L361.8,19.2 L368.1,14.7" stroke="#e9a3a3" opacity="0.26"/><path d="M446.5,36.8 L442.3,34.1 L438.3,37.1" stroke="#e9a3a3" opacity="0.31"/><path d="M435.4,64.7 L432,69.2 L435.1,73.9" stroke="#c8c8c8" opacity="0.31"/><path d="M375.7,123.3 L370.1,125.5 L370.3,131.5" stroke="#e9a3a3" opacity="0.34"/><path d="M382.5,99.9 L377.5,98.6 L374.6,102.9" stroke="#e9a3a3" opacity="0.33"/><path d="M368,103.4 L368.4,110 L374.7,111.9" stroke="#c8c8c8" opacity="0.38"/><path d="M432.3,100.2 L427.4,102.6 L428.1,108" stroke="#e9a3a3" opacity="0.38"/><path d="M356.7,55.9 L355,63.4 L361.5,67.5" stroke="#e9a3a3" opacity="0.40"/><path d="M344.8,60.5 L340.7,53.7 L332.9,55.4" stroke="#c8c8c8" opacity="0.28"/><path d="M375.3,56.3 L368.2,53.4 L363.3,59.2" stroke="#e9a3a3" opacity="0.38"/><path d="M363.1,73 L357.1,69.8 L352.1,74.4" stroke="#e9a3a3" opacity="0.30"/><path d="M334.6,23 L341.1,25.4 L345.4,20" stroke="#c8c8c8" opacity="0.31"/><path d="M425,57.2 L420.9,52.8 L415.5,55.3" stroke="#e9a3a3" opacity="0.33"/><path d="M462.2,28.9 L456.5,25.4 L451.4,29.7" stroke="#e9a3a3" opacity="0.44"/><path d="M462.5,96.2 L455.8,93.2 L450.7,98.7" stroke="#c8c8c8" opacity="0.39"/><path d="M362.1,68.2 L355,65.9 L350.6,71.9" stroke="#e9a3a3" opacity="0.39"/><path d="M441.4,107.5 L442.2,100.2 L435.5,97.1" stroke="#e9a3a3" opacity="0.30"/><path d="M348.3,57.4 L354.2,57.3 L356,51.7" stroke="#c8c8c8" opacity="0.37"/><path d="M411.2,35.6 L415.5,39.8 L420.9,37.1" stroke="#e9a3a3" opacity="0.40"/><path d="M368.6,108 L374.3,104.7 L373,98.1" stroke="#e9a3a3" opacity="0.38"/><path d="M409.7,41.2 L404.4,41.9 L403.4,47.1" stroke="#c8c8c8" opacity="0.31"/></g><line x1="361.3" y1="39.8" x2="352.2" y2="43.5" stroke="#d8d820" stroke-width="2.6"/><line x1="352.2" y1="43.5" x2="343.2" y2="47.1" stroke="#d01010" stroke-width="2.6"/><line x1="361.3" y1="39.8" x2="370" y2="44" stroke="#d8d820" stroke-width="2.6"/><line x1="370" y1="44" x2="378.7" y2="48.2" stroke="#d01010" stroke-width="2.6"/><circle cx="361.3" cy="39.8" r="7.2" fill="url(#gS)"/><circle cx="343.2" cy="47.1" r="6.1" fill="url(#gO)"/><circle cx="378.7" cy="48.2" r="6.1" fill="url(#gO)"/><line x1="433.6" y1="48.2" x2="434.7" y2="37.1" stroke="#d8d820" stroke-width="2.6"/><line x1="434.7" y1="37.1" x2="435.8" y2="26" stroke="#d01010" stroke-width="2.6"/><line x1="433.6" y1="48.2" x2="424.6" y2="51.2" stroke="#d8d820" stroke-width="2.6"/><line x1="424.6" y1="51.2" x2="415.5" y2="54.3" stroke="#d01010" stroke-width="2.6"/><line x1="433.6" y1="48.2" x2="442.1" y2="53" stroke="#d8d820" stroke-width="2.6"/><line x1="442.1" y1="53" x2="450.5" y2="57.7" stroke="#d01010" stroke-width="2.6"/><circle cx="433.6" cy="48.2" r="7.2" fill="url(#gS)"/><circle cx="435.8" cy="26" r="6.1" fill="url(#gO)"/><circle cx="415.5" cy="54.3" r="6.1" fill="url(#gO)"/><circle cx="450.5" cy="57.7" r="6.1" fill="url(#gO)"/><line x1="362.5" y1="104" x2="362.1" y2="91.9" stroke="#d8d820" stroke-width="2.6"/><line x1="362.1" y1="91.9" x2="361.8" y2="79.8" stroke="#d01010" stroke-width="2.6"/><line x1="362.5" y1="104" x2="353.8" y2="106.8" stroke="#d8d820" stroke-width="2.6"/><line x1="353.8" y1="106.8" x2="345" y2="109.6" stroke="#d01010" stroke-width="2.6"/><line x1="362.5" y1="104" x2="371.5" y2="107" stroke="#d8d820" stroke-width="2.6"/><line x1="371.5" y1="107" x2="380.5" y2="110" stroke="#d01010" stroke-width="2.6"/><line x1="349" y1="75.7" x2="361.8" y2="79.8" stroke="#d0d0d0" stroke-width="2"/><circle cx="349" cy="75.7" r="3.6" fill="url(#gH)"/><circle cx="362.5" cy="104" r="7.2" fill="url(#gS)"/><circle cx="361.8" cy="79.8" r="6.1" fill="url(#gO)"/><circle cx="345" cy="109.6" r="6.1" fill="url(#gO)"/><circle cx="380.5" cy="110" r="6.1" fill="url(#gO)"/><line x1="436.3" y1="104.6" x2="436.6" y2="93.3" stroke="#d8d820" stroke-width="2.6"/><line x1="436.6" y1="93.3" x2="437" y2="82" stroke="#d01010" stroke-width="2.6"/><line x1="436.3" y1="104.6" x2="426.8" y2="106.8" stroke="#d8d820" stroke-width="2.6"/><line x1="426.8" y1="106.8" x2="417.3" y2="109" stroke="#d01010" stroke-width="2.6"/><line x1="436.3" y1="104.6" x2="444.1" y2="108.2" stroke="#d8d820" stroke-width="2.6"/><line x1="444.1" y1="108.2" x2="452" y2="111.8" stroke="#d01010" stroke-width="2.6"/><line x1="410" y1="116" x2="417.3" y2="109" stroke="#d0d0d0" stroke-width="2"/><line x1="457.3" y1="118.6" x2="452" y2="111.8" stroke="#d0d0d0" stroke-width="2"/><circle cx="410" cy="116" r="3.6" fill="url(#gH)"/><circle cx="457.3" cy="118.6" r="3.6" fill="url(#gH)"/><circle cx="436.3" cy="104.6" r="7.2" fill="url(#gS)"/><circle cx="437" cy="82" r="6.1" fill="url(#gO)"/><circle cx="417.3" cy="109" r="6.1" fill="url(#gO)"/><circle cx="452" cy="111.8" r="6.1" fill="url(#gO)"/><g font-family="Liberation Sans, sans-serif" font-size="11" fill="#000"><text x="336.4" y="25.8">R</text><text x="403.6" y="25.8">P1</text><text x="336.2" y="83.4">P</text><text x="403.6" y="83.4">P2</text></g><g clip-path="url(#clipC)"><path d="M52.9,437.7 54.3,439.9 55.8,442 57.2,444.2 58.7,446.8 60.1,449.3 61.6,451 63,452.7 64.5,454.5 65.9,456.2 67.4,456.5 68.8,456.7 70.3,456.8 71.7,457 73.2,456.9 74.6,456.8 76.1,456.6 77.5,456.5 79,456.1 80.4,455.5 81.9,454.8 83.3,454 84.8,453.3 86.2,452.6 87.6,451.9 89.1,451.1 90.5,450.2 92,449.4 93.4,448.5 94.9,447.7 96.3,446.4 97.8,444.9 99.2,443.5 100.7,442 102.1,440.4 103.6,438.2 105,435.9 106.5,433.6 107.9,431.2 109.4,428.9 110.8,426.6 112.3,424.3 113.7,422 115.2,419.7 116.6,417.4 118.1,414.6 119.5,411.6 120.9,408.4 122.4,404.9 123.8,400.6 125.3,396.3 126.7,392.2 128.2,388.3 129.6,384.3 131.1,380.3 132.5,376.2 134,371.5 135.4,366.9 136.9,363.2 138.3,360.8 139.8,360.6 141.2,364.5 142.7,370.2 144.1,377.8 145.6,385.2 147,391.5 148.5,397.8 149.9,404.1 151.4,410.4 152.8,416.6 154.2,422.9 155.7,429.1 157.1,435.4 158.6,441.7 160,448 161.5,453.9 162.9,459.8 164.4,464.6 165.8,469.1 167.3,473.5 168.7,478 170.2,481.7 171.6,484.8 173.1,488 174.5,491.1 176,493.6 177.4,495.9 178.9,498.1 180.3,500.1 181.8,501.1 183.2,502.2 184.6,503.2 186.1,503.3 187.5,503.1 189,502.8 190.4,501.8 191.9,500.3 193.3,498.8 194.8,496.8 196.2,493.5 197.7,490.2 199.1,486.9 200.6,483.7 202,480.6 203.5,477.5 204.9,474.4 206.4,468.9 207.8,462.5 209.3,456.1 210.7,449.4 212.2,442.3 213.6,435.8 215.1,431.6 216.5,427.5 217.9,423.4 219.4,419.3 220.8,417.6 222.3,416.3 223.7,415.1 225.2,413.9 226.6,414.5 228.1,416.4 229.5,418.3 231,420.2 232.4,422.7 233.9,426.9 235.3,431.2 236.8,435.4 238.2,439.6 239.7,444.9 241.1,449.9 242.6,454.9 244,459.9 245.5,464.8 246.9,469.5 248.4,474.1 249.8,478.1 251.2,482 252.7,485.9 254.1,489.8 255.6,493.6 257,497.5 258.5,501.4 259.9,504.9 261.4,508.2 262.8,511.4 264.3,514.7 265.7,518 267.2,519.7 268.6,521 270.1,522.4 271.5,523.7 273,524.2 274.4,522.3 275.9,520.5 277.3,518.6 278.8,516 280.2,513.4 281.7,510.8 283.1,508.2 283.1,514.2 281.7,516.8 280.2,519.4 278.8,522 277.3,524.6 275.9,526.5 274.4,528.3 273,530.2 271.5,529.7 270.1,528.4 268.6,527 267.2,525.7 265.7,524 264.3,520.7 262.8,517.4 261.4,514.2 259.9,510.9 258.5,507.4 257,503.5 255.6,499.6 254.1,495.8 252.7,491.9 251.2,488 249.8,484.2 248.4,480.3 246.9,475.8 245.5,471.3 244,466.5 242.6,461.7 241.1,456.9 239.7,452.1 238.2,447.4 236.8,443.7 235.3,440 233.9,436.2 232.4,432.5 231,430.6 229.5,429.1 228.1,427.7 226.6,426.3 225.2,425.9 223.7,427.1 222.3,428.3 220.8,429.6 219.4,431 217.9,434.6 216.5,438.1 215.1,441.7 213.6,445.2 212.2,451.1 210.7,457.6 209.3,464.5 207.8,471.8 206.4,479.1 204.9,485.5 203.5,489.4 202,493.4 200.6,497.4 199.1,501.2 197.7,505 196.2,508.8 194.8,512.5 193.3,515 191.9,517 190.4,519 189,520.5 187.5,521.2 186.1,522 184.6,522.1 183.2,520.6 181.8,519 180.3,517.5 178.9,515 177.4,512.3 176,509.6 174.5,506.6 173.1,503 171.6,499.4 170.2,495.7 168.7,491.2 167.3,485.9 165.8,480.6 164.4,475.3 162.9,469.6 161.5,462.8 160,456 158.6,449.7 157.1,443.4 155.7,437.1 154.2,430.9 152.8,424.6 151.4,418.4 149.9,412.1 148.5,405.8 147,399.5 145.6,393.2 144.1,387.5 142.7,382.4 141.2,379.4 139.8,378.1 138.3,379.8 136.9,382.6 135.4,386.6 134,391.2 132.5,395.8 131.1,399.8 129.6,403.6 128.2,407.4 126.7,411.2 125.3,415.1 123.8,419.1 122.4,423.2 120.9,426.6 119.5,429.7 118.1,432.8 116.6,435.7 115.2,438.2 113.7,440.6 112.3,443.1 110.8,445.5 109.4,448 107.9,450.5 106.5,452.9 105,455.4 103.6,457.9 102.1,460.1 100.7,461.9 99.2,463.5 97.8,464.9 96.3,466.4 94.9,467.7 93.4,468.5 92,469.4 90.5,470.2 89.1,471.1 87.6,471.9 86.2,472.6 84.8,473.3 83.3,474 81.9,474.8 80.4,475.5 79,476 77.5,476.2 76.1,476.2 74.6,476.2 73.2,476.2 71.7,476.1 70.3,475.9 68.8,475.6 67.4,475.3 65.9,474.8 64.5,472.9 63,471 61.6,469.2 60.1,467.3 58.7,465.2 57.2,463 55.8,461.2 54.3,459.4 52.9,457.7Z" fill="#6f9bec" fill-opacity="0.2"/><path d="M52.9,444.9 54.3,446 55.8,447.2 57.2,448.3 58.7,449.3 60.1,450.3 61.6,451.1 63,451.4 64.5,451.8 65.9,452.1 67.4,452.4 68.8,451.2 70.3,450 71.7,448.8 73.2,447.6 74.6,445.7 76.1,443.6 77.5,441.6 79,439.5 80.4,437.5 81.9,435.4 83.3,433.2 84.8,430.9 86.2,428.7 87.6,426.4 89.1,424.1 90.5,421.9 92,419.2 93.4,416.6 94.9,414 96.3,411.7 97.8,409.3 99.2,407 100.7,404.7 102.1,402.4 103.6,400.1 105,397.8 106.5,395.9 107.9,394 109.4,392.2 110.8,390.4 112.3,388.7 113.7,387 115.2,385.9 116.6,384.7 118.1,383.6 119.5,382.4 120.9,380.9 122.4,379.2 123.8,377.5 125.3,375.7 126.7,374 128.2,372 129.6,370 131.1,367.7 132.5,365.2 134,362.7 135.4,360.3 136.9,357.8 138.3,355.3 139.8,352.4 141.2,349.5 142.7,346.5 144.1,342 145.6,337 147,332 148.5,326.9 149.9,322.6 151.4,319 152.8,319.5 154.2,322.6 155.7,328.9 157.1,337.7 158.6,347.3 160,356 161.5,364.7 162.9,373.4 164.4,382.2 165.8,390.6 167.3,397.7 168.7,404.9 170.2,412 171.6,419.1 173.1,424.3 174.5,429.3 176,434.4 177.4,439.1 178.9,443.2 180.3,447.3 181.8,451.3 183.2,454.1 184.6,456.7 186.1,459.3 187.5,461 189,462.5 190.4,463.9 191.9,464.3 193.3,464 194.8,463.7 196.2,462.5 197.7,460.5 199.1,458.5 200.6,454.7 202,450.1 203.5,445.6 204.9,441.1 206.4,436.6 207.8,432.1 209.3,427.6 210.7,422.1 212.2,416.7 213.6,411.2 215.1,405.8 216.5,400.4 217.9,394.7 219.4,388.5 220.8,382.3 222.3,376.1 223.7,369.8 225.2,364.3 226.6,360.5 228.1,356.7 229.5,355.4 231,358.4 232.4,361.4 233.9,366.5 235.3,372.2 236.8,377.9 238.2,383.7 239.7,389.4 241.1,395.2 242.6,400.9 244,406.7 245.5,412.5 246.9,418.2 248.4,423.6 249.8,429.1 251.2,434.5 252.7,440 254.1,445.1 255.6,449.7 257,454.4 258.5,459.1 259.9,463.7 261.4,467.4 262.8,469.8 264.3,472.1 265.7,474.5 267.2,476.8 268.6,479 270.1,481.2 271.5,483.4 273,485.5 274.4,480.5 275.9,475.2 277.3,470 278.8,464.2 280.2,458.5 281.7,455.5 283.1,454.4 283.1,460.4 281.7,461.5 280.2,464.5 278.8,470.2 277.3,476 275.9,481.2 274.4,486.5 273,491.5 271.5,489.4 270.1,487.2 268.6,485 267.2,482.8 265.7,480.5 264.3,478.1 262.8,475.8 261.4,473.4 259.9,469.7 258.5,465.1 257,460.4 255.6,455.7 254.1,451.1 252.7,446 251.2,440.5 249.8,435.1 248.4,429.6 246.9,424.2 245.5,418.5 244,412.7 242.6,406.9 241.1,401.2 239.7,395.4 238.2,389.7 236.8,383.9 235.3,378.2 233.9,372.5 232.4,367.4 231,364.4 229.5,361.4 228.1,362.7 226.6,366.5 225.2,370.3 223.7,375.8 222.3,382.1 220.8,388.3 219.4,394.5 217.9,400.7 216.5,406.4 215.1,411.8 213.6,417.2 212.2,422.7 210.7,428.1 209.3,433.6 207.8,438.1 206.4,442.6 204.9,447.1 203.5,451.6 202,456.1 200.6,460.7 199.1,464.8 197.7,467.1 196.2,469.5 194.8,471.1 193.3,471.8 191.9,472.6 190.4,472.3 189,470.4 187.5,468.6 186.1,466.4 184.6,463.4 183.2,460.5 181.8,457.3 180.3,453.3 178.9,449.2 177.4,445.1 176,440.4 174.5,435.3 173.1,430.3 171.6,425.1 170.2,418 168.7,410.9 167.3,403.7 165.8,396.6 164.4,388.2 162.9,379.4 161.5,370.7 160,362 158.6,353.8 157.1,347.2 155.7,343.8 154.2,343.2 152.8,346 151.4,350.1 149.9,356.1 148.5,361.6 147,366.1 145.6,370.5 144.1,374.8 142.7,378.7 141.2,381 139.8,383.4 138.3,386 136.9,388.2 135.4,390.4 134,392.5 132.5,394.7 131.1,396.9 129.6,399 128.2,400.9 126.7,402.8 125.3,404.5 123.8,406.1 122.4,407.7 120.9,409.4 119.5,411 118.1,412.7 116.6,414.3 115.2,415.4 113.7,416.1 112.3,417.3 110.8,418.6 109.4,420.2 107.9,422 106.5,423.9 105,425.8 103.6,428.1 102.1,430.4 100.7,432.7 99.2,435 97.8,437.3 96.3,439.7 94.9,442 93.4,444.3 92,446.6 90.5,449 89.1,451 87.6,452.9 86.2,454.9 84.8,456.9 83.3,458.8 81.9,460.8 80.4,462.5 79,464.2 77.5,465.9 76.1,467.6 74.6,469.2 73.2,470.8 71.7,471.6 70.3,472.4 68.8,473.2 67.4,474.1 65.9,473.4 64.5,472.6 63,471.8 61.6,471 60.1,469.7 58.7,468.2 57.2,466.7 55.8,465.1 54.3,463.5 52.9,461.9Z" fill="#f47a6e" fill-opacity="0.22"/><path d="M52.9,453.9C53.6,454.5 55.6,456.6 57,457.8C58.4,459.1 59.5,460.4 61.2,461.4C62.9,462.4 65.3,464.1 67.3,463.8C69.3,463.5 71,462 73.4,459.5C75.8,457 79.1,452.4 81.9,448.6C84.7,444.8 87.8,440.6 90.4,436.5C93,432.4 95.3,428.4 97.7,424.3C100.1,420.2 102.4,416.2 105,412.2C107.6,408.2 111.2,403.3 113.5,400.5C115.8,397.7 116.3,397.7 118.5,395.5C120.7,393.3 124.5,389.8 126.9,387.2C129.3,384.6 131.2,382.1 133.1,379.8C135,377.5 136.7,375.7 138.3,373.5C140,371.3 141.4,370.1 143,366.5C144.6,362.9 146.6,356.2 148,352C149.4,347.8 150.5,343.5 151.5,341C152.5,338.5 153.2,337.1 154,336.8C154.8,336.6 155.6,337.6 156.3,339.5C157,341.4 157.3,343.1 158.2,348C159.1,352.9 160.5,361.6 161.7,369C162.9,376.4 163.9,383.6 165.6,392.5C167.3,401.4 169.8,414.4 171.7,422.5C173.6,430.6 175.3,435.6 177,441C178.7,446.4 180.4,451.3 182,455C183.6,458.7 185,460.9 186.5,463C188,465.1 189.5,466.9 191,467.5C192.5,468.1 194.1,467.6 195.5,466.5C196.9,465.4 197.2,466.9 199.5,461C201.8,455.1 206.2,441 209.2,430.8C212.2,420.6 214.9,410 217.5,399.6C220.1,389.2 222.9,375.4 224.8,368.3C226.7,361.2 227.7,357.8 229,357.3C230.3,356.8 231.2,360.2 232.8,365.2C234.4,370.1 236,377.8 238.3,387C240.6,396.2 244.2,410.6 246.7,420.4C249.2,430.2 251.2,437.8 253.5,446C255.8,454.2 258.4,463.7 260.8,469.5C263.2,475.3 265.8,477.6 267.8,480.8C269.8,484 271.4,489.9 273,488.6C274.6,487.3 276,477.9 277.3,473C278.6,468.1 279.8,461.7 280.8,459.1C281.8,456.5 282.7,457.7 283.1,457.4" fill="none" stroke="#f47a6e" stroke-width="2.4" stroke-linejoin="round"/><path d="M52.9,449.7C53.6,450.3 55.8,452.3 57,453.5C58.2,454.7 58.5,455.4 60,457.1C61.5,458.8 64.1,462.7 66.1,463.8C68.1,464.9 70.2,464 72.2,463.8C74.2,463.6 75.6,463.6 78.2,462.6C80.8,461.6 85.2,459.2 88,457.7C90.8,456.2 92.8,455.4 95.2,453.5C97.6,451.6 100.1,449.2 102.5,446.2C104.9,443.1 107.4,438.8 109.8,435.2C112.2,431.6 115.1,427.7 117.1,424.3C119.1,420.9 120.5,417.9 122,414.6C123.5,411.3 124.6,407.4 125.8,404.4C127,401.4 128,399.1 129,396.5C130.1,393.9 130.9,392.1 132.1,388.8C133.3,385.4 135,379.1 136.2,376.2C137.5,373.4 138.4,371.7 139.4,371.5C140.4,371.3 141.1,372.6 142,374.9C142.9,377.1 143.1,378.8 144.6,385C146.1,391.2 148.7,403 150.8,412C152.9,421 155,430.1 157.1,439.2C159.2,448.2 161.2,458.4 163.3,466.3C165.4,474.2 167.5,481.3 169.4,486.9C171.3,492.5 173.2,496.4 175,500C176.8,503.6 178.3,506.3 180,508.5C181.7,510.7 183.4,512.5 185,513C186.6,513.5 187.9,512.7 189.5,511.5C191.1,510.3 191.8,511 194.4,505.6C197,500.2 202.2,489.7 205.3,479C208.5,468.3 210.9,450.4 213.3,441.3C215.7,432.2 217.5,428.2 219.6,424.6C221.7,421 223.7,419 225.8,419.4C227.9,419.8 230,422.7 232.1,426.7C234.2,430.7 236.1,436.4 238.3,443.3C240.6,450.2 243.9,462.5 245.6,468.3C247.3,474.1 246.4,471.9 248.7,478.2C250.9,484.5 256.2,498.8 259.1,506C262,513.2 263.8,518 266,521.6C268.2,525.2 270.7,527.7 272.6,527.7C274.5,527.7 275.6,524.4 277.3,521.6C279.1,518.9 282.1,512.9 283.1,511.2" fill="none" stroke="#6f9bec" stroke-width="2.4" stroke-linejoin="round"/><line x1="115.9" y1="394.5" x2="102.6" y2="397.4" stroke="#f47a6e" stroke-width="1.5"/><path d="M98.2,398.3 L103,394.6 L104.1,399.7 Z" fill="#f47a6e"/><line x1="115.5" y1="416" x2="106.7" y2="407.7" stroke="#6f9bec" stroke-width="1.5"/><path d="M103.4,404.6 L109.2,406.5 L105.6,410.3 Z" fill="#6f9bec"/><line x1="154" y1="337" x2="158.9" y2="343.8" stroke="#f47a6e" stroke-width="1.5"/><path d="M161.5,347.5 L156.2,344.5 L160.4,341.5 Z" fill="#f47a6e"/><line x1="139.4" y1="371.5" x2="154.4" y2="358.5" stroke="#6f9bec" stroke-width="1.5"/><path d="M157.8,355.5 L155.4,361.1 L151.9,357.1 Z" fill="#6f9bec"/><line x1="191.3" y1="469" x2="185.8" y2="478.1" stroke="#f47a6e" stroke-width="1.5"/><path d="M183.4,481.9 L184.1,475.9 L188.5,478.6 Z" fill="#f47a6e"/><line x1="185" y1="513.4" x2="182.5" y2="495.3" stroke="#6f9bec" stroke-width="1.5"/><path d="M181.9,490.8 L185.2,495.9 L180.1,496.6 Z" fill="#6f9bec"/><line x1="273" y1="488.6" x2="269.2" y2="497.5" stroke="#f47a6e" stroke-width="1.5"/><path d="M267.4,501.6 L267.2,495.5 L272,497.6 Z" fill="#f47a6e"/><line x1="272.6" y1="527.7" x2="270.6" y2="519.4" stroke="#6f9bec" stroke-width="1.5"/><path d="M269.5,515 L273.3,519.7 L268.3,521 Z" fill="#6f9bec"/></g><g font-family="Liberation Sans, sans-serif" font-size="12" fill="#000"><text x="58.6" y="479.7">R</text><text x="89.6" y="395.5">R'</text><text x="163.8" y="357.6">TS</text><text x="174.6" y="490.8">P</text><text x="260.3" y="512.9">P1</text></g><g clip-path="url(#clipD)"><path d="M384,531.2 L383.7,531.2 L383.7,527.5 L392.2,527.5 L392.2,523.7 L403.4,523.7 L403.4,519.9 L407.8,519.9 L407.8,516.1 L412,516.1 L412,512.3 L415.4,512.3 L415.4,508.5 L416.1,508.5 L416.1,504.7 L420.7,504.7 L420.7,500.9 L422.2,500.9 L422.2,497.1 L429.1,497.1 L429.1,493.3 L429.1,493.3 L429.1,489.6 L429.1,489.6 L429.1,485.8 L429.6,485.8 L429.6,482 L430.5,482 L430.5,478.2 L431.3,478.2 L431.3,474.4 L433.3,474.4 L433.3,470.6 L435.5,470.6 L435.5,466.8 L435.9,466.8 L435.9,463 L438.6,463 L438.6,459.2 L438.6,459.2 L438.6,455.4 L439.9,455.4 L439.9,451.7 L442.8,451.7 L442.8,447.9 L442.8,447.9 L442.8,444.1 L442.8,444.1 L442.8,440.3 L444,440.3 L444,436.5 L446,436.5 L446,432.7 L448.6,432.7 L448.6,428.9 L448.6,428.9 L448.6,425.1 L448.6,425.1 L448.6,421.3 L450.9,421.3 L450.9,417.5 L450.9,417.5 L450.9,413.8 L451.8,413.8 L451.8,410 L454.4,410 L454.4,406.2 L455.3,406.2 L455.3,402.4 L455.7,402.4 L455.7,398.6 L457.5,398.6 L457.5,394.8 L457.5,394.8 L457.5,391 L459.9,391 L459.9,387.2 L459.9,387.2 L459.9,383.4 L459.9,383.4 L459.9,379.6 L462.4,379.6 L462.4,375.9 L464.1,375.9 L464.1,372.1 L464.1,372.1 L464.1,368.3 L464.5,368.3 L464.5,364.5 L467.2,364.5 L467.2,360.7 L468.4,360.7 L468.4,356.9 L471.5,356.9 L471.5,353.1 L472.2,353.1 L472.2,349.3 L473,349.3 L473,345.5 L475.6,345.5 L475.6,341.7 L475.7,341.7 L475.7,338 L476.3,338 L476.3,334.2 L479.7,334.2 L479.7,330.4 L482,330.4 L482,326.6 L484.8,326.6 L484.8,322.8 L489.8,322.8 L489.8,319" fill="none" stroke="#000" stroke-width="1"/><path d="M380,531.2 L417.2,531.2 L417.2,527.5 L435.8,527.5 L435.8,523.7 L443.2,523.7 L443.2,519.9 L447.7,519.9 L447.7,516.1 L453.6,516.1 L453.6,512.3 L457.5,512.3 L457.5,508.5 L462.8,508.5 L462.8,504.7 L467.8,504.7 L467.8,500.9 L468.6,500.9 L468.6,497.1 L471,497.1 L471,493.3 L474.6,493.3 L474.6,489.6 L476.7,489.6 L476.7,485.8 L478.4,485.8 L478.4,482 L478.8,482 L478.8,478.2 L481.4,478.2 L481.4,474.4 L483.7,474.4 L483.7,470.6 L483.7,470.6 L483.7,466.8 L485.1,466.8 L485.1,463 L485.1,463 L485.1,459.2 L486.6,459.2 L486.6,455.4 L486.9,455.4 L486.9,451.7 L489.6,451.7 L489.6,447.9 L489.6,447.9 L489.6,444.1 L491.8,444.1 L491.8,440.3 L492.5,440.3 L492.5,436.5 L492.8,436.5 L492.8,432.7 L492.8,432.7 L492.8,428.9 L493.7,428.9 L493.7,425.1 L494.9,425.1 L494.9,421.3 L496.2,421.3 L496.2,417.5 L496.2,417.5 L496.2,413.8 L499.1,413.8 L499.1,410 L500.3,410 L500.3,406.2 L502.3,406.2 L502.3,402.4 L506,402.4 L506,398.6 L506,398.6 L506,394.8 L507.4,394.8 L507.4,391 L509.9,391 L509.9,387.2 L509.9,387.2 L509.9,383.4 L511.3,383.4 L511.3,379.6 L512.1,379.6 L512.1,375.9 L512.7,375.9 L512.7,372.1 L512.7,372.1 L512.7,368.3 L514,368.3 L514,364.5 L516.2,364.5 L516.2,360.7 L516.2,360.7 L516.2,356.9 L517,356.9 L517,353.1 L517,353.1 L517,349.3 L517.1,349.3 L517.1,345.5 L521.6,345.5 L521.6,341.7 L521.6,341.7 L521.6,338 L521.6,338 L521.6,334.2 L523.8,334.2 L523.8,330.4 L526.6,330.4 L526.6,326.6 L528.7,326.6 L528.7,322.8 L534.7,322.8 L534.7,319" fill="none" stroke="#000" stroke-width="1"/><path d="M343.5,530.9 344.7,530.9 345.8,530.8 347,530.8 348.1,530.8 349.3,530.7 350.4,530.7 351.6,530.7 352.8,530.6 353.9,530.6 355.1,530.5 356.2,530.5 357.4,530.4 358.5,530.4 359.7,530.3 360.9,530.2 362,530.2 363.2,530.1 364.3,530 365.5,529.9 366.7,529.8 367.8,529.8 369,529.6 370.1,529.5 371.3,529.4 372.4,529.3 373.6,529.2 374.8,529 375.9,528.9 377.1,528.7 378.2,528.5 379.4,528.4 380.5,528.2 381.7,527.9 382.9,527.7 384,527.5 385.2,527.2 386.3,527 387.5,526.7 388.6,526.3 389.8,526 391,525.7 392.1,525.3 393.3,524.9 394.4,524.5 395.6,524 396.7,523.5 397.9,523 399.1,522.4 400.2,521.8 401.4,521.2 402.5,520.5 403.7,519.8 404.8,519.1 406,518.3 407.2,517.4 408.3,516.5 409.5,515.5 410.6,514.5 411.8,513.4 413,512.2 414.1,511 415.3,509.6 416.4,508.2 417.6,506.8 418.7,505.2 419.9,503.5 421.1,501.8 422.2,499.9 423.4,497.9 424.5,495.8 425.7,493.6 426.8,491.3 428,488.9 429.2,486.3 430.3,483.6 431.5,480.8 432.6,477.8 433.8,474.6 434.9,471.4 436.1,468 437.3,464.4 438.4,460.7 439.6,456.8 440.7,452.8 441.9,448.6 443,444.3 444.2,439.8 445.4,435.3 446.5,430.6 447.7,425.8 448.8,420.8 450,415.8 451.1,410.8 452.3,405.6 453.5,400.5 454.6,395.3 455.8,390.1 456.9,385 458.1,379.9 459.3,374.9 460.4,370 461.6,365.3 462.7,360.7 463.9,356.3 465,352.1 466.2,348.2 467.4,344.4 468.5,341 469.7,337.8 470.8,335 472,332.4 473.1,330.1 474.3,328 475.5,326.3 476.6,324.8 477.8,323.5 478.9,322.5 480.1,321.6 481.2,320.9 482.4,320.4 483.6,320 484.7,319.7 485.9,319.5 487,319.3 488.2,319.2 489.3,319.1 490.5,319.1 491.7,319 492.8,319 494,319 495.1,319 496.3,319 497.4,319 498.6,319 499.8,319 500.9,319 502.1,319 503.2,319 504.4,319 505.6,319 506.7,319 507.9,319 509,319 510.2,319 511.3,319 512.5,319 513.7,319 514.8,319 516,319 517.1,319 518.3,319 519.4,319 520.6,319 521.8,319 522.9,319 524.1,319 525.2,319 526.4,319 527.5,319 528.7,319 529.9,319 531,319 532.2,319 533.3,319 534.5,319 535.6,319 536.8,319 538,319 539.1,319 540.3,319 541.4,319 542.6,319 543.8,319 544.9,319 546.1,319 547.2,319 548.4,319 549.5,319 550.7,319 551.9,319 553,319 554.2,319 555.3,319 556.5,319 557.6,319 558.8,319 560,319 561.1,319 562.3,319 563.4,319 564.6,319 565.7,319 566.9,319 568.1,319 569.2,319 570.4,319 571.5,319 572.7,319 573.8,319" fill="none" stroke="#6f9bec" stroke-width="2.3"/><path d="M376.1,531.1 377.1,531.1 378,531.1 379,531.1 380,531.1 381,531.1 382,531 383,531 384,531 385,531 386,531 387,531 388,531 389,530.9 390,530.9 391,530.9 392,530.9 393,530.9 394,530.8 394.9,530.8 395.9,530.8 396.9,530.8 397.9,530.7 398.9,530.7 399.9,530.7 400.9,530.6 401.9,530.6 402.9,530.6 403.9,530.5 404.9,530.5 405.9,530.4 406.9,530.4 407.9,530.3 408.9,530.3 409.9,530.2 410.8,530.2 411.8,530.1 412.8,530 413.8,530 414.8,529.9 415.8,529.8 416.8,529.7 417.8,529.6 418.8,529.5 419.8,529.4 420.8,529.3 421.8,529.2 422.8,529.1 423.8,529 424.8,528.9 425.8,528.7 426.8,528.6 427.7,528.4 428.7,528.3 429.7,528.1 430.7,527.9 431.7,527.7 432.7,527.5 433.7,527.3 434.7,527 435.7,526.8 436.7,526.5 437.7,526.3 438.7,526 439.7,525.7 440.7,525.4 441.7,525 442.7,524.7 443.6,524.3 444.6,523.9 445.6,523.4 446.6,523 447.6,522.5 448.6,522 449.6,521.5 450.6,520.9 451.6,520.4 452.6,519.7 453.6,519.1 454.6,518.4 455.6,517.7 456.6,516.9 457.6,516.1 458.6,515.2 459.5,514.3 460.5,513.4 461.5,512.4 462.5,511.3 463.5,510.2 464.5,509 465.5,507.8 466.5,506.5 467.5,505.2 468.5,503.8 469.5,502.3 470.5,500.7 471.5,499 472.5,497.3 473.5,495.5 474.5,493.6 475.5,491.6 476.4,489.5 477.4,487.4 478.4,485.1 479.4,482.7 480.4,480.3 481.4,477.7 482.4,475 483.4,472.2 484.4,469.3 485.4,466.3 486.4,463.2 487.4,460 488.4,456.6 489.4,453.2 490.4,449.6 491.4,446 492.3,442.2 493.3,438.3 494.3,434.4 495.3,430.3 496.3,426.2 497.3,422 498.3,417.7 499.3,413.4 500.3,409 501.3,404.6 502.3,400.2 503.3,395.7 504.3,391.3 505.3,386.9 506.3,382.5 507.3,378.1 508.2,373.9 509.2,369.7 510.2,365.6 511.2,361.7 512.2,357.8 513.2,354.2 514.2,350.6 515.2,347.3 516.2,344.2 517.2,341.2 518.2,338.4 519.2,335.9 520.2,333.6 521.2,331.5 522.2,329.6 523.2,327.9 524.2,326.3 525.1,325 526.1,323.9 527.1,322.9 528.1,322.1 529.1,321.4 530.1,320.9 531.1,320.4 532.1,320.1 533.1,319.8 534.1,319.6 535.1,319.4 536.1,319.3 537.1,319.2 538.1,319.1 539.1,319.1 540.1,319 541,319 542,319 543,319 544,319 545,319 546,319 547,319 548,319 549,319 550,319 551,319 552,319 553,319 554,319 555,319 556,319 556.9,319 557.9,319 558.9,319 559.9,319 560.9,319 561.9,319 562.9,319 563.9,319 564.9,319 565.9,319 566.9,319 567.9,319 568.9,319 569.9,319 570.9,319 571.9,319 572.9,319 573.8,319" fill="none" stroke="#f47a6e" stroke-width="2.3"/></g><g font-family="Liberation Sans, sans-serif" fill="#000"><text x="373.3" y="420.3" font-size="16" font-style="italic">k</text><text x="381.3" y="424.2" font-size="10.5">b</text><text x="387.6" y="420.3" font-size="16" textLength="9.8" lengthAdjust="spacingAndGlyphs">~</text><text x="397.2" y="420.3" font-size="16" textLength="18.4" lengthAdjust="spacingAndGlyphs">10</text><text x="415.6" y="414.8" font-size="10.5">7</text><text x="425.6" y="420.3" font-size="15.5">s</text><text x="434.1" y="415.3" font-size="10.5">-1</text></g><g font-family="Liberation Sans, sans-serif" fill="#000"><text x="510.5" y="420.3" font-size="16" font-style="italic">k</text><text x="518.7" y="424.2" font-size="10.5">s</text><text x="525" y="420.3" font-size="16" textLength="9.8" lengthAdjust="spacingAndGlyphs">~</text><text x="534.6" y="420.3" font-size="16" textLength="18.4" lengthAdjust="spacingAndGlyphs">10</text><text x="553" y="414.8" font-size="10.5">6</text><text x="562" y="420.3" font-size="15.5">s</text><text x="570.5" y="415.3" font-size="10.5">-1</text></g><g stroke="#7f7f7f" stroke-width="1" fill="none" shape-rendering="crispEdges"><line x1="38.5" y1="8.5" x2="38.5" y2="256.5"/><line x1="294.5" y1="8.5" x2="294.5" y2="256.5"/><line x1="38.5" y1="8.5" x2="294.5" y2="8.5"/><line x1="38.5" y1="256.5" x2="294.5" y2="256.5"/><line x1="332.5" y1="8.5" x2="332.5" y2="256.5"/><line x1="588.5" y1="8.5" x2="588.5" y2="256.5"/><line x1="332.5" y1="8.5" x2="588.5" y2="8.5"/><line x1="332.5" y1="256.5" x2="588.5" y2="256.5"/><line x1="42.5" y1="308.5" x2="42.5" y2="542.5"/><line x1="294.5" y1="308.5" x2="294.5" y2="542.5"/><line x1="42.5" y1="308.5" x2="294.5" y2="308.5"/><line x1="42.5" y1="542.5" x2="294.5" y2="542.5"/><line x1="332.5" y1="308.5" x2="332.5" y2="542.5"/><line x1="584.5" y1="308.5" x2="584.5" y2="542.5"/><line x1="332.5" y1="308.5" x2="584.5" y2="308.5"/><line x1="332.5" y1="542.5" x2="584.5" y2="542.5"/></g><g stroke="#555" stroke-width="0.8" fill="none"><line x1="71.5" y1="256.5" x2="71.5" y2="259"/><line x1="365.7" y1="256.5" x2="365.7" y2="259"/><line x1="116" y1="256.5" x2="116" y2="259"/><line x1="410.2" y1="256.5" x2="410.2" y2="259"/><line x1="160.6" y1="256.5" x2="160.6" y2="259"/><line x1="454.7" y1="256.5" x2="454.7" y2="259"/><line x1="205.1" y1="256.5" x2="205.1" y2="259"/><line x1="499.2" y1="256.5" x2="499.2" y2="259"/><line x1="249.7" y1="256.5" x2="249.7" y2="259"/><line x1="543.7" y1="256.5" x2="543.7" y2="259"/><line x1="294.2" y1="256.5" x2="294.2" y2="259"/><line x1="588.2" y1="256.5" x2="588.2" y2="259"/><line x1="36" y1="247.3" x2="38.5" y2="247.3"/><line x1="36" y1="182" x2="38.5" y2="182"/><line x1="36" y1="116.6" x2="38.5" y2="116.6"/><line x1="36" y1="51.3" x2="38.5" y2="51.3"/><line x1="40" y1="348.5" x2="42.5" y2="348.5"/><line x1="40" y1="406.3" x2="42.5" y2="406.3"/><line x1="40" y1="464.1" x2="42.5" y2="464.1"/><line x1="40" y1="521.9" x2="42.5" y2="521.9"/><line x1="584.5" y1="531.2" x2="587" y2="531.2"/><line x1="584.5" y1="488.8" x2="587" y2="488.8"/><line x1="584.5" y1="446.4" x2="587" y2="446.4"/><line x1="584.5" y1="403.9" x2="587" y2="403.9"/><line x1="584.5" y1="361.4" x2="587" y2="361.4"/><line x1="584.5" y1="319" x2="587" y2="319"/><line x1="383.7" y1="542.5" x2="383.7" y2="545" /><line x1="464.1" y1="542.5" x2="464.1" y2="545" /><line x1="544.5" y1="542.5" x2="544.5" y2="545" /><line x1="631" y1="250.9" x2="633.5" y2="250.9"/><line x1="631" y1="219.4" x2="633.5" y2="219.4"/><line x1="631" y1="187.9" x2="633.5" y2="187.9"/><line x1="631" y1="156.4" x2="633.5" y2="156.4"/><line x1="631" y1="124.9" x2="633.5" y2="124.9"/><line x1="631" y1="93.4" x2="633.5" y2="93.4"/><line x1="631" y1="61.9" x2="633.5" y2="61.9"/><line x1="631" y1="30.4" x2="633.5" y2="30.4"/></g><g font-family="'Liberation Sans', sans-serif" fill="#000"><text x="12.2" y="14" font-size="19.3" textLength="22.6" lengthAdjust="spacingAndGlyphs">(a)</text><text x="306.2" y="14" font-size="19.3" textLength="23" lengthAdjust="spacingAndGlyphs">(b)</text><text x="12.9" y="313.6" font-size="19.3" textLength="22.4" lengthAdjust="spacingAndGlyphs">(c)</text><text x="305.4" y="313.8" font-size="19.3" textLength="23.2" lengthAdjust="spacingAndGlyphs">(d)</text><text x="71.5" y="272.8" font-size="16" text-anchor="middle" textLength="23.3" lengthAdjust="spacingAndGlyphs">1.8</text><text x="365.7" y="272.8" font-size="16" text-anchor="middle" textLength="23.3" lengthAdjust="spacingAndGlyphs">1.8</text><text x="116" y="272.8" font-size="16" text-anchor="middle" textLength="23.3" lengthAdjust="spacingAndGlyphs">2.0</text><text x="410.2" y="272.8" font-size="16" text-anchor="middle" textLength="23.3" lengthAdjust="spacingAndGlyphs">2.0</text><text x="160.6" y="272.8" font-size="16" text-anchor="middle" textLength="23.3" lengthAdjust="spacingAndGlyphs">2.2</text><text x="454.7" y="272.8" font-size="16" text-anchor="middle" textLength="23.3" lengthAdjust="spacingAndGlyphs">2.2</text><text x="205.1" y="272.8" font-size="16" text-anchor="middle" textLength="23.3" lengthAdjust="spacingAndGlyphs">2.4</text><text x="499.2" y="272.8" font-size="16" text-anchor="middle" textLength="23.3" lengthAdjust="spacingAndGlyphs">2.4</text><text x="249.7" y="272.8" font-size="16" text-anchor="middle" textLength="23.3" lengthAdjust="spacingAndGlyphs">2.6</text><text x="543.7" y="272.8" font-size="16" text-anchor="middle" textLength="23.3" lengthAdjust="spacingAndGlyphs">2.6</text><text x="294.2" y="272.8" font-size="16" text-anchor="middle" textLength="23.3" lengthAdjust="spacingAndGlyphs">2.8</text><text x="588.2" y="272.8" font-size="16" text-anchor="middle" textLength="23.3" lengthAdjust="spacingAndGlyphs">2.8</text><text x="33.6" y="253.5" font-size="16" text-anchor="end" textLength="8.6" lengthAdjust="spacingAndGlyphs">6</text><text x="33.6" y="188.2" font-size="16" text-anchor="end" textLength="8.6" lengthAdjust="spacingAndGlyphs">8</text><text x="33.6" y="122.8" font-size="16" text-anchor="end" textLength="17.5" lengthAdjust="spacingAndGlyphs">10</text><text x="33.6" y="57.5" font-size="16" text-anchor="end" textLength="17.5" lengthAdjust="spacingAndGlyphs">12</text><text x="166.4" y="290.3" font-size="16" text-anchor="middle" textLength="54.3" lengthAdjust="spacingAndGlyphs">S-O CN</text><text x="460.6" y="290.3" font-size="16" text-anchor="middle" textLength="54.3" lengthAdjust="spacingAndGlyphs">S-O CN</text><text transform="translate(8.7 140.4) rotate(-90)" font-size="16" font-style="italic">s</text><text transform="translate(11.7 131.7) rotate(-90)" font-size="11.2" font-style="italic">a</text><text x="635" y="256.9" font-size="16" textLength="31.8" lengthAdjust="spacingAndGlyphs">−15</text><text x="635" y="225.4" font-size="16" textLength="31.8" lengthAdjust="spacingAndGlyphs">−10</text><text x="635" y="193.9" font-size="16" textLength="22.2" lengthAdjust="spacingAndGlyphs">−5</text><text x="634.8" y="162.4" font-size="16">0</text><text x="634.8" y="130.9" font-size="16">5</text><text x="634.8" y="99.4" font-size="16" textLength="20.2" lengthAdjust="spacingAndGlyphs">10</text><text x="634.8" y="67.9" font-size="16" textLength="20.2" lengthAdjust="spacingAndGlyphs">15</text><text x="634.8" y="36.4" font-size="16" textLength="20.2" lengthAdjust="spacingAndGlyphs">20</text><text x="681.8" y="210.6" font-size="16" textLength="155.5" lengthAdjust="spacingAndGlyphs" transform="rotate(-90 681.8 210.6)">Free Energy [kJ/mol]</text><text x="38.9" y="354.4" font-size="16" text-anchor="end" textLength="20.2" lengthAdjust="spacingAndGlyphs">20</text><text x="38.9" y="412.2" font-size="16" text-anchor="end" textLength="20.2" lengthAdjust="spacingAndGlyphs">10</text><text x="38.9" y="470" font-size="16" text-anchor="end">0</text><text x="38.9" y="527.8" font-size="16" text-anchor="end" textLength="31.8" lengthAdjust="spacingAndGlyphs">−10</text><text x="13.9" y="503.4" font-size="16" textLength="156.9" lengthAdjust="spacingAndGlyphs" transform="rotate(-90 13.9 503.4)">Free Energy [kJ/mol]</text><text x="168.5" y="556" font-size="16" text-anchor="middle" textLength="40.1" lengthAdjust="spacingAndGlyphs">MFEP</text><text x="588" y="537.6" font-size="16" textLength="23.3" lengthAdjust="spacingAndGlyphs">0.0</text><text x="588" y="495.2" font-size="16" textLength="23.3" lengthAdjust="spacingAndGlyphs">0.2</text><text x="588" y="452.8" font-size="16" textLength="23.3" lengthAdjust="spacingAndGlyphs">0.4</text><text x="588" y="410.3" font-size="16" textLength="23.3" lengthAdjust="spacingAndGlyphs">0.6</text><text x="588" y="367.8" font-size="16" textLength="23.3" lengthAdjust="spacingAndGlyphs">0.8</text><text x="588" y="325.4" font-size="16" textLength="23.3" lengthAdjust="spacingAndGlyphs">1.0</text><text x="646.7" y="512.3" font-size="16" textLength="174.9" lengthAdjust="spacingAndGlyphs" transform="rotate(-90 646.7 512.3)">Cumulative Probability</text><text x="458.5" y="574.3" font-size="16" text-anchor="middle" textLength="61.7" lengthAdjust="spacingAndGlyphs">Time [s]</text><text x="366.7" y="557.1" font-size="16" textLength="17.8" lengthAdjust="spacingAndGlyphs">10</text><text x="386.9" y="551.1" font-size="11.2">−9</text><text x="447.1" y="557.1" font-size="16" textLength="17.8" lengthAdjust="spacingAndGlyphs">10</text><text x="467.3" y="551.1" font-size="11.2">−7</text><text x="527.5" y="557.1" font-size="16" textLength="17.8" lengthAdjust="spacingAndGlyphs">10</text><text x="547.7" y="551.1" font-size="11.2">−5</text></g></svg>
</body></html>
